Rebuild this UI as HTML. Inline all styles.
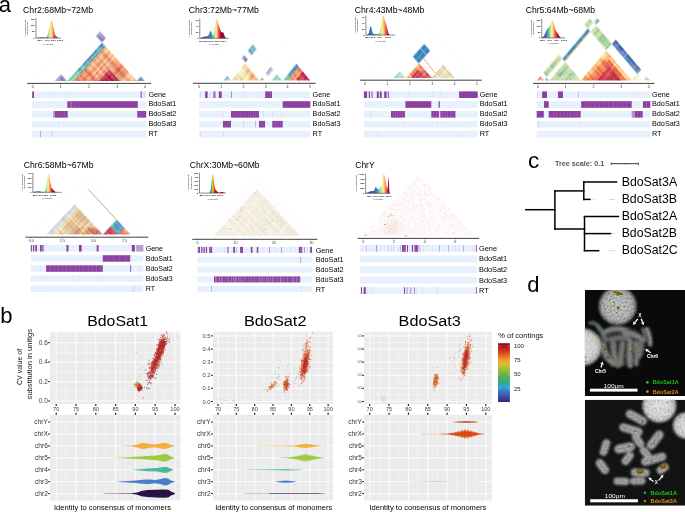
<!DOCTYPE html><html><head><meta charset="utf-8"><title>Figure</title>
<style>html,body{margin:0;padding:0;background:#fff;overflow:hidden}svg{display:block}text{font-family:"Liberation Sans",sans-serif}</style></head><body>
<svg width="685" height="512" viewBox="0 0 685 512">
<defs>
<linearGradient id="rain" x1="0" x2="1" y1="0" y2="0"><stop offset="0" stop-color="#5e4fa2"/><stop offset="0.3" stop-color="#5e4fa2"/><stop offset="0.42" stop-color="#3288bd"/><stop offset="0.5" stop-color="#66c2a5"/><stop offset="0.56" stop-color="#e6f598"/><stop offset="0.61" stop-color="#fee08b"/><stop offset="0.66" stop-color="#f46d43"/><stop offset="0.72" stop-color="#d53e4f"/><stop offset="0.8" stop-color="#9e0142"/><stop offset="1" stop-color="#9e0142"/></linearGradient>
<filter id="b15" x="-5%" y="-5%" width="110%" height="110%"><feGaussianBlur stdDeviation="0.24"/></filter>
<filter id="b25" x="-5%" y="-5%" width="110%" height="110%"><feGaussianBlur stdDeviation="0.4"/></filter>
<filter id="b35" x="-5%" y="-5%" width="110%" height="110%"><feGaussianBlur stdDeviation="0.56"/></filter>
<filter id="b50" x="-5%" y="-5%" width="110%" height="110%"><feGaussianBlur stdDeviation="0.8"/></filter>
</defs>
<rect width="685" height="512" fill="#fff"/>
<text x="-1.3" y="11.7" font-size="22">a</text>
<text x="23" y="13.1" font-size="8.7" textLength="70" lengthAdjust="spacingAndGlyphs">Chr2:68Mb~72Mb</text>
<linearGradient id="ig1" gradientUnits="userSpaceOnUse" x1="36" x2="60.7" y1="0" y2="0"><stop offset="0" stop-color="#5e4fa2"/><stop offset="0.19" stop-color="#4a6db0"/><stop offset="0.34" stop-color="#3288bd"/><stop offset="0.45" stop-color="#66c2a5"/><stop offset="0.52" stop-color="#abdda4"/><stop offset="0.57" stop-color="#e6f598"/><stop offset="0.62" stop-color="#fee08b"/><stop offset="0.67" stop-color="#fdae61"/><stop offset="0.71" stop-color="#f46d43"/><stop offset="0.78" stop-color="#d53e4f"/><stop offset="0.86" stop-color="#9e0142"/><stop offset="1" stop-color="#9e0142"/></linearGradient>
<path d="M36 38L36 37.91L36.3 37.88L36.7 37.86L37 37.83L37.3 37.79L37.7 37.75L38 37.71L38.3 37.67L38.7 37.62L39 37.57L39.3 37.53L39.7 37.48L40 37.44L40.3 37.4L40.7 37.37L41 37.34L41.3 37.32L41.7 37.3L42 37.3L42.3 37.3L42.7 37.32L43 37.34L43.3 37.36L43.7 37.39L44 37.42L44.3 37.45L44.7 37.47L45 37.48L45.3 37.45L45.7 37.39L46 37.26L46.3 37.04L46.7 36.7L47 36.21L47.3 35.53L47.7 34.65L48 33.52L48.4 32.16L48.7 30.58L49 28.83L49.4 26.98L49.7 25.13L50 23.39L50.4 21.9L50.7 20.76L51 20.07L51.4 19.88L51.7 20.21L52 21.03L52.4 22.25L52.7 23.78L53 25.49L53.4 27.26L53.7 28.98L54 30.56L54.4 31.96L54.7 33.15L55 34.13L55.4 34.93L55.7 35.58L56 36.1L56.4 36.53L56.7 36.88L57 37.16L57.4 37.39L57.7 37.57L58 37.71L58.4 37.81L58.7 37.88L59 37.93L59.4 37.96L59.7 37.98L60 37.99L60.4 37.99L60.7 38L60.7 38z" fill="url(#ig1)"/>
<line x1="36" y1="18.3" x2="36" y2="38.3" stroke="#222" stroke-width="0.5"/>
<line x1="35.8" y1="38.1" x2="60.7" y2="38.1" stroke="#222" stroke-width="0.5"/>
<text x="34.7" y="19.5" font-size="2.4" text-anchor="end" font-weight="bold" fill="#111">150</text>
<line x1="35.2" y1="18.7" x2="36" y2="18.7" stroke="#444" stroke-width="0.3"/>
<text x="34.7" y="25.8" font-size="2.4" text-anchor="end" font-weight="bold" fill="#111">100</text>
<line x1="35.2" y1="25" x2="36" y2="25" stroke="#444" stroke-width="0.3"/>
<text x="34.7" y="32.2" font-size="2.4" text-anchor="end" font-weight="bold" fill="#111">50</text>
<line x1="35.2" y1="31.4" x2="36" y2="31.4" stroke="#444" stroke-width="0.3"/>
<text x="34.7" y="38.5" font-size="2.4" text-anchor="end" font-weight="bold" fill="#111">0</text>
<line x1="35.2" y1="37.7" x2="36" y2="37.7" stroke="#444" stroke-width="0.3"/>
<text x="39.9" y="41.4" font-size="2.4" text-anchor="middle" font-weight="bold" fill="#111">85.0</text>
<line x1="39.9" y1="38" x2="39.9" y2="38.8" stroke="#444" stroke-width="0.3"/>
<text x="47.4" y="41.4" font-size="2.4" text-anchor="middle" font-weight="bold" fill="#111">90.0</text>
<line x1="47.4" y1="38" x2="47.4" y2="38.8" stroke="#444" stroke-width="0.3"/>
<text x="53.4" y="41.4" font-size="2.4" text-anchor="middle" font-weight="bold" fill="#111">95.0</text>
<line x1="53.4" y1="38" x2="53.4" y2="38.8" stroke="#444" stroke-width="0.3"/>
<text x="60.1" y="41.4" font-size="2.4" text-anchor="middle" font-weight="bold" fill="#111">100.0</text>
<line x1="60.1" y1="38" x2="60.1" y2="38.8" stroke="#444" stroke-width="0.3"/>
<text x="48.35" y="44.6" font-size="2.45" text-anchor="middle" fill="#333">% identity</text>
<text x="25.8" y="28.15" font-size="2.5" text-anchor="middle" fill="#222" transform="rotate(-90 25.8 28.15)"># of alignments</text>
<text x="28.2" y="28.15" font-size="2.5" text-anchor="middle" fill="#222" transform="rotate(-90 28.2 28.15)">(thousands)</text>
<g stroke="#f0a8b4" stroke-width="0.5" stroke-dasharray="0.7 1.3" opacity="0.26" fill="none">
<path d="M32.2 80.9L89.2 17.86L146.2 80.9"/>
<path d="M55 80.9L100.6 30.47"/>
<path d="M145 80.9L88.6 18.52"/>
</g>
<clipPath id="hc2"><rect x="0" y="0" width="685" height="80.9"/></clipPath>
<g clip-path="url(#hc2)"><g stroke-linecap="square" transform="matrix(0.5 0.55 0.5 -0.55 0 80.9)" filter="url(#b35)">
<path stroke="#9a91c5" stroke-width="2.5" d="M56.3 56.3h0M56.3 58.6h0M56.3 61h0M56.3 63.3h0M56.3 65.6h0"/>
<path stroke="#867bb9" stroke-width="2.5" d="M58.6 58.6h0"/>
<path stroke="#7c88c0" stroke-width="2.5" d="M58.6 61h0M58.6 63.3h0M58.6 65.6h0M61 61h0M61 63.3h0M61 65.6h0M63.3 63.3h0M63.3 65.6h0M65.6 65.6h0"/>
<path stroke="#7c88c0" stroke-width="2.7" d="M138.2 138.2h0M138.2 140.8h0M138.2 143.3h0M140.8 143.3h0M143.3 143.3h0"/>
<path stroke="#867bb9" stroke-width="2.7" d="M140.8 140.8h0M58.6 138.2h0M58.6 140.8h0M58.6 143.3h0M61 138.2h0M61 140.8h0M61 143.3h0M63.3 138.2h0M63.3 140.8h0M63.3 143.3h0M65.6 138.2h0M65.6 140.8h0M65.6 143.3h0"/>
<path stroke="#9a91c5" stroke-width="2.7" d="M56.3 138.2h0M56.3 140.8h0M56.3 143.3h0"/>
<path stroke="#73c7a5" stroke-width="2.5" d="M68.7 68.7h0M68.7 71.1h0M68.7 73.4h0M68.7 75.8h0M68.7 78.2h0M68.7 80.6h0M68.7 85.3h0M71.1 82.9h0M71.1 97.2h0M73.4 73.4h0M73.4 75.8h0M73.4 78.2h0M73.4 80.6h0M73.4 85.3h0"/>
<path stroke="#4fa9b0" stroke-width="2.5" d="M68.7 82.9h0M68.7 87.7h0M68.7 97.2h0M68.7 128.1h0M71.1 102h0M71.1 106.7h0M71.1 111.5h0M71.1 123.3h0M71.1 135.2h0M73.4 82.9h0M73.4 97.2h0"/>
<path stroke="#3f96b7" stroke-width="2.5" d="M68.7 90.1h0M68.7 92.4h0M68.7 99.6h0M68.7 104.3h0M68.7 111.5h0M68.7 113.8h0M68.7 118.6h0M68.7 125.7h0M68.7 130.5h0M71.1 109.1h0M71.1 116.2h0M71.1 121h0M71.1 132.8h0M73.4 87.7h0M73.4 90.1h0M73.4 92.4h0M73.4 99.6h0M73.4 104.3h0M73.4 113.8h0M73.4 118.6h0M73.4 128.1h0M73.4 130.5h0"/>
<path stroke="#60bba8" stroke-width="2.5" d="M68.7 94.8h0M71.1 87.7h0M71.1 90.1h0M71.1 92.4h0M71.1 99.6h0M71.1 104.3h0M71.1 113.8h0M71.1 118.6h0M71.1 125.7h0M71.1 128.1h0M71.1 130.5h0M73.4 94.8h0"/>
<path stroke="#3584bb" stroke-width="2.5" d="M68.7 102h0M68.7 106.7h0M68.7 121h0M68.7 123.3h0M68.7 135.2h0M73.4 102h0M73.4 106.7h0M73.4 111.5h0M73.4 123.3h0M73.4 125.7h0M73.4 135.2h0"/>
<path stroke="#4273b3" stroke-width="2.5" d="M68.7 109.1h0M68.7 116.2h0M68.7 132.8h0M73.4 109.1h0M73.4 116.2h0M73.4 121h0M73.4 132.8h0"/>
<path stroke="#9ed8a4" stroke-width="2.5" d="M71.1 71.1h0M71.1 75.8h0M71.1 78.2h0M71.1 80.6h0M71.1 85.3h0"/>
<path stroke="#88d0a4" stroke-width="2.5" d="M71.1 73.4h0M71.1 94.8h0"/>
<path stroke="#f06744" stroke-width="2.5" d="M75.8 75.8h0M75.8 97.2h0M78.2 78.2h0M78.2 80.6h0M80.6 80.6h0M87.7 94.8h0M97.2 97.2h0M99.6 128.1h0M102 128.1h0M106.7 123.3h0M106.7 135.2h0M109.1 123.3h0M109.1 135.2h0M111.5 128.1h0M113.8 125.7h0M116.2 125.7h0M116.2 130.5h0M118.6 125.7h0"/>
<path stroke="#e65848" stroke-width="2.5" d="M75.8 78.2h0M75.8 80.6h0M78.2 85.3h0M78.2 94.8h0M80.6 85.3h0M80.6 94.8h0M82.9 97.2h0M85.3 97.2h0M90.1 97.2h0M92.4 94.8h0M94.8 97.2h0M106.7 125.7h0M109.1 125.7h0M113.8 130.5h0M116.2 128.1h0M118.6 130.5h0"/>
<path stroke="#f88e52" stroke-width="2.5" d="M75.8 82.9h0M75.8 87.7h0M75.8 90.1h0M75.8 92.4h0M85.3 90.1h0M85.3 92.4h0M90.1 90.1h0M99.6 125.7h0M102 123.3h0M102 135.2h0M104.3 125.7h0M104.3 130.5h0M111.5 123.3h0M111.5 135.2h0M113.8 121h0M113.8 132.8h0M116.2 121h0M116.2 123.3h0M116.2 135.2h0M118.6 121h0M118.6 132.8h0M121 121h0"/>
<path stroke="#dd4a4c" stroke-width="2.5" d="M75.8 85.3h0M75.8 94.8h0M85.3 85.3h0M85.3 94.8h0M99.6 109.1h0M99.6 116.2h0M102 116.2h0M104.3 116.2h0M106.7 130.5h0M109.1 130.5h0M113.8 128.1h0M118.6 128.1h0"/>
<path stroke="#fcad70" stroke-width="2.5" d="M75.8 99.6h0M75.8 102h0M75.8 121h0M75.8 123.3h0M75.8 135.2h0M78.2 111.5h0M78.2 125.7h0M78.2 130.5h0M80.6 106.7h0M80.6 111.5h0M80.6 125.7h0M80.6 130.5h0M82.9 109.1h0M82.9 116.2h0M85.3 102h0M85.3 109.1h0M85.3 116.2h0M85.3 123.3h0M85.3 135.2h0M87.7 104.3h0M87.7 118.6h0M87.7 130.5h0M90.1 109.1h0M90.1 116.2h0M92.4 111.5h0M92.4 125.7h0M92.4 130.5h0M94.8 109.1h0M94.8 116.2h0M97.2 99.6h0M97.2 102h0M97.2 121h0M97.2 123.3h0M97.2 135.2h0M121 123.3h0M121 135.2h0M128.1 135.2h0M132.8 135.2h0"/>
<path stroke="#f27a5c" stroke-width="2.5" d="M75.8 104.3h0M75.8 113.8h0M75.8 118.6h0M75.8 128.1h0M82.9 111.5h0M82.9 130.5h0M85.3 104.3h0M85.3 118.6h0M90.1 111.5h0M90.1 130.5h0M94.8 111.5h0M94.8 130.5h0M97.2 104.3h0M97.2 113.8h0M97.2 118.6h0M97.2 128.1h0M121 128.1h0M128.1 128.1h0"/>
<path stroke="#f99c68" stroke-width="2.5" d="M75.8 106.7h0M75.8 125.7h0M78.2 104.3h0M78.2 113.8h0M78.2 118.6h0M78.2 128.1h0M80.6 104.3h0M80.6 118.6h0M82.9 99.6h0M82.9 102h0M82.9 121h0M82.9 123.3h0M82.9 135.2h0M85.3 99.6h0M85.3 121h0M87.7 113.8h0M87.7 128.1h0M90.1 99.6h0M90.1 102h0M90.1 121h0M90.1 123.3h0M90.1 135.2h0M92.4 104.3h0M92.4 113.8h0M92.4 118.6h0M92.4 128.1h0M94.8 99.6h0M94.8 102h0M94.8 121h0M94.8 123.3h0M94.8 135.2h0M97.2 106.7h0M97.2 125.7h0M121 125.7h0M123.3 128.1h0M125.7 125.7h0M125.7 130.5h0M135.2 135.2h0"/>
<path stroke="#fdbe79" stroke-width="2.5" d="M75.8 109.1h0M75.8 116.2h0M78.2 99.6h0M78.2 106.7h0M80.6 99.6h0M82.9 132.8h0M85.3 132.8h0M87.7 106.7h0M87.7 111.5h0M87.7 125.7h0M90.1 132.8h0M92.4 99.6h0M92.4 106.7h0M94.8 132.8h0M97.2 109.1h0M97.2 116.2h0M123.3 125.7h0M123.3 130.5h0M125.7 135.2h0M130.5 130.5h0M132.8 132.8h0"/>
<path stroke="#f78a5f" stroke-width="2.5" d="M75.8 111.5h0M75.8 130.5h0M80.6 113.8h0M80.6 128.1h0M82.9 106.7h0M82.9 125.7h0M85.3 106.7h0M85.3 111.5h0M85.3 125.7h0M85.3 130.5h0M90.1 106.7h0M90.1 125.7h0M94.8 106.7h0M94.8 125.7h0M97.2 111.5h0M97.2 130.5h0M121 130.5h0M125.7 128.1h0M128.1 130.5h0"/>
<path stroke="#fecb85" stroke-width="2.5" d="M75.8 132.8h0M78.2 102h0M78.2 121h0M78.2 123.3h0M78.2 135.2h0M80.6 102h0M80.6 109.1h0M80.6 121h0M80.6 123.3h0M80.6 135.2h0M87.7 99.6h0M87.7 121h0M87.7 123.3h0M87.7 135.2h0M92.4 102h0M92.4 121h0M92.4 123.3h0M92.4 135.2h0M97.2 132.8h0M121 132.8h0M128.1 132.8h0"/>
<path stroke="#fba25b" stroke-width="2.5" d="M78.2 82.9h0M78.2 87.7h0M78.2 90.1h0M78.2 92.4h0M80.6 82.9h0M80.6 87.7h0M80.6 90.1h0M80.6 92.4h0M92.4 92.4h0M99.6 123.3h0M99.6 135.2h0M102 121h0M104.3 123.3h0M104.3 135.2h0M111.5 121h0M116.2 132.8h0"/>
<path stroke="#f67949" stroke-width="2.5" d="M78.2 97.2h0M80.6 97.2h0M82.9 82.9h0M82.9 87.7h0M82.9 90.1h0M82.9 92.4h0M85.3 87.7h0M87.7 97.2h0M90.1 92.4h0M92.4 97.2h0M99.6 130.5h0M102 125.7h0M102 130.5h0M104.3 128.1h0M106.7 121h0M106.7 132.8h0M109.1 121h0M109.1 132.8h0M111.5 125.7h0M111.5 130.5h0M113.8 123.3h0M113.8 135.2h0M118.6 123.3h0M118.6 135.2h0"/>
<path stroke="#fed990" stroke-width="2.5" d="M78.2 109.1h0M78.2 116.2h0M80.6 116.2h0M80.6 132.8h0M87.7 102h0M87.7 109.1h0M87.7 116.2h0M92.4 109.1h0M92.4 116.2h0M123.3 123.3h0M123.3 135.2h0M125.7 132.8h0M130.5 135.2h0"/>
<path stroke="#fee69c" stroke-width="2.5" d="M78.2 132.8h0M87.7 132.8h0M92.4 132.8h0M123.3 132.8h0"/>
<path stroke="#d23a4e" stroke-width="2.5" d="M82.9 85.3h0M82.9 94.8h0M90.1 94.8h0M94.8 94.8h0M99.6 102h0M99.6 106.7h0M99.6 111.5h0M99.6 113.8h0M99.6 118.6h0M102 109.1h0M102 118.6h0M104.3 109.1h0M104.3 111.5h0M104.3 118.6h0M106.7 128.1h0M109.1 128.1h0M111.5 116.2h0"/>
<path stroke="#ea6d5f" stroke-width="2.5" d="M82.9 104.3h0M82.9 113.8h0M82.9 118.6h0M82.9 128.1h0M85.3 113.8h0M85.3 128.1h0M90.1 104.3h0M90.1 113.8h0M90.1 118.6h0M90.1 128.1h0M94.8 104.3h0M94.8 113.8h0M94.8 118.6h0M94.8 128.1h0"/>
<path stroke="#fdb466" stroke-width="2.5" d="M87.7 87.7h0M87.7 90.1h0M87.7 92.4h0M99.6 121h0M99.6 132.8h0M102 132.8h0M104.3 121h0M104.3 132.8h0M111.5 132.8h0"/>
<path stroke="#c0274a" stroke-width="2.5" d="M99.6 99.6h0M99.6 104.3h0M102 102h0M102 106.7h0M102 111.5h0M102 113.8h0M104.3 104.3h0M104.3 106.7h0M104.3 113.8h0M106.7 116.2h0M109.1 116.2h0M111.5 111.5h0M111.5 118.6h0M113.8 116.2h0M116.2 116.2h0"/>
<path stroke="#af1446" stroke-width="2.5" d="M102 104.3h0M106.7 106.7h0M106.7 109.1h0M106.7 111.5h0M106.7 118.6h0M109.1 109.1h0M109.1 118.6h0M111.5 113.8h0M113.8 118.6h0M116.2 118.6h0"/>
<path stroke="#9e0142" stroke-width="2.5" d="M106.7 113.8h0M109.1 111.5h0M109.1 113.8h0M113.8 113.8h0M118.6 118.6h0"/>
<path stroke="#feeeab" stroke-width="2.5" d="M130.5 132.8h0"/>
<path stroke="#d23a4e" stroke-width="2.6" d="M100.8 100.8h0M100.8 105.8h0M100.8 108.2h0M100.8 110.8h0M100.8 118.2h0M103.2 115.8h0M110.8 115.8h0"/>
<path stroke="#c0274a" stroke-width="2.6" d="M100.8 103.2h0M100.8 113.2h0M103.2 118.2h0M105.8 115.8h0M108.2 108.2h0M108.2 110.8h0M108.2 118.2h0M110.8 110.8h0M110.8 118.2h0M115.8 115.8h0"/>
<path stroke="#dd4a4c" stroke-width="2.6" d="M100.8 115.8h0M108.2 115.8h0"/>
<path stroke="#9e0142" stroke-width="2.6" d="M103.2 103.2h0M105.8 105.8h0M105.8 108.2h0M105.8 113.2h0M113.2 113.2h0M113.2 118.2h0"/>
<path stroke="#af1446" stroke-width="2.6" d="M103.2 105.8h0M103.2 108.2h0M103.2 110.8h0M103.2 113.2h0M105.8 110.8h0M105.8 118.2h0M108.2 113.2h0M110.8 113.2h0M113.2 115.8h0M115.8 118.2h0M118.2 118.2h0"/>
<path fill="#fff" opacity="0.4" d="M57.6 57.6h0.5v9.2h-0.5zM63.8 63.8h0.5v3h-0.5zM55.1 55.7h0.6v0.5h-0.6zM55.1 57h1.9v0.5h-1.9zM55.1 59.8h4.7v0.5h-4.7zM55.1 60.6h5.5v0.5h-5.5zM55.1 65.6h10.5v0.5h-10.5zM57.3 136.9h0.5v7.7h-0.5zM59.7 136.9h0.5v7.7h-0.5zM62.4 136.9h0.5v7.7h-0.5zM55.1 137.9h11.7v0.5h-11.7zM55.1 141h11.7v0.5h-11.7zM55.1 142h11.7v0.5h-11.7zM55.1 143.5h11.7v0.5h-11.7z"/>
<path fill="#5e4fa2" opacity="0.2" d="M59.7 59.7h0.5v7.1h-0.5zM61.1 61.1h0.5v5.7h-0.5zM55.1 62.1h7v0.5h-7zM55.1 63.6h8.5v0.5h-8.5zM137.7 137.7h0.5v6.9h-0.5zM139 139h0.5v5.6h-0.5zM136.9 139.1h2.2v0.5h-2.2zM64.6 136.9h0.5v7.7h-0.5zM65.5 136.9h0.5v7.7h-0.5zM55.1 137h11.7v0.5h-11.7zM55.1 138.8h11.7v0.5h-11.7z"/>
<path fill="#b9d4b0" opacity="0.4" d="M71 71h0.6v65.4h-0.6zM77.1 77.1h0.6v59.3h-0.6zM83.7 83.7h0.6v52.7h-0.6zM112.6 112.6h0.6v23.8h-0.6zM116.2 116.2h0.6v20.2h-0.6zM117.3 117.3h0.6v19.1h-0.6zM119 119h0.6v17.4h-0.6zM120.2 120.2h0.6v16.2h-0.6zM67.5 67.8h0.3v0.6h-0.3zM67.5 73.7h6.2v0.6h-6.2zM67.5 78.6h11.1v0.6h-11.1zM67.5 93.2h25.7v0.6h-25.7zM67.5 101h33.5v0.6h-33.5zM67.5 104.7h37.2v0.6h-37.2zM67.5 108.9h41.4v0.6h-41.4zM67.5 115h47.5v0.6h-47.5zM67.5 117.4h49.9v0.6h-49.9zM67.5 119.7h52.2v0.6h-52.2zM67.5 123h55.5v0.6h-55.5zM67.5 124.5h57v0.6h-57zM67.5 131h63.5v0.6h-63.5z"/>
<path fill="#fff" opacity="0.2" d="M71.8 71.8h0.6v64.6h-0.6zM86.7 86.7h0.6v49.7h-0.6zM92.4 92.4h0.6v44h-0.6zM94.9 94.9h0.6v41.5h-0.6zM99.9 99.9h0.6v36.5h-0.6zM103 103h0.6v33.4h-0.6zM113.5 113.5h0.6v22.9h-0.6zM123.4 123.4h0.6v13h-0.6zM125.9 125.9h0.6v10.5h-0.6zM67.5 79.4h11.9v0.6h-11.9zM67.5 89.8h22.3v0.6h-22.3zM67.5 92h24.5v0.6h-24.5zM67.5 95.4h27.9v0.6h-27.9zM67.5 96.9h29.4v0.6h-29.4zM67.5 107.7h40.2v0.6h-40.2zM67.5 121.6h54.1v0.6h-54.1zM67.5 129.5h62v0.6h-62zM99.5 104.6h5.1v0.6h-5.1z"/>
<path fill="#66c2a5" opacity="0.25" d="M73.3 73.3h0.6v63.1h-0.6zM132.1 132.1h0.6v4.3h-0.6zM67.5 88.3h20.8v0.6h-20.8zM67.5 91h23.5v0.6h-23.5zM67.5 94.1h26.6v0.6h-26.6zM67.5 98.1h30.6v0.6h-30.6zM67.5 120.5h53v0.6h-53zM67.5 126.8h59.3v0.6h-59.3zM67.5 128.4h60.9v0.6h-60.9z"/>
<path fill="#d53e4f" opacity="0.2" d="M76.4 76.4h0.6v60h-0.6zM82.2 82.2h0.6v54.2h-0.6zM88.5 88.5h0.6v47.9h-0.6zM89.8 89.8h0.6v46.6h-0.6zM94 94h0.6v42.4h-0.6zM95.7 95.7h0.6v40.7h-0.6zM96.6 96.6h0.6v39.8h-0.6zM98.3 98.3h0.6v38.1h-0.6zM104.2 104.2h0.6v32.2h-0.6zM105.5 105.5h0.6v30.9h-0.6zM109.7 109.7h0.6v26.7h-0.6zM122 122h0.6v14.4h-0.6zM130.5 130.5h0.6v5.9h-0.6zM133.2 133.2h0.6v3.2h-0.6zM67.5 84.8h17.3v0.6h-17.3zM67.5 87.4h19.9v0.6h-19.9zM67.5 110.9h43.4v0.6h-43.4zM67.5 116.3h48.8v0.6h-48.8zM67.5 132.5h65v0.6h-65z"/>
<path fill="#9e0142" opacity="0.3" d="M101.5 101.5h0.6v18h-0.6zM106.2 106.2h0.6v13.3h-0.6zM111.6 111.6h0.6v7.9h-0.6zM113.3 113.3h0.6v6.2h-0.6zM116 116h0.6v3.5h-0.6zM99.5 110.3h10.8v0.6h-10.8zM99.5 112.5h13v0.6h-13z"/>
<path fill="#f46d43" opacity="0.3" d="M103 103h0.6v16.5h-0.6zM107.6 107.6h0.6v11.9h-0.6zM117.5 117.5h0.6v2h-0.6zM99.5 99.7h0.2v0.6h-0.2zM99.5 105.7h6.2v0.6h-6.2zM99.5 108.8h9.3v0.6h-9.3zM99.5 115.6h16.1v0.6h-16.1z"/>
</g></g>
<line x1="27.2" y1="83.4" x2="151" y2="83.4" stroke="#2a2a2a" stroke-width="0.9"/>
<line x1="32.9" y1="83.4" x2="32.9" y2="84.4" stroke="#222" stroke-width="0.4"/>
<text x="32.9" y="88.4" font-size="3.7" text-anchor="middle" fill="#3a3a3a">0</text>
<line x1="60.8" y1="83.4" x2="60.8" y2="84.4" stroke="#222" stroke-width="0.4"/>
<text x="60.8" y="88.4" font-size="3.7" text-anchor="middle" fill="#3a3a3a">1</text>
<line x1="89" y1="83.4" x2="89" y2="84.4" stroke="#222" stroke-width="0.4"/>
<text x="89" y="88.4" font-size="3.7" text-anchor="middle" fill="#3a3a3a">2</text>
<line x1="117.2" y1="83.4" x2="117.2" y2="84.4" stroke="#222" stroke-width="0.4"/>
<text x="117.2" y="88.4" font-size="3.7" text-anchor="middle" fill="#3a3a3a">3</text>
<line x1="145" y1="83.4" x2="145" y2="84.4" stroke="#222" stroke-width="0.4"/>
<text x="145" y="88.4" font-size="3.7" text-anchor="middle" fill="#3a3a3a">4</text>
<rect x="32.2" y="91.4" width="114" height="6.6" fill="#e6f1fd"/>
<rect x="32.2" y="91.4" width="1.8" height="6.6" fill="#8b40a2"/>
<rect x="140.6" y="91.4" width="1.1" height="6.6" fill="#8b40a2"/>
<rect x="50.5" y="91.4" width="0.3" height="6.6" fill="#8b40a2" opacity="0.15"/>
<rect x="66.5" y="91.4" width="0.3" height="6.6" fill="#8b40a2" opacity="0.15"/>
<rect x="143.5" y="91.4" width="1.5" height="6.6" fill="#8b40a2" opacity="0.15"/>
<text x="148.4" y="96.65" font-size="7.25">Gene</text>
<rect x="32.2" y="101.2" width="114" height="6.6" fill="#e6f1fd"/>
<rect x="67.3" y="101.2" width="70.5" height="6.6" fill="#8b40a2"/>
<rect x="33" y="101.2" width="0.3" height="6.6" fill="#8b40a2" opacity="0.15"/>
<text x="148.4" y="106.45" font-size="7.25">BdoSat1</text>
<rect x="32.2" y="111" width="114" height="6.6" fill="#e6f1fd"/>
<rect x="53" y="111" width="2" height="6.6" fill="#8b40a2" opacity="0.5"/>
<rect x="55" y="111" width="12.7" height="6.6" fill="#8b40a2"/>
<rect x="137.3" y="111" width="8.9" height="6.6" fill="#8b40a2"/>
<text x="148.4" y="116.25" font-size="7.25">BdoSat2</text>
<rect x="32.2" y="120.9" width="114" height="6.6" fill="#e6f1fd"/>
<rect x="58.3" y="120.9" width="0.3" height="6.6" fill="#8b40a2" opacity="0.12"/>
<rect x="63" y="120.9" width="0.3" height="6.6" fill="#8b40a2" opacity="0.12"/>
<text x="148.4" y="126.15" font-size="7.25">BdoSat3</text>
<rect x="32.2" y="130.8" width="114" height="6.6" fill="#e6f1fd"/>
<rect x="40" y="130.8" width="0.5" height="6.6" fill="#8b40a2" opacity="0.8"/>
<rect x="51.2" y="130.8" width="0.4" height="6.6" fill="#8b40a2" opacity="0.3"/>
<rect x="52.5" y="130.8" width="0.3" height="6.6" fill="#8b40a2" opacity="0.12"/>
<text x="148.4" y="136.05" font-size="7.25">RT</text>
<rect x="70" y="101.2" width="2" height="6.6" fill="#fff" opacity="0.18"/>
<rect x="75.5" y="101.2" width="0.5" height="6.6" fill="#fff" opacity="0.18"/>
<rect x="79" y="101.2" width="0.4" height="6.6" fill="#fff" opacity="0.18"/>
<rect x="84" y="101.2" width="0.3" height="6.6" fill="#fff" opacity="0.18"/>
<rect x="57.5" y="111" width="0.5" height="6.6" fill="#fff" opacity="0.2"/>
<rect x="59.8" y="111" width="0.5" height="6.6" fill="#fff" opacity="0.2"/>
<rect x="62" y="111" width="0.5" height="6.6" fill="#fff" opacity="0.2"/>
<rect x="64.5" y="111" width="0.5" height="6.6" fill="#fff" opacity="0.2"/>
<rect x="139.5" y="111" width="0.5" height="6.6" fill="#fff" opacity="0.2"/>
<rect x="141.5" y="111" width="0.5" height="6.6" fill="#fff" opacity="0.2"/>
<rect x="143.8" y="111" width="0.5" height="6.6" fill="#fff" opacity="0.2"/>
<text x="188.7" y="13.1" font-size="8.7" textLength="70.3" lengthAdjust="spacingAndGlyphs">Chr3:72Mb~77Mb</text>
<linearGradient id="ig2" gradientUnits="userSpaceOnUse" x1="199.8" x2="228.6" y1="0" y2="0"><stop offset="0" stop-color="#5e4fa2"/><stop offset="0.29" stop-color="#4a6db0"/><stop offset="0.39" stop-color="#3288bd"/><stop offset="0.46" stop-color="#66c2a5"/><stop offset="0.51" stop-color="#abdda4"/><stop offset="0.55" stop-color="#e6f598"/><stop offset="0.58" stop-color="#fee08b"/><stop offset="0.61" stop-color="#fdae61"/><stop offset="0.64" stop-color="#f46d43"/><stop offset="0.68" stop-color="#d53e4f"/><stop offset="0.73" stop-color="#9e0142"/><stop offset="1" stop-color="#9e0142"/></linearGradient>
<path d="M199.8 38.2L199.8 37.98L200.1 37.92L200.5 37.85L200.8 37.78L201.1 37.69L201.5 37.59L201.8 37.48L202.1 37.37L202.5 37.25L202.8 37.12L203.1 36.99L203.5 36.86L203.8 36.74L204.2 36.63L204.5 36.53L204.8 36.44L205.2 36.37L205.5 36.32L205.8 36.3L206.2 36.29L206.5 36.29L206.8 36.29L207.2 36.27L207.5 36.2L207.8 36.04L208.2 35.74L208.5 35.27L208.8 34.61L209.2 33.79L209.5 32.9L209.8 32.04L210.2 31.38L210.5 31.05L210.9 31.11L211.2 31.58L211.5 32.35L211.9 33.29L212.2 34.2L212.5 34.91L212.9 35.27L213.2 35.18L213.5 34.56L213.9 33.4L214.2 31.72L214.5 29.6L214.9 27.19L215.2 24.71L215.5 22.41L215.9 20.54L216.2 19.3L216.5 18.8L216.9 19.03L217.2 19.84L217.5 21.03L217.9 22.39L218.2 23.73L218.6 24.94L218.9 26.02L219.2 26.99L219.6 27.92L219.9 28.87L220.2 29.83L220.6 30.74L220.9 31.52L221.2 32.06L221.6 32.33L221.9 32.35L222.2 32.23L222.6 32.12L222.9 32.19L223.2 32.54L223.6 33.18L223.9 34.04L224.2 35L224.6 35.91L224.9 36.68L225.3 37.27L225.6 37.67L225.9 37.92L226.3 38.06L226.6 38.14L226.9 38.17L227.3 38.19L227.6 38.2L227.9 38.2L228.3 38.2L228.6 38.2L228.6 38.2z" fill="url(#ig2)"/>
<line x1="199.8" y1="18.5" x2="199.8" y2="38.5" stroke="#222" stroke-width="0.5"/>
<line x1="199.6" y1="38.3" x2="228.6" y2="38.3" stroke="#222" stroke-width="0.5"/>
<text x="198.5" y="21.3" font-size="2.4" text-anchor="end" font-weight="bold" fill="#111">60</text>
<line x1="199" y1="20.5" x2="199.8" y2="20.5" stroke="#444" stroke-width="0.3"/>
<text x="198.5" y="27.1" font-size="2.4" text-anchor="end" font-weight="bold" fill="#111">40</text>
<line x1="199" y1="26.3" x2="199.8" y2="26.3" stroke="#444" stroke-width="0.3"/>
<text x="198.5" y="33" font-size="2.4" text-anchor="end" font-weight="bold" fill="#111">20</text>
<line x1="199" y1="32.2" x2="199.8" y2="32.2" stroke="#444" stroke-width="0.3"/>
<text x="198.5" y="38.8" font-size="2.4" text-anchor="end" font-weight="bold" fill="#111">0</text>
<line x1="199" y1="38" x2="199.8" y2="38" stroke="#444" stroke-width="0.3"/>
<text x="201.5" y="41.6" font-size="2.4" text-anchor="middle" font-weight="bold" fill="#111">80.0</text>
<line x1="201.5" y1="38.2" x2="201.5" y2="39" stroke="#444" stroke-width="0.3"/>
<text x="206.5" y="41.6" font-size="2.4" text-anchor="middle" font-weight="bold" fill="#111">85.0</text>
<line x1="206.5" y1="38.2" x2="206.5" y2="39" stroke="#444" stroke-width="0.3"/>
<text x="211.5" y="41.6" font-size="2.4" text-anchor="middle" font-weight="bold" fill="#111">90.0</text>
<line x1="211.5" y1="38.2" x2="211.5" y2="39" stroke="#444" stroke-width="0.3"/>
<text x="217" y="41.6" font-size="2.4" text-anchor="middle" font-weight="bold" fill="#111">95.0</text>
<line x1="217" y1="38.2" x2="217" y2="39" stroke="#444" stroke-width="0.3"/>
<text x="223" y="41.6" font-size="2.4" text-anchor="middle" font-weight="bold" fill="#111">100.0</text>
<line x1="223" y1="38.2" x2="223" y2="39" stroke="#444" stroke-width="0.3"/>
<text x="214.2" y="44.8" font-size="2.45" text-anchor="middle" fill="#333">% identity</text>
<text x="189.6" y="28.35" font-size="2.5" text-anchor="middle" fill="#222" transform="rotate(-90 189.6 28.35)"># of alignments</text>
<text x="192" y="28.35" font-size="2.5" text-anchor="middle" fill="#222" transform="rotate(-90 192 28.35)">(thousands)</text>
<clipPath id="c3o"><rect x="190" y="40" width="130" height="45"/></clipPath><g clip-path="url(#c3o)">
<g stroke="#f0a8b4" stroke-width="0.5" stroke-dasharray="0.7 1.3" opacity="0.26" fill="none">
<path d="M199 80.5L254.65 10.94L310.3 80.5"/>
<path d="M224 80.5L267.15 26.56"/>
<path d="M282 80.5L240.5 28.62"/>
</g>
</g>
<clipPath id="hc3"><rect x="0" y="0" width="685" height="80.5"/></clipPath>
<g clip-path="url(#hc3)"><g stroke-linecap="square" transform="matrix(0.5 0.62 0.5 -0.62 0 80.5)" filter="url(#b35)">
<path stroke="#7296c6" stroke-width="2.5" d="M225.1 225.1h0M225.1 227.5h0M225.1 229.9h0"/>
<path stroke="#96d5bb" stroke-width="2.5" d="M227.5 227.5h0M227.5 229.9h0M229.9 229.9h0"/>
<path stroke="#ffffc7" stroke-width="2.6" d="M232.8 232.8h0M232.8 247.8h0M237.8 245.3h0M237.8 247.8h0M242.8 245.3h0M242.8 250.3h0"/>
<path stroke="#fed990" stroke-width="2.6" d="M232.8 235.3h0M240.3 245.3h0M240.3 250.3h0M242.8 255.3h0M245.3 252.8h0M245.3 257.8h0M247.8 247.8h0"/>
<path stroke="#fecb85" stroke-width="2.6" d="M232.8 237.8h0M232.8 255.3h0M237.8 237.8h0M237.8 255.3h0M247.8 250.3h0M250.3 250.3h0M252.8 255.3h0M257.8 257.8h0"/>
<path stroke="#fff3c3" stroke-width="2.6" d="M232.8 240.3h0"/>
<path stroke="#fee69c" stroke-width="2.6" d="M232.8 242.8h0M232.8 252.8h0M232.8 257.8h0M237.8 242.8h0M237.8 252.8h0M237.8 257.8h0M240.3 247.8h0M242.8 242.8h0M242.8 252.8h0M242.8 257.8h0M252.8 252.8h0M252.8 257.8h0"/>
<path stroke="#fff7b9" stroke-width="2.6" d="M232.8 245.3h0M232.8 250.3h0M237.8 250.3h0M245.3 245.3h0M245.3 247.8h0"/>
<path stroke="#fee4b0" stroke-width="2.6" d="M235.3 235.3h0M235.3 242.8h0"/>
<path stroke="#fedaa8" stroke-width="2.6" d="M235.3 237.8h0M235.3 255.3h0M240.3 240.3h0"/>
<path stroke="#fff5cf" stroke-width="2.6" d="M235.3 240.3h0"/>
<path stroke="#fff9cd" stroke-width="2.6" d="M235.3 245.3h0M235.3 250.3h0M237.8 240.3h0"/>
<path stroke="#ffffd7" stroke-width="2.6" d="M235.3 247.8h0"/>
<path stroke="#feedb9" stroke-width="2.6" d="M235.3 252.8h0M235.3 257.8h0"/>
<path stroke="#fcad70" stroke-width="2.6" d="M240.3 242.8h0M247.8 252.8h0M247.8 257.8h0M250.3 252.8h0M250.3 257.8h0"/>
<path stroke="#fdbe79" stroke-width="2.6" d="M240.3 252.8h0M240.3 257.8h0M245.3 255.3h0M255.3 257.8h0"/>
<path stroke="#f99c68" stroke-width="2.6" d="M240.3 255.3h0M255.3 255.3h0"/>
<path stroke="#f8fcbc" stroke-width="2.6" d="M242.8 247.8h0"/>
<path stroke="#feeeab" stroke-width="2.6" d="M245.3 250.3h0"/>
<path stroke="#f78a5f" stroke-width="2.6" d="M247.8 255.3h0M250.3 255.3h0"/>
<path stroke="#73c3b3" stroke-width="2.4" d="M261.1 261.1h0M261.1 263.4h0"/>
<path stroke="#a7dcc7" stroke-width="2.4" d="M263.4 263.4h0"/>
<path stroke="#84ceb0" stroke-width="2.6" d="M273.2 273.2h0M273.2 275.6h0M273.2 278.1h0M273.2 280.5h0M278.1 278.1h0M278.1 280.5h0M280.5 280.5h0"/>
<path stroke="#96d5bb" stroke-width="2.6" d="M275.6 275.6h0M275.6 278.1h0M275.6 280.5h0"/>
<path stroke="#60bba8" stroke-width="2.6" d="M284.4 284.4h0M284.4 291.7h0M286.9 291.7h0"/>
<path stroke="#73c7a5" stroke-width="2.6" d="M284.4 286.9h0M284.4 289.3h0M286.9 286.9h0M286.9 289.3h0"/>
<path stroke="#3f96b7" stroke-width="2.6" d="M284.4 294.2h0M284.4 299h0M284.4 306.3h0M284.4 308.8h0M286.9 294.2h0M286.9 296.6h0M286.9 299h0M286.9 301.5h0M286.9 306.3h0M286.9 308.8h0"/>
<path stroke="#3584bb" stroke-width="2.6" d="M284.4 296.6h0M284.4 301.5h0M284.4 303.9h0M286.9 303.9h0"/>
<path stroke="#f67949" stroke-width="2.6" d="M289.3 289.3h0M289.3 299h0M289.3 308.8h0M291.7 291.7h0M291.7 296.6h0M291.7 301.5h0M296.6 296.6h0"/>
<path stroke="#fba25b" stroke-width="2.6" d="M289.3 291.7h0M289.3 296.6h0M289.3 301.5h0M294.2 294.2h0M294.2 306.3h0"/>
<path stroke="#f88e52" stroke-width="2.6" d="M289.3 294.2h0M289.3 306.3h0M291.7 303.9h0M294.2 299h0M294.2 308.8h0"/>
<path stroke="#fdb466" stroke-width="2.6" d="M289.3 303.9h0M294.2 296.6h0M294.2 301.5h0"/>
<path stroke="#f06744" stroke-width="2.6" d="M291.7 294.2h0M291.7 306.3h0"/>
<path stroke="#e65848" stroke-width="2.6" d="M291.7 299h0M291.7 308.8h0M301.5 303.9h0"/>
<path stroke="#fdc473" stroke-width="2.6" d="M294.2 303.9h0"/>
<path stroke="#9e0142" stroke-width="2.6" d="M296.6 299h0M296.6 308.8h0M303.9 308.8h0"/>
<path stroke="#c0274a" stroke-width="2.6" d="M296.6 301.5h0M299 306.3h0M301.5 308.8h0"/>
<path stroke="#d23a4e" stroke-width="2.6" d="M296.6 303.9h0M299 301.5h0M299 303.9h0M301.5 306.3h0M303.9 303.9h0M306.3 308.8h0"/>
<path stroke="#af1446" stroke-width="2.6" d="M296.6 306.3h0M299 299h0M299 308.8h0M303.9 306.3h0M308.8 308.8h0"/>
<path stroke="#dd4a4c" stroke-width="2.6" d="M301.5 301.5h0M306.3 306.3h0"/>
<path stroke="#67a3cc" stroke-width="2.6" d="M225.1 273.2h0M225.1 275.6h0M227.5 273.2h0M227.5 275.6h0M229.9 273.2h0M229.9 275.6h0"/>
<path stroke="#6fb1c9" stroke-width="2.6" d="M225.1 278.1h0M225.1 280.5h0M227.5 278.1h0M227.5 280.5h0M229.9 278.1h0M229.9 280.5h0"/>
<path stroke="#7c88c0" stroke-width="2.5" d="M225.1 261.1h0M229.9 261.1h0"/>
<path stroke="#867bb9" stroke-width="2.5" d="M225.1 263.4h0M227.5 261.1h0M227.5 263.4h0M229.9 263.4h0"/>
<path stroke="#aea7d0" stroke-width="2.6" d="M261.1 273.2h0M261.1 275.6h0M261.1 278.1h0M261.1 280.5h0"/>
<path stroke="#c3bddc" stroke-width="2.6" d="M263.4 273.2h0M263.4 275.6h0M263.4 278.1h0"/>
<path stroke="#bdc4df" stroke-width="2.6" d="M263.4 280.5h0"/>
<path fill="#5e4fa2" opacity="0.2" d="M225.1 225.1h0.5v6h-0.5zM223.9 230.6h6.7v0.5h-6.7zM225 272h0.5v9.7h-0.5zM229 272h0.5v9.7h-0.5zM223.9 279.3h7.2v0.5h-7.2zM223.9 262.7h7.2v0.5h-7.2zM223.9 263.8h7.2v0.5h-7.2zM260 272h0.5v9.7h-0.5z"/>
<path fill="#fff" opacity="0.4" d="M227.6 227.6h0.5v3.5h-0.5zM228.9 228.9h0.5v2.2h-0.5zM223.9 224h0.1v0.5h-0.1zM223.9 225.8h1.9v0.5h-1.9zM223.9 226.7h2.8v0.5h-2.8zM223.9 227.9h4v0.5h-4zM227.7 272h0.5v9.7h-0.5zM223.9 272.8h7.2v0.5h-7.2zM223.9 276.6h7.2v0.5h-7.2zM223.9 280.6h7.2v0.5h-7.2zM224.1 260h0.5v4.5h-0.5zM225 260h0.5v4.5h-0.5zM226.1 260h0.5v4.5h-0.5zM230.2 260h0.5v4.5h-0.5zM223.9 261.8h7.2v0.5h-7.2zM263 272h0.5v9.7h-0.5zM260 275.4h4.5v0.5h-4.5zM260 278h4.5v0.5h-4.5z"/>
<path fill="#66c2a5" opacity="0.25" d="M233.2 233.2h0.6v25.8h-0.6zM242.4 242.4h0.6v16.6h-0.6zM231.6 234.8h3.2v0.6h-3.2zM231.6 252.1h20.5v0.6h-20.5z"/>
<path fill="#d53e4f" opacity="0.2" d="M235.8 235.8h0.6v23.2h-0.6zM241.5 241.5h0.6v17.5h-0.6zM247.3 247.3h0.6v11.7h-0.6zM252.8 252.8h0.6v6.2h-0.6zM255.9 255.9h0.6v3.1h-0.6zM258.2 258.2h0.6v0.8h-0.6zM231.6 233.4h1.8v0.6h-1.8zM231.6 239.8h8.2v0.6h-8.2zM231.6 256.4h24.8v0.6h-24.8zM231.6 257.6h26v0.6h-26zM288.5 288.5h0.6v21.5h-0.6zM298.5 298.5h0.6v11.5h-0.6zM302.1 302.1h0.6v7.9h-0.6zM303.3 303.3h0.6v6.7h-0.6zM283.2 293.5h10.3v0.6h-10.3zM283.2 294.4h11.2v0.6h-11.2zM283.2 304h20.8v0.6h-20.8zM283.2 305.8h22.6v0.6h-22.6zM283.2 306.9h23.7v0.6h-23.7z"/>
<path fill="#b9d4b0" opacity="0.4" d="M236.8 236.8h0.6v22.2h-0.6zM251.6 251.6h0.6v7.4h-0.6zM231.6 232.3h0.7v0.6h-0.7zM231.6 236h4.4v0.6h-4.4zM231.6 241.4h9.8v0.6h-9.8zM231.6 243h11.4v0.6h-11.4zM231.6 247.8h16.2v0.6h-16.2zM231.6 255.5h23.9v0.6h-23.9z"/>
<path fill="#fff" opacity="0.2" d="M243.4 243.4h0.6v15.6h-0.6zM245 245h0.6v14h-0.6zM231.6 249.6h18v0.6h-18z"/>
<path fill="#abdda4" opacity="0.3" d="M261 261h0.5v3.5h-0.5zM260 261.9h1.9v0.5h-1.9zM260 263.8h3.8v0.5h-3.8zM278.2 278.2h0.5v3.5h-0.5zM272 274.1h2.1v0.5h-2.1z"/>
<path fill="#3288bd" opacity="0.25" d="M260 262.7h2.7v0.5h-2.7zM273.1 273.1h0.5v8.6h-0.5zM272 273h1v0.5h-1z"/>
<path fill="#fff" opacity="0.3" d="M276.4 276.4h0.5v5.3h-0.5zM272 278.5h6.5v0.5h-6.5z"/>
<path fill="#fff" opacity="0.15" d="M285.9 285.9h0.6v24.1h-0.6zM291.8 291.8h0.6v18.2h-0.6zM292.9 292.9h0.6v17.1h-0.6zM283.2 285.7h2.5v0.6h-2.5zM283.2 297h13.8v0.6h-13.8zM283.2 299.4h16.2v0.6h-16.2z"/>
<path fill="#b9d4b0" opacity="0.25" d="M287 287h0.6v23h-0.6zM296.3 296.3h0.6v13.7h-0.6zM299.4 299.4h0.6v10.6h-0.6zM304.4 304.4h0.6v5.6h-0.6zM308.6 308.6h0.6v1.4h-0.6zM283.2 296.1h12.9v0.6h-12.9z"/>
<path fill="#fdae61" opacity="0.25" d="M290.2 290.2h0.6v19.8h-0.6zM294.5 294.5h0.6v15.5h-0.6zM297.4 297.4h0.6v12.6h-0.6zM300.5 300.5h0.6v9.5h-0.6zM305.3 305.3h0.6v4.7h-0.6zM283.2 298.2h15v0.6h-15z"/>
</g></g>
<line x1="193" y1="83.3" x2="315.7" y2="83.3" stroke="#2a2a2a" stroke-width="0.9"/>
<line x1="199" y1="83.3" x2="199" y2="84.3" stroke="#222" stroke-width="0.4"/>
<text x="199" y="88.4" font-size="3.7" text-anchor="middle" fill="#3a3a3a">0</text>
<line x1="221.2" y1="83.3" x2="221.2" y2="84.3" stroke="#222" stroke-width="0.4"/>
<text x="221.2" y="88.4" font-size="3.7" text-anchor="middle" fill="#3a3a3a">1</text>
<line x1="243.5" y1="83.3" x2="243.5" y2="84.3" stroke="#222" stroke-width="0.4"/>
<text x="243.5" y="88.4" font-size="3.7" text-anchor="middle" fill="#3a3a3a">2</text>
<line x1="265.7" y1="83.3" x2="265.7" y2="84.3" stroke="#222" stroke-width="0.4"/>
<text x="265.7" y="88.4" font-size="3.7" text-anchor="middle" fill="#3a3a3a">3</text>
<line x1="287.6" y1="83.3" x2="287.6" y2="84.3" stroke="#222" stroke-width="0.4"/>
<text x="287.6" y="88.4" font-size="3.7" text-anchor="middle" fill="#3a3a3a">4</text>
<line x1="310" y1="83.3" x2="310" y2="84.3" stroke="#222" stroke-width="0.4"/>
<text x="310" y="88.4" font-size="3.7" text-anchor="middle" fill="#3a3a3a">5</text>
<rect x="199" y="91.4" width="111.3" height="6.6" fill="#e6f1fd"/>
<rect x="205.1" y="91.4" width="2.5" height="6.6" fill="#8b40a2"/>
<rect x="213.2" y="91.4" width="2.4" height="6.6" fill="#8b40a2" opacity="0.7"/>
<rect x="218.8" y="91.4" width="2.9" height="6.6" fill="#8b40a2"/>
<rect x="231" y="91.4" width="0.6" height="6.6" fill="#8b40a2"/>
<rect x="243.7" y="91.4" width="0.4" height="6.6" fill="#8b40a2" opacity="0.2"/>
<rect x="258.3" y="91.4" width="0.4" height="6.6" fill="#8b40a2" opacity="0.2"/>
<rect x="265.2" y="91.4" width="6.8" height="6.6" fill="#8b40a2"/>
<rect x="200.3" y="91.4" width="0.5" height="6.6" fill="#8b40a2" opacity="0.25"/>
<rect x="210.2" y="91.4" width="0.4" height="6.6" fill="#8b40a2" opacity="0.3"/>
<text x="312.6" y="96.65" font-size="7.25">Gene</text>
<rect x="199" y="101.2" width="111.3" height="6.6" fill="#e6f1fd"/>
<rect x="282.7" y="101.2" width="27.6" height="6.6" fill="#8b40a2"/>
<text x="312.6" y="106.45" font-size="7.25">BdoSat1</text>
<rect x="199" y="111" width="111.3" height="6.6" fill="#e6f1fd"/>
<rect x="222.5" y="111" width="0.4" height="6.6" fill="#8b40a2" opacity="0.3"/>
<rect x="231" y="111" width="28" height="6.6" fill="#8b40a2"/>
<rect x="263" y="111" width="0.4" height="6.6" fill="#8b40a2" opacity="0.25"/>
<rect x="272.5" y="111" width="0.4" height="6.6" fill="#8b40a2" opacity="0.3"/>
<rect x="281.5" y="111" width="0.4" height="6.6" fill="#8b40a2" opacity="0.2"/>
<text x="312.6" y="116.25" font-size="7.25">BdoSat2</text>
<rect x="199" y="120.9" width="111.3" height="6.6" fill="#e6f1fd"/>
<rect x="223" y="120.9" width="8" height="6.6" fill="#8b40a2"/>
<rect x="243.2" y="120.9" width="0.4" height="6.6" fill="#8b40a2" opacity="0.4"/>
<rect x="255.2" y="120.9" width="0.5" height="6.6" fill="#8b40a2" opacity="0.7"/>
<rect x="259" y="120.9" width="6" height="6.6" fill="#8b40a2"/>
<rect x="272.3" y="120.9" width="10.4" height="6.6" fill="#8b40a2"/>
<text x="312.6" y="126.15" font-size="7.25">BdoSat3</text>
<rect x="199" y="130.8" width="111.3" height="6.6" fill="#e6f1fd"/>
<rect x="200.5" y="130.8" width="0.4" height="6.6" fill="#8b40a2" opacity="0.3"/>
<rect x="223.4" y="130.8" width="0.4" height="6.6" fill="#8b40a2" opacity="0.3"/>
<text x="312.6" y="136.05" font-size="7.25">RT</text>
<rect x="233.5" y="111" width="0.45" height="6.6" fill="#fff" opacity="0.2"/>
<rect x="236" y="111" width="0.45" height="6.6" fill="#fff" opacity="0.2"/>
<rect x="238.2" y="111" width="0.45" height="6.6" fill="#fff" opacity="0.2"/>
<rect x="240.5" y="111" width="0.45" height="6.6" fill="#fff" opacity="0.2"/>
<rect x="243" y="111" width="0.45" height="6.6" fill="#fff" opacity="0.2"/>
<rect x="245.5" y="111" width="0.45" height="6.6" fill="#fff" opacity="0.2"/>
<rect x="248" y="111" width="0.45" height="6.6" fill="#fff" opacity="0.2"/>
<rect x="250.5" y="111" width="0.45" height="6.6" fill="#fff" opacity="0.2"/>
<rect x="253" y="111" width="0.45" height="6.6" fill="#fff" opacity="0.2"/>
<rect x="255.5" y="111" width="0.45" height="6.6" fill="#fff" opacity="0.2"/>
<rect x="257.6" y="111" width="0.45" height="6.6" fill="#fff" opacity="0.2"/>
<rect x="225" y="120.9" width="0.45" height="6.6" fill="#fff" opacity="0.2"/>
<rect x="227.5" y="120.9" width="0.45" height="6.6" fill="#fff" opacity="0.2"/>
<rect x="229.5" y="120.9" width="0.45" height="6.6" fill="#fff" opacity="0.2"/>
<rect x="261" y="120.9" width="0.45" height="6.6" fill="#fff" opacity="0.2"/>
<rect x="263" y="120.9" width="0.45" height="6.6" fill="#fff" opacity="0.2"/>
<rect x="275" y="120.9" width="0.45" height="6.6" fill="#fff" opacity="0.2"/>
<rect x="277.5" y="120.9" width="0.45" height="6.6" fill="#fff" opacity="0.2"/>
<rect x="280" y="120.9" width="0.45" height="6.6" fill="#fff" opacity="0.2"/>
<rect x="267" y="91.4" width="0.4" height="6.6" fill="#fff" opacity="0.2"/>
<rect x="269" y="91.4" width="0.4" height="6.6" fill="#fff" opacity="0.2"/>
<rect x="270.5" y="91.4" width="0.4" height="6.6" fill="#fff" opacity="0.2"/>
<text x="354.7" y="13.1" font-size="8.7" textLength="69.7" lengthAdjust="spacingAndGlyphs">Chr4:43Mb~48Mb</text>
<linearGradient id="ig3" gradientUnits="userSpaceOnUse" x1="365.9" x2="395.2" y1="0" y2="0"><stop offset="0" stop-color="#5e4fa2"/><stop offset="0.09" stop-color="#5e4fa2"/><stop offset="0.16" stop-color="#3a70c0"/><stop offset="0.26" stop-color="#3288bd"/><stop offset="0.41" stop-color="#66c2a5"/><stop offset="0.49" stop-color="#abdda4"/><stop offset="0.54" stop-color="#e6f598"/><stop offset="0.58" stop-color="#fee08b"/><stop offset="0.62" stop-color="#fdae61"/><stop offset="0.67" stop-color="#f46d43"/><stop offset="0.71" stop-color="#d53e4f"/><stop offset="0.77" stop-color="#9e0142"/><stop offset="1" stop-color="#9e0142"/></linearGradient>
<path d="M365.9 35L365.9 34.96L366.2 34.95L366.6 34.93L366.9 34.9L367.2 34.85L367.6 34.74L367.9 34.53L368.3 34.14L368.6 33.49L368.9 32.51L369.3 31.2L369.6 29.67L369.9 28.14L370.3 26.93L370.6 26.32L371 26.46L371.3 27.31L371.6 28.62L372 30.1L372.3 31.46L372.6 32.53L373 33.27L373.3 33.7L373.6 33.93L374 34.02L374.3 34.05L374.7 34.04L375 34.03L375.3 34.01L375.7 34L376 34L376.3 34L376.7 34.01L377 34.01L377.4 34.02L377.7 34.01L378 33.97L378.4 33.88L378.7 33.7L379 33.38L379.4 32.86L379.7 32.08L380 30.99L380.4 29.52L380.7 27.7L381.1 25.57L381.4 23.24L381.7 20.91L382.1 18.78L382.4 17.08L382.7 15.98L383.1 15.57L383.4 15.83L383.7 16.65L384.1 17.81L384.4 19.09L384.8 20.31L385.1 21.38L385.4 22.3L385.8 23.17L386.1 24.13L386.4 25.25L386.8 26.58L387.1 28.06L387.5 29.57L387.8 30.99L388.1 32.21L388.5 33.18L388.8 33.89L389.1 34.36L389.5 34.66L389.8 34.83L390.1 34.92L390.5 34.96L390.8 34.98L391.2 34.99L391.5 35L391.8 35L392.2 35L392.5 35L392.8 35L393.2 35L393.5 35L393.9 35L394.2 35L394.5 35L394.9 35L395.2 35L395.2 35z" fill="url(#ig3)"/>
<line x1="365.9" y1="15.5" x2="365.9" y2="35.3" stroke="#222" stroke-width="0.5"/>
<line x1="365.7" y1="35.1" x2="395.2" y2="35.1" stroke="#222" stroke-width="0.5"/>
<text x="364.6" y="17.8" font-size="2.4" text-anchor="end" font-weight="bold" fill="#111">60</text>
<line x1="365.1" y1="17" x2="365.9" y2="17" stroke="#444" stroke-width="0.3"/>
<text x="364.6" y="23.8" font-size="2.4" text-anchor="end" font-weight="bold" fill="#111">40</text>
<line x1="365.1" y1="23" x2="365.9" y2="23" stroke="#444" stroke-width="0.3"/>
<text x="364.6" y="29.8" font-size="2.4" text-anchor="end" font-weight="bold" fill="#111">20</text>
<line x1="365.1" y1="29" x2="365.9" y2="29" stroke="#444" stroke-width="0.3"/>
<text x="364.6" y="35.6" font-size="2.4" text-anchor="end" font-weight="bold" fill="#111">0</text>
<line x1="365.1" y1="34.8" x2="365.9" y2="34.8" stroke="#444" stroke-width="0.3"/>
<text x="367.5" y="38.4" font-size="2.4" text-anchor="middle" font-weight="bold" fill="#111">85.0</text>
<line x1="367.5" y1="35" x2="367.5" y2="35.8" stroke="#444" stroke-width="0.3"/>
<text x="373" y="38.4" font-size="2.4" text-anchor="middle" font-weight="bold" fill="#111">90.0</text>
<line x1="373" y1="35" x2="373" y2="35.8" stroke="#444" stroke-width="0.3"/>
<text x="379.5" y="38.4" font-size="2.4" text-anchor="middle" font-weight="bold" fill="#111">95.0</text>
<line x1="379.5" y1="35" x2="379.5" y2="35.8" stroke="#444" stroke-width="0.3"/>
<text x="388" y="38.4" font-size="2.4" text-anchor="middle" font-weight="bold" fill="#111">100.0</text>
<line x1="388" y1="35" x2="388" y2="35.8" stroke="#444" stroke-width="0.3"/>
<text x="380.55" y="41.6" font-size="2.45" text-anchor="middle" fill="#333">% identity</text>
<text x="355.7" y="25.25" font-size="2.5" text-anchor="middle" fill="#222" transform="rotate(-90 355.7 25.25)"># of alignments</text>
<text x="358.1" y="25.25" font-size="2.5" text-anchor="middle" fill="#222" transform="rotate(-90 358.1 25.25)">(thousands)</text>
<g stroke="#f0a8b4" stroke-width="0.5" stroke-dasharray="0.7 1.3" opacity="0.26" fill="none">
<path d="M363.9 78L420.8 16.55L477.7 78"/>
<path d="M394 78L435.85 32.8"/>
<path d="M455 78L409.45 28.81"/>
</g>
<clipPath id="hc4"><rect x="0" y="0" width="685" height="78"/></clipPath>
<g clip-path="url(#hc4)"><g stroke-linecap="square" transform="matrix(0.5 0.56 0.5 -0.56 0 78)" filter="url(#b35)">
<path stroke="#7bbec3" stroke-width="2.5" d="M395.2 395.2h0M395.2 399.8h0"/>
<path stroke="#73c3b3" stroke-width="2.5" d="M395.2 397.5h0"/>
<path stroke="#97d5b0" stroke-width="2.5" d="M395.2 402.1h0"/>
<path stroke="#96d5bb" stroke-width="2.5" d="M395.2 404.4h0M399.8 399.8h0"/>
<path stroke="#a7dcc7" stroke-width="2.5" d="M397.5 397.5h0"/>
<path stroke="#afddd4" stroke-width="2.5" d="M397.5 399.8h0"/>
<path stroke="#b5e1c6" stroke-width="2.5" d="M397.5 402.1h0"/>
<path stroke="#c4e7d2" stroke-width="2.5" d="M397.5 404.4h0"/>
<path stroke="#aaddb0" stroke-width="2.5" d="M399.8 402.1h0M402.1 402.1h0"/>
<path stroke="#b6e2bb" stroke-width="2.5" d="M399.8 404.4h0M402.1 404.4h0M404.4 404.4h0"/>
<path stroke="#fdb466" stroke-width="2.5" d="M407.3 407.3h0M407.3 426h0M409.6 428.3h0"/>
<path stroke="#fba25b" stroke-width="2.5" d="M407.3 409.6h0M409.6 426h0"/>
<path stroke="#fed480" stroke-width="2.5" d="M407.3 411.9h0"/>
<path stroke="#f67949" stroke-width="2.5" d="M407.3 414.3h0M407.3 419h0M407.3 430.6h0M409.6 416.6h0M409.6 419h0M409.6 423.6h0M409.6 430.6h0M411.9 426h0M414.3 430.6h0M421.3 426h0"/>
<path stroke="#f88e52" stroke-width="2.5" d="M407.3 416.6h0M407.3 421.3h0M407.3 423.6h0M409.6 409.6h0M409.6 421.3h0M411.9 428.3h0M421.3 428.3h0M428.3 428.3h0"/>
<path stroke="#fdc473" stroke-width="2.5" d="M407.3 428.3h0M409.6 411.9h0M414.3 428.3h0"/>
<path stroke="#f06744" stroke-width="2.5" d="M409.6 414.3h0M414.3 426h0M419 428.3h0"/>
<path stroke="#e65848" stroke-width="2.5" d="M411.9 411.9h0M416.6 428.3h0M416.6 430.6h0M421.3 421.3h0M421.3 423.6h0M423.6 428.3h0M426 428.3h0"/>
<path stroke="#9e0142" stroke-width="2.5" d="M411.9 414.3h0"/>
<path stroke="#af1446" stroke-width="2.5" d="M411.9 416.6h0M411.9 419h0M411.9 421.3h0M411.9 423.6h0M416.6 419h0M423.6 430.6h0"/>
<path stroke="#dd4a4c" stroke-width="2.5" d="M411.9 430.6h0M414.3 416.6h0M414.3 419h0M414.3 421.3h0M414.3 423.6h0M419 426h0M421.3 430.6h0M426 426h0M428.3 430.6h0M430.6 430.6h0"/>
<path stroke="#d23a4e" stroke-width="2.5" d="M414.3 414.3h0M416.6 426h0M419 421.3h0M423.6 426h0"/>
<path stroke="#c0274a" stroke-width="2.5" d="M416.6 416.6h0M416.6 421.3h0M416.6 423.6h0M419 419h0M419 423.6h0M419 430.6h0M423.6 423.6h0M426 430.6h0"/>
<path stroke="#e48e66" stroke-width="1.8" d="M432.6 432.6h0M435.9 440.7h0M435.9 453.7h0"/>
<path stroke="#e9ce8d" stroke-width="1.8" d="M432.6 434.2h0M432.6 445.6h0M432.6 450.4h0M432.6 452.1h0M434.2 440.7h0M434.2 453.7h0M437.5 444h0M440.7 444h0M444 453.7h0"/>
<path stroke="#e8aa74" stroke-width="1.8" d="M432.6 435.9h0M432.6 444h0M435.9 444h0M442.3 453.7h0M450.4 453.7h0"/>
<path stroke="#e9c284" stroke-width="1.8" d="M432.6 437.5h0M432.6 442.3h0M435.9 442.3h0M435.9 445.6h0M435.9 450.4h0M435.9 452.1h0M437.5 440.7h0M440.7 440.7h0M442.3 444h0M442.3 447.2h0M452.1 453.7h0M453.7 453.7h0"/>
<path stroke="#e59d6d" stroke-width="1.8" d="M432.6 440.7h0M432.6 453.7h0M435.9 435.9h0"/>
<path stroke="#e8b87b" stroke-width="1.8" d="M432.6 447.2h0M435.9 437.5h0M435.9 447.2h0M437.5 453.7h0M440.7 453.7h0M445.6 453.7h0"/>
<path stroke="#e9d897" stroke-width="1.8" d="M432.6 448.8h0M434.2 435.9h0M434.2 444h0M435.9 448.8h0M437.5 447.2h0M440.7 447.2h0M442.3 442.3h0M442.3 445.6h0M442.3 450.4h0M442.3 452.1h0M445.6 447.2h0M450.4 450.4h0M450.4 452.1h0"/>
<path stroke="#eaecb9" stroke-width="1.8" d="M434.2 434.2h0M434.2 445.6h0M434.2 450.4h0M434.2 452.1h0M437.5 448.8h0M440.7 448.8h0M444 445.6h0M444 450.4h0M444 452.1h0M445.6 448.8h0"/>
<path stroke="#eae6ae" stroke-width="1.8" d="M434.2 437.5h0M434.2 442.3h0M437.5 445.6h0M440.7 445.6h0M440.7 450.4h0M444 447.2h0M452.1 452.1h0"/>
<path stroke="#e9dea3" stroke-width="1.8" d="M434.2 447.2h0M437.5 437.5h0M437.5 442.3h0M437.5 450.4h0M437.5 452.1h0M440.7 442.3h0M440.7 452.1h0M442.3 448.8h0M444 444h0M445.6 445.6h0M445.6 450.4h0M445.6 452.1h0"/>
<path stroke="#e4eab0" stroke-width="1.8" d="M434.2 448.8h0"/>
<path stroke="#dfe8a8" stroke-width="1.8" d="M444 448.8h0"/>
<path stroke="#e8b484" stroke-width="1.8" d="M447.2 447.2h0"/>
<path stroke="#e9d29a" stroke-width="1.8" d="M447.2 448.8h0M448.8 453.7h0"/>
<path stroke="#e9c992" stroke-width="1.8" d="M447.2 450.4h0M447.2 452.1h0"/>
<path stroke="#e49c78" stroke-width="1.8" d="M447.2 453.7h0"/>
<path stroke="#e5eab8" stroke-width="1.8" d="M448.8 448.8h0"/>
<path stroke="#eaecc0" stroke-width="1.8" d="M448.8 450.4h0M448.8 452.1h0"/>
<path stroke="#3584bb" stroke-width="2.7" d="M395.2 433.1h0M395.2 435.6h0M395.2 438.1h0M395.2 440.6h0M395.2 443.2h0M395.2 445.7h0M395.2 448.2h0M395.2 450.7h0M395.2 453.2h0M397.5 433.1h0M397.5 435.6h0M397.5 438.1h0M397.5 440.6h0M397.5 443.2h0M397.5 445.7h0M397.5 448.2h0M397.5 450.7h0M397.5 453.2h0M399.8 433.1h0M399.8 435.6h0M399.8 438.1h0M399.8 440.6h0M399.8 443.2h0M399.8 445.7h0M399.8 448.2h0M399.8 450.7h0M399.8 453.2h0M402.1 433.1h0M402.1 435.6h0M402.1 438.1h0M402.1 440.6h0M402.1 443.2h0M402.1 445.7h0M402.1 448.2h0M402.1 450.7h0M402.1 453.2h0M404.4 433.1h0M404.4 435.6h0M404.4 438.1h0M404.4 440.6h0M404.4 443.2h0M404.4 445.7h0M404.4 448.2h0M404.4 450.7h0M404.4 453.2h0"/>
<path fill="#fff" opacity="0.3" d="M396.8 396.8h0.5v8.8h-0.5zM399.5 399.5h0.5v6.1h-0.5zM394 398.2h4.2v0.5h-4.2zM394 399.5h5.5v0.5h-5.5z"/>
<path fill="#abdda4" opacity="0.3" d="M394 395.9h1.9v0.5h-1.9zM394 397.1h3.1v0.5h-3.1z"/>
<path fill="#3288bd" opacity="0.25" d="M394 402.6h8.6v0.5h-8.6z"/>
<path fill="#fff" opacity="0.15" d="M407.2 407.2h0.6v24.6h-0.6zM415.9 415.9h0.6v15.9h-0.6zM416.8 416.8h0.6v15h-0.6zM406.1 408.4h2.3v0.6h-2.3zM406.1 415.9h9.8v0.6h-9.8zM406.1 419.3h13.2v0.6h-13.2zM406.1 426.4h20.3v0.6h-20.3z"/>
<path fill="#b9d4b0" opacity="0.25" d="M410 410h0.6v21.8h-0.6zM419.3 419.3h0.6v12.5h-0.6zM420.8 420.8h0.6v11h-0.6zM406.1 409.8h3.7v0.6h-3.7zM406.1 411.4h5.3v0.6h-5.3zM406.1 414.3h8.2v0.6h-8.2z"/>
<path fill="#fdae61" opacity="0.25" d="M412.7 412.7h0.6v19.1h-0.6zM413.5 413.5h0.6v18.3h-0.6zM422.2 422.2h0.6v9.6h-0.6zM428.7 428.7h0.6v3.1h-0.6zM406.1 407.1h1v0.6h-1zM406.1 412.5h6.4v0.6h-6.4zM406.1 423.1h17v0.6h-17zM406.1 424.1h18v0.6h-18zM406.1 428.1h22v0.6h-22zM406.1 429.3h23.2v0.6h-23.2zM406.1 431.1h25v0.6h-25z"/>
<path fill="#d53e4f" opacity="0.2" d="M414.5 414.5h0.6v17.3h-0.6zM418.5 418.5h0.6v13.3h-0.6zM423.7 423.7h0.6v8.1h-0.6zM406.1 417.4h11.3v0.6h-11.3zM406.1 418.4h12.3v0.6h-12.3zM406.1 420.3h14.2v0.6h-14.2zM406.1 422.2h16.1v0.6h-16.1zM406.1 425.1h19v0.6h-19zM431.8 443.5h11.7v0.6h-11.7z"/>
<path fill="#66c2a5" opacity="0.25" d="M432.1 432.1h0.6v22.4h-0.6zM439.2 439.2h0.6v15.3h-0.6zM446 446h0.6v8.5h-0.6zM448.1 448.1h0.6v6.4h-0.6zM452.5 452.5h0.6v2h-0.6z"/>
<path fill="#b9d4b0" opacity="0.4" d="M435.4 435.4h0.6v19.1h-0.6zM440 440h0.6v14.5h-0.6zM443.9 443.9h0.6v10.6h-0.6zM451.4 451.4h0.6v3.1h-0.6zM431.8 433.9h2.1v0.6h-2.1zM431.8 438.1h6.3v0.6h-6.3zM431.8 439.7h7.9v0.6h-7.9zM431.8 440.6h8.8v0.6h-8.8zM431.8 444.4h12.6v0.6h-12.6zM431.8 446.7h14.9v0.6h-14.9zM431.8 448h16.2v0.6h-16.2z"/>
<path fill="#fff" opacity="0.2" d="M438 438h0.6v16.5h-0.6zM441.6 441.6h0.6v12.9h-0.6zM442.4 442.4h0.6v12.1h-0.6zM450.4 450.4h0.6v4.1h-0.6zM431.8 435.2h3.4v0.6h-3.4zM431.8 436.5h4.7v0.6h-4.7zM431.8 449.8h18v0.6h-18zM431.8 452.4h20.6v0.6h-20.6z"/>
<path fill="#fff" opacity="0.55" d="M400.4 431.8h0.5v22.7h-0.5zM394 437.2h11.6v0.5h-11.6zM394 446.3h11.6v0.5h-11.6zM394 447.2h11.6v0.5h-11.6z"/>
</g></g>
<line x1="422.6" y1="57.2" x2="435.3" y2="73.4" stroke="#e8935a" stroke-width="0.8"/>
<line x1="359.8" y1="80.2" x2="481.8" y2="80.2" stroke="#2a2a2a" stroke-width="0.9"/>
<line x1="365.1" y1="80.2" x2="365.1" y2="81.2" stroke="#222" stroke-width="0.4"/>
<text x="365.1" y="85.3" font-size="3.7" text-anchor="middle" fill="#3a3a3a">0</text>
<line x1="387.3" y1="80.2" x2="387.3" y2="81.2" stroke="#222" stroke-width="0.4"/>
<text x="387.3" y="85.3" font-size="3.7" text-anchor="middle" fill="#3a3a3a">1</text>
<line x1="409.8" y1="80.2" x2="409.8" y2="81.2" stroke="#222" stroke-width="0.4"/>
<text x="409.8" y="85.3" font-size="3.7" text-anchor="middle" fill="#3a3a3a">2</text>
<line x1="432.3" y1="80.2" x2="432.3" y2="81.2" stroke="#222" stroke-width="0.4"/>
<text x="432.3" y="85.3" font-size="3.7" text-anchor="middle" fill="#3a3a3a">3</text>
<line x1="454.5" y1="80.2" x2="454.5" y2="81.2" stroke="#222" stroke-width="0.4"/>
<text x="454.5" y="85.3" font-size="3.7" text-anchor="middle" fill="#3a3a3a">4</text>
<line x1="476.7" y1="80.2" x2="476.7" y2="81.2" stroke="#222" stroke-width="0.4"/>
<text x="476.7" y="85.3" font-size="3.7" text-anchor="middle" fill="#3a3a3a">5</text>
<rect x="363.9" y="91.4" width="113.8" height="6.6" fill="#e6f1fd"/>
<rect x="363.9" y="91.4" width="3.2" height="6.6" fill="#8b40a2"/>
<rect x="368.8" y="91.4" width="1.2" height="6.6" fill="#8b40a2"/>
<rect x="371.5" y="91.4" width="1" height="6.6" fill="#8b40a2"/>
<rect x="376.8" y="91.4" width="2" height="6.6" fill="#8b40a2"/>
<rect x="379.8" y="91.4" width="1.9" height="6.6" fill="#8b40a2"/>
<rect x="384.2" y="91.4" width="2.4" height="6.6" fill="#8b40a2"/>
<rect x="387.8" y="91.4" width="1" height="6.6" fill="#8b40a2"/>
<rect x="459.1" y="91.4" width="18.6" height="6.6" fill="#8b40a2"/>
<rect x="408" y="91.4" width="0.4" height="6.6" fill="#8b40a2" opacity="0.15"/>
<rect x="432.5" y="91.4" width="0.4" height="6.6" fill="#8b40a2" opacity="0.2"/>
<rect x="440.3" y="91.4" width="0.4" height="6.6" fill="#8b40a2" opacity="0.15"/>
<text x="479.7" y="96.65" font-size="7.25">Gene</text>
<rect x="363.9" y="101.2" width="113.8" height="6.6" fill="#e6f1fd"/>
<rect x="405.4" y="101.2" width="25.9" height="6.6" fill="#8b40a2"/>
<rect x="438.6" y="101.2" width="1.2" height="6.6" fill="#8b40a2"/>
<text x="479.7" y="106.45" font-size="7.25">BdoSat1</text>
<rect x="363.9" y="111" width="113.8" height="6.6" fill="#e6f1fd"/>
<rect x="370.3" y="111" width="0.4" height="6.6" fill="#8b40a2" opacity="0.3"/>
<rect x="391" y="111" width="13.9" height="6.6" fill="#8b40a2"/>
<rect x="431.3" y="111" width="7.8" height="6.6" fill="#8b40a2"/>
<rect x="440.3" y="111" width="15.1" height="6.6" fill="#8b40a2"/>
<text x="479.7" y="116.25" font-size="7.25">BdoSat2</text>
<rect x="363.9" y="120.9" width="113.8" height="6.6" fill="#e6f1fd"/>
<rect x="403.7" y="120.9" width="0.4" height="6.6" fill="#8b40a2" opacity="0.15"/>
<rect x="437.1" y="120.9" width="0.4" height="6.6" fill="#8b40a2" opacity="0.15"/>
<rect x="442.7" y="120.9" width="0.4" height="6.6" fill="#8b40a2" opacity="0.12"/>
<rect x="466" y="120.9" width="0.4" height="6.6" fill="#8b40a2" opacity="0.12"/>
<text x="479.7" y="126.15" font-size="7.25">BdoSat3</text>
<rect x="363.9" y="130.8" width="113.8" height="6.6" fill="#e6f1fd"/>
<rect x="376.8" y="130.8" width="0.4" height="6.6" fill="#8b40a2" opacity="0.15"/>
<rect x="458.1" y="130.8" width="0.4" height="6.6" fill="#8b40a2" opacity="0.15"/>
<text x="479.7" y="136.05" font-size="7.25">RT</text>
<rect x="393" y="111" width="0.5" height="6.6" fill="#fff" opacity="0.25"/>
<rect x="395.2" y="111" width="0.5" height="6.6" fill="#fff" opacity="0.25"/>
<rect x="397.5" y="111" width="0.5" height="6.6" fill="#fff" opacity="0.25"/>
<rect x="399.8" y="111" width="0.5" height="6.6" fill="#fff" opacity="0.25"/>
<rect x="402" y="111" width="0.5" height="6.6" fill="#fff" opacity="0.25"/>
<rect x="433.5" y="111" width="0.5" height="6.6" fill="#fff" opacity="0.25"/>
<rect x="436" y="111" width="0.5" height="6.6" fill="#fff" opacity="0.25"/>
<rect x="442.5" y="111" width="0.5" height="6.6" fill="#fff" opacity="0.25"/>
<rect x="445" y="111" width="0.5" height="6.6" fill="#fff" opacity="0.25"/>
<rect x="447.5" y="111" width="0.5" height="6.6" fill="#fff" opacity="0.25"/>
<rect x="450" y="111" width="0.5" height="6.6" fill="#fff" opacity="0.25"/>
<rect x="452.5" y="111" width="0.5" height="6.6" fill="#fff" opacity="0.25"/>
<text x="525.7" y="13.1" font-size="8.7" textLength="69.4" lengthAdjust="spacingAndGlyphs">Chr5:64Mb~68Mb</text>
<linearGradient id="ig4" gradientUnits="userSpaceOnUse" x1="541.8" x2="565.1" y1="0" y2="0"><stop offset="0" stop-color="#5e4fa2"/><stop offset="0.14" stop-color="#5050a8"/><stop offset="0.22" stop-color="#3288bd"/><stop offset="0.3" stop-color="#66c2a5"/><stop offset="0.36" stop-color="#abdda4"/><stop offset="0.41" stop-color="#e6f598"/><stop offset="0.46" stop-color="#fee08b"/><stop offset="0.51" stop-color="#fdae61"/><stop offset="0.56" stop-color="#f46d43"/><stop offset="0.62" stop-color="#d53e4f"/><stop offset="0.69" stop-color="#9e0142"/><stop offset="1" stop-color="#9e0142"/></linearGradient>
<path d="M541.8 37.8L541.8 37.61L542.1 37.48L542.5 37.31L542.8 37.07L543.2 36.75L543.5 36.36L543.8 35.88L544.2 35.32L544.5 34.69L544.8 34.01L545.2 33.28L545.5 32.53L545.9 31.76L546.2 31.01L546.5 30.31L546.9 29.66L547.2 29.11L547.5 28.65L547.9 28.27L548.2 27.95L548.6 27.63L548.9 27.28L549.2 26.84L549.6 26.26L549.9 25.54L550.2 24.68L550.6 23.73L550.9 22.76L551.3 21.85L551.6 21.09L551.9 20.57L552.3 20.35L552.6 20.47L552.9 20.94L553.3 21.72L553.6 22.76L554 23.99L554.3 25.3L554.6 26.62L555 27.86L555.3 28.96L555.6 29.9L556 30.67L556.3 31.3L556.7 31.84L557 32.32L557.3 32.81L557.7 33.32L558 33.87L558.3 34.45L558.7 35.03L559 35.6L559.4 36.11L559.7 36.56L560 36.92L560.4 37.21L560.7 37.41L561 37.56L561.4 37.66L561.7 37.72L562.1 37.76L562.4 37.78L562.7 37.79L563.1 37.79L563.4 37.8L563.7 37.8L564.1 37.8L564.4 37.8L564.8 37.8L565.1 37.8L565.1 37.8z" fill="url(#ig4)"/>
<line x1="541.8" y1="18.8" x2="541.8" y2="38.1" stroke="#222" stroke-width="0.5"/>
<line x1="541.6" y1="37.9" x2="565.1" y2="37.9" stroke="#222" stroke-width="0.5"/>
<text x="540.5" y="20.8" font-size="2.4" text-anchor="end" font-weight="bold" fill="#111">150</text>
<line x1="541" y1="20" x2="541.8" y2="20" stroke="#444" stroke-width="0.3"/>
<text x="540.5" y="26.8" font-size="2.4" text-anchor="end" font-weight="bold" fill="#111">100</text>
<line x1="541" y1="26" x2="541.8" y2="26" stroke="#444" stroke-width="0.3"/>
<text x="540.5" y="32.8" font-size="2.4" text-anchor="end" font-weight="bold" fill="#111">50</text>
<line x1="541" y1="32" x2="541.8" y2="32" stroke="#444" stroke-width="0.3"/>
<text x="540.5" y="38.4" font-size="2.4" text-anchor="end" font-weight="bold" fill="#111">0</text>
<line x1="541" y1="37.6" x2="541.8" y2="37.6" stroke="#444" stroke-width="0.3"/>
<text x="542.5" y="41.2" font-size="2.4" text-anchor="middle" font-weight="bold" fill="#111">85.0</text>
<line x1="542.5" y1="37.8" x2="542.5" y2="38.6" stroke="#444" stroke-width="0.3"/>
<text x="549.5" y="41.2" font-size="2.4" text-anchor="middle" font-weight="bold" fill="#111">90.0</text>
<line x1="549.5" y1="37.8" x2="549.5" y2="38.6" stroke="#444" stroke-width="0.3"/>
<text x="556.5" y="41.2" font-size="2.4" text-anchor="middle" font-weight="bold" fill="#111">95.0</text>
<line x1="556.5" y1="37.8" x2="556.5" y2="38.6" stroke="#444" stroke-width="0.3"/>
<text x="564" y="41.2" font-size="2.4" text-anchor="middle" font-weight="bold" fill="#111">100.0</text>
<line x1="564" y1="37.8" x2="564" y2="38.6" stroke="#444" stroke-width="0.3"/>
<text x="553.45" y="44.4" font-size="2.45" text-anchor="middle" fill="#333">% identity</text>
<text x="531.6" y="28.3" font-size="2.5" text-anchor="middle" fill="#222" transform="rotate(-90 531.6 28.3)"># of alignments</text>
<text x="534" y="28.3" font-size="2.5" text-anchor="middle" fill="#222" transform="rotate(-90 534 28.3)">(thousands)</text>
<clipPath id="hc5"><rect x="0" y="0" width="685" height="80.5"/></clipPath>
<g clip-path="url(#hc5)"><g stroke-linecap="square" transform="matrix(0.5 0.59 0.5 -0.59 0 80.5)" filter="url(#b35)">
<path stroke="#f99c68" stroke-width="2.4" d="M538 538h0M540.3 542.6h0"/>
<path stroke="#f27a5c" stroke-width="2.4" d="M538 540.3h0"/>
<path stroke="#d75364" stroke-width="2.4" d="M538 542.6h0M542.6 542.6h0"/>
<path stroke="#fecb85" stroke-width="2.4" d="M540.3 540.3h0"/>
<path stroke="#bce4ae" stroke-width="2.5" d="M545.2 545.2h0"/>
<path stroke="#73c3b3" stroke-width="2.5" d="M545.2 547.5h0"/>
<path stroke="#6675b5" stroke-width="2.5" d="M547.5 547.5h0"/>
<path stroke="#d9e2ab" stroke-width="2.6" d="M550.7 550.7h0M550.7 557.9h0M550.7 560.3h0M550.7 579.5h0M553.1 557.9h0M553.1 579.5h0M557.9 577.1h0M562.7 565.1h0M562.7 579.5h0M572.3 574.7h0"/>
<path stroke="#d3e0a2" stroke-width="2.6" d="M550.7 553.1h0M550.7 574.7h0M553.1 553.1h0M553.1 574.7h0M557.9 557.9h0M557.9 565.1h0M557.9 579.5h0M562.7 574.7h0M569.9 577.1h0M574.7 577.1h0"/>
<path stroke="#ded79c" stroke-width="2.6" d="M550.7 555.5h0M553.1 555.5h0M557.9 560.3h0"/>
<path stroke="#a7ce9f" stroke-width="2.6" d="M550.7 562.7h0M553.1 562.7h0M565.1 567.5h0M565.1 569.9h0M565.1 577.1h0M567.5 572.3h0M567.5 579.5h0M569.9 569.9h0"/>
<path stroke="#c2d99a" stroke-width="2.6" d="M550.7 565.1h0M550.7 567.5h0M550.7 572.3h0M553.1 565.1h0M553.1 567.5h0M553.1 572.3h0M555.5 560.3h0M557.9 569.9h0M562.7 572.3h0M567.5 574.7h0M579.5 579.5h0"/>
<path stroke="#cede99" stroke-width="2.6" d="M550.7 569.9h0M553.1 569.9h0M557.9 562.7h0M557.9 574.7h0M562.7 562.7h0M572.3 572.3h0M574.7 579.5h0"/>
<path stroke="#dfe4b4" stroke-width="2.6" d="M550.7 577.1h0M553.1 577.1h0M562.7 567.5h0M562.7 569.9h0M562.7 577.1h0M572.3 579.5h0M577.1 579.5h0"/>
<path stroke="#ded090" stroke-width="2.6" d="M553.1 560.3h0"/>
<path stroke="#b5d49c" stroke-width="2.6" d="M555.5 555.5h0M557.9 567.5h0M557.9 572.3h0M567.5 567.5h0M567.5 569.9h0M567.5 577.1h0M569.9 574.7h0M574.7 574.7h0"/>
<path stroke="#89c3a0" stroke-width="2.6" d="M555.5 557.9h0M555.5 579.5h0"/>
<path stroke="#7abca1" stroke-width="2.6" d="M555.5 562.7h0M555.5 574.7h0M565.1 574.7h0"/>
<path stroke="#5599ae" stroke-width="2.6" d="M555.5 565.1h0"/>
<path stroke="#60a6a9" stroke-width="2.6" d="M555.5 567.5h0M555.5 572.3h0"/>
<path stroke="#6cb3a3" stroke-width="2.6" d="M555.5 569.9h0"/>
<path stroke="#99c8a0" stroke-width="2.6" d="M555.5 577.1h0M565.1 565.1h0M565.1 572.3h0M565.1 579.5h0M569.9 572.3h0M569.9 579.5h0"/>
<path stroke="#dfe4bf" stroke-width="2.6" d="M560.3 560.3h0"/>
<path stroke="#bfd7ae" stroke-width="2.6" d="M560.3 562.7h0M560.3 574.7h0"/>
<path stroke="#d2dfac" stroke-width="2.6" d="M560.3 565.1h0M560.3 579.5h0"/>
<path stroke="#d6e1b2" stroke-width="2.6" d="M560.3 567.5h0M560.3 577.1h0"/>
<path stroke="#b6d4b0" stroke-width="2.6" d="M560.3 569.9h0"/>
<path stroke="#aad0b1" stroke-width="2.6" d="M560.3 572.3h0"/>
<path stroke="#dfdda8" stroke-width="2.6" d="M572.3 577.1h0M577.1 577.1h0"/>
<path stroke="#fdb466" stroke-width="2.6" d="M582.4 582.4h0M584.8 620.9h0"/>
<path stroke="#fba25b" stroke-width="2.6" d="M582.4 584.8h0M582.4 589.6h0M582.4 594.4h0M582.4 604h0M582.4 608.9h0M582.4 618.5h0M584.8 584.8h0M584.8 589.6h0M584.8 594.4h0M584.8 604h0M584.8 608.9h0M584.8 618.5h0M587.2 596.8h0M587.2 599.2h0M587.2 606.5h0M587.2 611.3h0M587.2 613.7h0M589.6 599.2h0M589.6 606.5h0M589.6 611.3h0M589.6 613.7h0M601.6 606.5h0M601.6 611.3h0M601.6 613.7h0"/>
<path stroke="#f88e52" stroke-width="2.6" d="M582.4 587.2h0M584.8 587.2h0M587.2 592h0M587.2 601.6h0M587.2 616.1h0M589.6 592h0M589.6 596.8h0M589.6 601.6h0M594.4 606.5h0M594.4 611.3h0M594.4 613.7h0M601.6 601.6h0M601.6 623.3h0M623.3 623.3h0"/>
<path stroke="#fdc473" stroke-width="2.6" d="M582.4 592h0M582.4 596.8h0M582.4 601.6h0M582.4 616.1h0M584.8 592h0M584.8 596.8h0M584.8 601.6h0M584.8 616.1h0"/>
<path stroke="#fed480" stroke-width="2.6" d="M582.4 599.2h0M582.4 606.5h0M582.4 611.3h0M582.4 613.7h0M584.8 599.2h0M584.8 606.5h0M584.8 611.3h0M584.8 613.7h0"/>
<path stroke="#fecb85" stroke-width="2.6" d="M582.4 620.9h0M587.2 623.3h0M587.2 628.1h0M592 630.5h0M594.4 630.5h0M596.8 630.5h0M604 630.5h0M606.5 630.5h0M613.7 630.5h0M628.1 630.5h0M630.5 630.5h0"/>
<path stroke="#feeeab" stroke-width="2.6" d="M582.4 623.3h0M584.8 623.3h0M601.6 630.5h0M618.5 628.1h0M623.3 628.1h0"/>
<path stroke="#fee69c" stroke-width="2.6" d="M582.4 625.7h0M582.4 628.1h0M584.8 625.7h0M584.8 628.1h0M608.9 628.1h0M611.3 628.1h0M616.1 628.1h0M618.5 630.5h0M620.9 628.1h0M623.3 630.5h0M625.7 628.1h0"/>
<path stroke="#fed990" stroke-width="2.6" d="M582.4 630.5h0M584.8 630.5h0M592 628.1h0M594.4 628.1h0M596.8 628.1h0M604 628.1h0M606.5 628.1h0M608.9 630.5h0M611.3 630.5h0M613.7 628.1h0M616.1 630.5h0M620.9 630.5h0M625.7 630.5h0M628.1 628.1h0"/>
<path stroke="#f06744" stroke-width="2.6" d="M587.2 587.2h0M587.2 594.4h0M587.2 608.9h0M587.2 618.5h0M589.6 589.6h0M589.6 594.4h0M589.6 604h0M589.6 608.9h0M589.6 620.9h0M592 592h0M592 601.6h0M592 616.1h0M592 623.3h0M592 625.7h0M594.4 616.1h0M594.4 625.7h0M596.8 601.6h0M596.8 616.1h0M596.8 623.3h0M596.8 625.7h0M601.6 604h0M601.6 608.9h0M601.6 620.9h0M604 606.5h0M604 611.3h0M604 613.7h0M606.5 606.5h0M606.5 611.3h0M606.5 613.7h0M606.5 623.3h0M608.9 616.1h0M608.9 623.3h0M608.9 625.7h0M611.3 623.3h0M613.7 613.7h0M613.7 623.3h0M616.1 623.3h0M618.5 620.9h0M620.9 623.3h0M620.9 625.7h0M625.7 625.7h0"/>
<path stroke="#f67949" stroke-width="2.6" d="M587.2 589.6h0M587.2 604h0M587.2 620.9h0M589.6 616.1h0M592 596.8h0M592 599.2h0M592 606.5h0M592 611.3h0M592 613.7h0M594.4 596.8h0M594.4 599.2h0M594.4 601.6h0M594.4 623.3h0M596.8 596.8h0M596.8 599.2h0M596.8 606.5h0M596.8 611.3h0M596.8 613.7h0M601.6 616.1h0M601.6 625.7h0M608.9 611.3h0M608.9 613.7h0M611.3 611.3h0M611.3 613.7h0M618.5 623.3h0M618.5 625.7h0M623.3 625.7h0"/>
<path stroke="#fdbe79" stroke-width="2.6" d="M587.2 625.7h0M587.2 630.5h0M589.6 623.3h0M589.6 625.7h0M589.6 628.1h0M599.2 628.1h0"/>
<path stroke="#e65848" stroke-width="2.6" d="M589.6 618.5h0M592 604h0M592 620.9h0M594.4 594.4h0M594.4 604h0M594.4 608.9h0M594.4 620.9h0M596.8 620.9h0M599.2 599.2h0M599.2 606.5h0M599.2 611.3h0M599.2 613.7h0M601.6 618.5h0M604 616.1h0M604 623.3h0M604 625.7h0M606.5 616.1h0M606.5 625.7h0M608.9 620.9h0M611.3 616.1h0M611.3 625.7h0M613.7 616.1h0M613.7 625.7h0M616.1 616.1h0M616.1 625.7h0M618.5 618.5h0M620.9 620.9h0"/>
<path stroke="#fcad70" stroke-width="2.6" d="M589.6 630.5h0M599.2 630.5h0"/>
<path stroke="#dd4a4c" stroke-width="2.6" d="M592 594.4h0M592 608.9h0M592 618.5h0M594.4 618.5h0M596.8 604h0M596.8 608.9h0M596.8 618.5h0M599.2 601.6h0M599.2 616.1h0M599.2 623.3h0M599.2 625.7h0M604 604h0M604 620.9h0M606.5 608.9h0M606.5 620.9h0M608.9 608.9h0M608.9 618.5h0M611.3 618.5h0M611.3 620.9h0M613.7 620.9h0M616.1 618.5h0M616.1 620.9h0"/>
<path stroke="#d23a4e" stroke-width="2.6" d="M599.2 604h0M599.2 620.9h0M604 608.9h0M604 618.5h0M606.5 618.5h0M613.7 618.5h0"/>
<path stroke="#c0274a" stroke-width="2.6" d="M599.2 608.9h0M599.2 618.5h0"/>
<path stroke="#fff7b9" stroke-width="2.6" d="M601.6 628.1h0"/>
<path stroke="#c0274a" stroke-width="2.5" d="M598.2 598.2h0M598.2 600.5h0M598.2 602.9h0M598.2 605.2h0M598.2 609.9h0M598.2 619.3h0M600.5 600.5h0M600.5 602.9h0M600.5 605.2h0M600.5 609.9h0M600.5 619.3h0M602.9 602.9h0M602.9 605.2h0M602.9 609.9h0M605.2 605.2h0M605.2 609.9h0M605.2 619.3h0M607.6 607.6h0M607.6 612.3h0M607.6 614.6h0M607.6 617h0M612.3 612.3h0M612.3 614.6h0M612.3 617h0M614.6 614.6h0M614.6 617h0"/>
<path stroke="#d23a4e" stroke-width="2.5" d="M598.2 607.6h0M598.2 612.3h0M598.2 614.6h0M598.2 617h0M600.5 607.6h0M600.5 612.3h0M600.5 614.6h0M600.5 617h0M602.9 607.6h0M602.9 617h0M602.9 619.3h0M605.2 607.6h0M605.2 612.3h0M605.2 614.6h0M605.2 617h0"/>
<path stroke="#dd4a4c" stroke-width="2.5" d="M602.9 612.3h0M602.9 614.6h0"/>
<path stroke="#af1446" stroke-width="2.5" d="M607.6 609.9h0M607.6 619.3h0M609.9 612.3h0M609.9 614.6h0M609.9 617h0M612.3 619.3h0M614.6 619.3h0M617 617h0"/>
<path stroke="#9e0142" stroke-width="2.5" d="M609.9 609.9h0M609.9 619.3h0M617 619.3h0M619.3 619.3h0"/>
<path stroke="#fec78c" stroke-width="2.3" d="M633 633h0"/>
<path stroke="#fff0b7" stroke-width="2.3" d="M633 635.1h0M633 639.5h0"/>
<path stroke="#fedea0" stroke-width="2.3" d="M633 637.3h0M633 641.6h0"/>
<path stroke="#f3fabd" stroke-width="2.3" d="M635.1 635.1h0M635.1 639.5h0"/>
<path stroke="#fff8c3" stroke-width="2.3" d="M635.1 637.3h0"/>
<path stroke="#ffffcf" stroke-width="2.3" d="M635.1 641.6h0"/>
<path stroke="#fff9cd" stroke-width="2.3" d="M637.3 637.3h0M641.6 641.6h0"/>
<path stroke="#f5fbc8" stroke-width="2.3" d="M637.3 639.5h0"/>
<path stroke="#ffffd7" stroke-width="2.3" d="M637.3 641.6h0M639.5 641.6h0"/>
<path stroke="#fafdcf" stroke-width="2.3" d="M639.5 639.5h0"/>
<path stroke="#f9fdc6" stroke-width="2.6" d="M644.2 644.2h0"/>
<path stroke="#c6e8ba" stroke-width="2.6" d="M644.2 646.6h0M649.1 649.1h0"/>
<path stroke="#d3edb7" stroke-width="2.6" d="M644.2 649.1h0"/>
<path stroke="#9bd4c9" stroke-width="2.6" d="M646.6 646.6h0"/>
<path stroke="#a7dcc7" stroke-width="2.6" d="M646.6 649.1h0"/>
<path stroke="#d1e099" stroke-width="2.6" d="M538 550.7h0M538 557.9h0M538 565.1h0M538 567.5h0M538 572.3h0M542.6 550.7h0M542.6 557.9h0M542.6 565.1h0M542.6 567.5h0M542.6 572.3h0M550.7 635.1h0M550.7 639.5h0M553.1 635.1h0M553.1 639.5h0M562.7 639.5h0M567.5 633h0M572.3 637.3h0M572.3 641.6h0M577.1 637.3h0M577.1 641.6h0"/>
<path stroke="#b7d69d" stroke-width="2.6" d="M538 553.1h0M538 562.7h0M540.3 560.3h0M540.3 579.5h0M542.6 562.7h0M555.5 633h0M567.5 637.3h0M572.3 639.5h0M577.1 639.5h0"/>
<path stroke="#dce5ac" stroke-width="2.6" d="M538 555.5h0M538 560.3h0M538 574.7h0M542.6 555.5h0M542.6 560.3h0M542.6 574.7h0M550.7 637.3h0M550.7 641.6h0M553.1 641.6h0M557.9 637.3h0M562.7 637.3h0M562.7 641.6h0M572.3 633h0M577.1 633h0"/>
<path stroke="#d6e3a3" stroke-width="2.6" d="M538 569.9h0M542.6 569.9h0M557.9 641.6h0"/>
<path stroke="#e2e0a9" stroke-width="2.6" d="M538 577.1h0M542.6 577.1h0M550.7 633h0M553.1 633h0M562.7 633h0"/>
<path stroke="#e2e7b5" stroke-width="2.6" d="M538 579.5h0M542.6 579.5h0M553.1 637.3h0M557.9 633h0"/>
<path stroke="#89c4a0" stroke-width="2.6" d="M540.3 550.7h0M540.3 557.9h0M540.3 565.1h0M540.3 572.3h0M565.1 639.5h0M567.5 635.1h0M569.9 639.5h0M574.7 639.5h0M579.5 639.5h0"/>
<path stroke="#79bda1" stroke-width="2.6" d="M540.3 553.1h0M540.3 562.7h0M555.5 635.1h0M555.5 639.5h0M565.1 635.1h0M569.9 635.1h0M574.7 635.1h0M579.5 635.1h0"/>
<path stroke="#a8d09f" stroke-width="2.6" d="M540.3 555.5h0M540.3 574.7h0M565.1 637.3h0M567.5 641.6h0M569.9 637.3h0M569.9 641.6h0M572.3 635.1h0M574.7 637.3h0M574.7 641.6h0M577.1 635.1h0M579.5 637.3h0"/>
<path stroke="#9acaa0" stroke-width="2.6" d="M540.3 567.5h0M540.3 569.9h0M555.5 637.3h0M555.5 641.6h0M565.1 641.6h0M567.5 639.5h0M579.5 641.6h0"/>
<path stroke="#c4db9a" stroke-width="2.6" d="M540.3 577.1h0M542.6 553.1h0M557.9 635.1h0M557.9 639.5h0M562.7 635.1h0M565.1 633h0M569.9 633h0M574.7 633h0M579.5 633h0"/>
<path stroke="#3f96b7" stroke-width="2.1" d="M545 582.1h0M545 584h0M545 585.9h0M545 589.6h0M545 591.5h0M545 595.2h0M545 604.6h0M545 608.3h0M545 610.2h0M545 617.7h0M545 621.4h0M545 625.2h0M545 630.8h0M546.9 582.1h0M546.9 584h0M546.9 585.9h0M546.9 587.7h0M546.9 589.6h0M546.9 591.5h0M546.9 604.6h0M546.9 608.3h0M546.9 610.2h0M546.9 617.7h0M546.9 619.5h0M546.9 621.4h0M546.9 630.8h0"/>
<path stroke="#4fa9b0" stroke-width="2.1" d="M545 587.7h0M545 619.5h0"/>
<path stroke="#3584bb" stroke-width="2.1" d="M545 593.4h0M545 597.1h0M545 599h0M545 600.8h0M545 602.7h0M545 606.5h0M545 612.1h0M545 613.9h0M545 615.8h0M545 623.3h0M545 627h0M545 628.9h0M546.9 593.4h0M546.9 595.2h0M546.9 597.1h0M546.9 599h0M546.9 600.8h0M546.9 602.7h0M546.9 606.5h0M546.9 612.1h0M546.9 613.9h0M546.9 615.8h0M546.9 623.3h0M546.9 625.2h0M546.9 627h0M546.9 628.9h0"/>
<path stroke="#dee6ba" stroke-width="2.6" d="M560.3 633h0"/>
<path stroke="#c1daaf" stroke-width="2.6" d="M560.3 635.1h0M560.3 639.5h0"/>
<path stroke="#d5e2ac" stroke-width="2.6" d="M560.3 637.3h0M560.3 641.6h0"/>
<path stroke="#4273b3" stroke-width="2.6" d="M582.4 644.2h0M584.8 644.2h0M589.6 646.6h0M589.6 649.1h0M592 644.2h0M594.4 644.2h0M599.2 646.6h0M599.2 649.1h0M601.6 644.2h0M604 649.1h0M606.5 649.1h0M611.3 649.1h0M613.7 649.1h0M616.1 649.1h0M618.5 644.2h0M625.7 644.2h0M628.1 649.1h0"/>
<path stroke="#5e4fa2" stroke-width="2.6" d="M582.4 646.6h0M584.8 646.6h0M601.6 646.6h0"/>
<path stroke="#5061aa" stroke-width="2.6" d="M582.4 649.1h0M584.8 649.1h0M592 646.6h0M592 649.1h0M594.4 646.6h0M594.4 649.1h0M596.8 646.6h0M596.8 649.1h0M601.6 649.1h0M604 646.6h0M606.5 646.6h0M608.9 646.6h0M608.9 649.1h0M611.3 646.6h0M613.7 646.6h0M616.1 646.6h0M618.5 646.6h0M618.5 649.1h0M620.9 646.6h0M620.9 649.1h0M625.7 646.6h0M625.7 649.1h0M628.1 646.6h0"/>
<path stroke="#4e94c4" stroke-width="2.6" d="M587.2 644.2h0M630.5 644.2h0M547.5 646.6h0"/>
<path stroke="#6675b5" stroke-width="2.6" d="M587.2 646.6h0M623.3 649.1h0M630.5 646.6h0"/>
<path stroke="#5a84bc" stroke-width="2.6" d="M587.2 649.1h0M623.3 644.2h0M630.5 649.1h0"/>
<path stroke="#3584bb" stroke-width="2.6" d="M589.6 644.2h0M596.8 644.2h0M599.2 644.2h0M604 644.2h0M606.5 644.2h0M608.9 644.2h0M611.3 644.2h0M613.7 644.2h0M616.1 644.2h0M620.9 644.2h0M628.1 644.2h0"/>
<path stroke="#7265ae" stroke-width="2.6" d="M623.3 646.6h0"/>
<path stroke="#e2d290" stroke-width="2.4" d="M538 633h0M542.6 633h0"/>
<path stroke="#d1e099" stroke-width="2.4" d="M538 635.1h0M540.3 633h0M542.6 635.1h0"/>
<path stroke="#e2e0a9" stroke-width="2.4" d="M538 637.3h0M542.6 637.3h0"/>
<path stroke="#d6e3a3" stroke-width="2.4" d="M538 639.5h0M542.6 639.5h0"/>
<path stroke="#e2e7b5" stroke-width="2.4" d="M538 641.6h0M542.6 641.6h0"/>
<path stroke="#89c4a0" stroke-width="2.4" d="M540.3 635.1h0M540.3 639.5h0"/>
<path stroke="#b7d69d" stroke-width="2.4" d="M540.3 637.3h0"/>
<path stroke="#a8d09f" stroke-width="2.4" d="M540.3 641.6h0"/>
<path stroke="#eaf7a7" stroke-width="2.6" d="M545.2 644.2h0"/>
<path stroke="#84ceb0" stroke-width="2.6" d="M545.2 646.6h0"/>
<path stroke="#aaddb0" stroke-width="2.6" d="M545.2 649.1h0"/>
<path stroke="#97d5b0" stroke-width="2.6" d="M547.5 644.2h0"/>
<path stroke="#57a4c0" stroke-width="2.6" d="M547.5 649.1h0"/>
<path fill="#b9d4b0" opacity="0.4" d="M538 538h0.6v5.8h-0.6zM536.9 537.7h0.8v0.6h-0.8zM633.1 633.1h0.6v9.6h-0.6zM635.8 635.8h0.6v6.9h-0.6zM641.1 641.1h0.6v1.6h-0.6zM631.9 633.8h1.9v0.6h-1.9zM631.9 634.9h3v0.6h-3z"/>
<path fill="#fff" opacity="0.2" d="M541.5 541.5h0.6v2.3h-0.6zM601.5 601.5h0.6v19h-0.6zM603.5 603.5h0.6v17h-0.6zM607.6 607.6h0.6v12.9h-0.6zM597 610h13v0.6h-13zM631.9 635.8h3.9v0.6h-3.9z"/>
<path fill="#66c2a5" opacity="0.25" d="M536.9 538.6h1.7v0.6h-1.7zM638.5 638.5h0.6v4.2h-0.6zM640.4 640.4h0.6v2.3h-0.6z"/>
<path fill="#d53e4f" opacity="0.2" d="M536.9 539.7h2.8v0.6h-2.8zM588.1 588.1h0.6v43.6h-0.6zM593.9 593.9h0.6v37.8h-0.6zM595.1 595.1h0.6v36.6h-0.6zM597.3 597.3h0.6v34.4h-0.6zM607.4 607.4h0.6v24.3h-0.6zM623.6 623.6h0.6v8.1h-0.6zM630.9 630.9h0.6v0.8h-0.6zM581.2 585.3h4.1v0.6h-4.1zM581.2 588h6.8v0.6h-6.8zM581.2 594.6h13.4v0.6h-13.4zM581.2 595.7h14.5v0.6h-14.5zM581.2 598.8h17.6v0.6h-17.6zM581.2 601.9h20.7v0.6h-20.7zM581.2 606.2h25v0.6h-25zM581.2 607.9h26.7v0.6h-26.7zM581.2 611.8h30.6v0.6h-30.6zM581.2 628.5h47.3v0.6h-47.3zM581.2 629.7h48.5v0.6h-48.5z"/>
<path fill="#66c2a5" opacity="0.3" d="M551.9 551.9h0.6v28.8h-0.6zM569.5 569.5h0.6v11.2h-0.6zM576.8 576.8h0.6v3.9h-0.6zM549.5 551.6h2.1v0.6h-2.1zM549.5 557.6h8.1v0.6h-8.1zM549.5 562h12.5v0.6h-12.5zM549.5 563.3h13.8v0.6h-13.8zM549.5 568.2h18.7v0.6h-18.7zM549.5 575.2h25.7v0.6h-25.7zM549.5 576.3h26.8v0.6h-26.8zM549.5 577.6h28.1v0.6h-28.1zM549.5 579.1h29.6v0.6h-29.6zM540.1 549.5h0.6v31.2h-0.6zM542.5 549.5h0.6v31.2h-0.6zM536.9 549.8h6.9v0.6h-6.9zM536.9 552.8h6.9v0.6h-6.9zM536.9 553.6h6.9v0.6h-6.9zM536.9 555.2h6.9v0.6h-6.9zM536.9 563.7h6.9v0.6h-6.9zM536.9 565.7h6.9v0.6h-6.9zM536.9 568h6.9v0.6h-6.9zM556.9 631.9h0.6v10.8h-0.6zM561.6 631.9h0.6v10.8h-0.6zM572 631.9h0.6v10.8h-0.6zM578.6 631.9h0.6v10.8h-0.6zM549.5 635.7h31.2v0.6h-31.2zM549.5 637.4h31.2v0.6h-31.2zM549.5 641.3h31.2v0.6h-31.2zM543.2 631.9h0.6v10.8h-0.6zM536.9 640.7h6.9v0.6h-6.9z"/>
<path fill="#fff" opacity="0.25" d="M554.8 554.8h0.6v25.9h-0.6zM570.3 570.3h0.6v10.4h-0.6zM574.3 574.3h0.6v6.4h-0.6zM575.2 575.2h0.6v5.5h-0.6zM549.5 559.3h9.8v0.6h-9.8zM549.5 570.9h21.4v0.6h-21.4zM549.5 580.1h30.6v0.6h-30.6zM536.9 562h6.9v0.6h-6.9zM536.9 571.6h6.9v0.6h-6.9zM557.7 631.9h0.6v10.8h-0.6zM559.2 631.9h0.6v10.8h-0.6zM575 631.9h0.6v10.8h-0.6z"/>
<path fill="#fee08b" opacity="0.3" d="M560.6 560.6h0.6v20.1h-0.6zM564.4 564.4h0.6v16.3h-0.6zM568.5 568.5h0.6v12.2h-0.6zM578.2 578.2h0.6v2.5h-0.6zM549.5 553.2h3.7v0.6h-3.7zM549.5 555.6h6.1v0.6h-6.1zM549.5 564.9h15.4v0.6h-15.4zM549.5 567.5h18v0.6h-18zM537.4 549.5h0.6v31.2h-0.6zM538.7 549.5h0.6v31.2h-0.6zM541 549.5h0.6v31.2h-0.6zM536.9 550.7h6.9v0.6h-6.9zM536.9 556.4h6.9v0.6h-6.9zM536.9 557.9h6.9v0.6h-6.9zM536.9 566.9h6.9v0.6h-6.9zM536.9 574h6.9v0.6h-6.9zM536.9 578.9h6.9v0.6h-6.9zM553 631.9h0.6v10.8h-0.6zM555.8 631.9h0.6v10.8h-0.6zM560.7 631.9h0.6v10.8h-0.6zM566.3 631.9h0.6v10.8h-0.6zM569.2 631.9h0.6v10.8h-0.6zM572.8 631.9h0.6v10.8h-0.6zM573.8 631.9h0.6v10.8h-0.6zM579.4 631.9h0.6v10.8h-0.6zM539.7 631.9h0.6v10.8h-0.6zM540.9 631.9h0.6v10.8h-0.6zM542.4 631.9h0.6v10.8h-0.6zM536.9 633.4h6.9v0.6h-6.9zM536.9 634.6h6.9v0.6h-6.9zM536.9 635.4h6.9v0.6h-6.9zM536.9 637h6.9v0.6h-6.9z"/>
<path fill="#3288bd" opacity="0.2" d="M549.5 549.6h0.1v0.6h-0.1zM536.9 564.4h6.9v0.6h-6.9zM536.9 568.9h6.9v0.6h-6.9zM536.9 576.1h6.9v0.6h-6.9zM562.4 631.9h0.6v10.8h-0.6zM563.4 631.9h0.6v10.8h-0.6zM564.6 631.9h0.6v10.8h-0.6zM570.4 631.9h0.6v10.8h-0.6zM549.5 640h31.2v0.6h-31.2zM536.9 631.9h6.9v0.6h-6.9zM536.9 639.4h6.9v0.6h-6.9z"/>
<path fill="#fff" opacity="0.15" d="M583.9 583.9h0.6v47.8h-0.6zM592.3 592.3h0.6v39.4h-0.6zM596.5 596.5h0.6v35.2h-0.6zM600.5 600.5h0.6v31.2h-0.6zM611.4 611.4h0.6v20.3h-0.6zM581.2 581.2h0v0.6h0zM581.2 589.3h8.1v0.6h-8.1zM581.2 591.2h10v0.6h-10zM581.2 602.8h21.6v0.6h-21.6zM581.2 604.5h23.3v0.6h-23.3z"/>
<path fill="#fdae61" opacity="0.25" d="M585.4 585.4h0.6v46.3h-0.6zM589.7 589.7h0.6v42h-0.6zM591 591h0.6v40.7h-0.6zM603.3 603.3h0.6v28.4h-0.6zM604.2 604.2h0.6v27.5h-0.6zM608.8 608.8h0.6v22.9h-0.6zM613.9 613.9h0.6v17.8h-0.6zM617.1 617.1h0.6v14.6h-0.6zM619.4 619.4h0.6v12.3h-0.6zM620.3 620.3h0.6v11.4h-0.6zM624.6 624.6h0.6v7.1h-0.6zM626.7 626.7h0.6v5h-0.6zM628.5 628.5h0.6v3.2h-0.6zM629.8 629.8h0.6v1.9h-0.6zM581.2 584.1h2.9v0.6h-2.9zM581.2 586.6h5.4v0.6h-5.4zM581.2 592.4h11.2v0.6h-11.2zM581.2 600.4h19.2v0.6h-19.2zM581.2 605.3h24.1v0.6h-24.1zM581.2 610.8h29.6v0.6h-29.6zM581.2 613.1h31.9v0.6h-31.9zM581.2 614.4h33.2v0.6h-33.2zM581.2 616.1h34.9v0.6h-34.9zM581.2 617.3h36.1v0.6h-36.1zM581.2 622.5h41.3v0.6h-41.3zM581.2 623.8h42.6v0.6h-42.6zM581.2 625.9h44.7v0.6h-44.7z"/>
<path fill="#b9d4b0" opacity="0.25" d="M615.7 615.7h0.6v16h-0.6zM581.2 619h37.8v0.6h-37.8z"/>
<path fill="#f46d43" opacity="0.3" d="M600.2 600.2h0.6v20.3h-0.6zM602.6 602.6h0.6v17.9h-0.6zM608.5 608.5h0.6v12h-0.6zM612 612h0.6v8.5h-0.6zM613.6 613.6h0.6v6.9h-0.6zM614.5 614.5h0.6v6h-0.6zM597 598.2h1.2v0.6h-1.2zM597 601.7h4.7v0.6h-4.7zM597 603.9h6.9v0.6h-6.9zM597 615.7h18.7v0.6h-18.7zM597 618.3h21.3v0.6h-21.3z"/>
<path fill="#9e0142" opacity="0.3" d="M617.2 617.2h0.6v3.3h-0.6zM618.2 618.2h0.6v2.3h-0.6zM619 619h0.6v1.5h-0.6zM597 599.9h2.9v0.6h-2.9zM597 603.1h6.1v0.6h-6.1zM597 617.2h20.2v0.6h-20.2z"/>
<path fill="#fff" opacity="0.4" d="M643.8 643.8h0.5v6.5h-0.5zM646.7 646.7h0.5v3.6h-0.5zM643 649.5h6.5v0.5h-6.5zM544.5 643h0.5v7.3h-0.5zM546.3 643h0.5v7.3h-0.5zM544 643.3h4.7v0.5h-4.7z"/>
<path fill="#5e4fa2" opacity="0.2" d="M648.1 648.1h0.5v2.2h-0.5zM643 647.6h4.6v0.5h-4.6zM547.5 643h0.5v7.3h-0.5zM544 644.9h4.7v0.5h-4.7z"/>
<path fill="#fba25b" opacity="1" d="M547.9 581.2h1v3.88h-1zM547.9 585.08h1v3.88h-1zM547.9 588.97h1v3.88h-1zM547.9 592.85h1v3.88h-1zM547.9 596.74h1v3.88h-1zM547.9 600.62h1v3.88h-1zM547.9 604.51h1v3.88h-1zM547.9 608.39h1v3.88h-1zM547.9 612.28h1v3.88h-1zM547.9 616.16h1v3.88h-1zM547.9 620.05h1v3.88h-1zM547.9 623.93h1v3.88h-1zM547.9 627.82h1v3.88h-1z"/>
<path fill="#66c2a5" opacity="0.2" d="M583.7 643h0.5v7.3h-0.5zM608.4 643h0.5v7.3h-0.5zM629.5 643h0.5v7.3h-0.5z"/>
<path fill="#fff" opacity="0.55" d="M598.9 643h0.5v7.3h-0.5zM602.3 643h0.5v7.3h-0.5zM603.8 643h0.5v7.3h-0.5zM604.8 643h0.5v7.3h-0.5zM619.9 643h0.5v7.3h-0.5zM622.9 643h0.5v7.3h-0.5zM624.7 643h0.5v7.3h-0.5zM581.2 645.6h50.5v0.5h-50.5z"/>
</g></g>
<line x1="533" y1="83.4" x2="654.5" y2="83.4" stroke="#2a2a2a" stroke-width="0.9"/>
<line x1="538" y1="83.4" x2="538" y2="84.4" stroke="#222" stroke-width="0.4"/>
<text x="538" y="88.4" font-size="3.7" text-anchor="middle" fill="#3a3a3a">0</text>
<line x1="565.8" y1="83.4" x2="565.8" y2="84.4" stroke="#222" stroke-width="0.4"/>
<text x="565.8" y="88.4" font-size="3.7" text-anchor="middle" fill="#3a3a3a">1</text>
<line x1="593.6" y1="83.4" x2="593.6" y2="84.4" stroke="#222" stroke-width="0.4"/>
<text x="593.6" y="88.4" font-size="3.7" text-anchor="middle" fill="#3a3a3a">2</text>
<line x1="621.2" y1="83.4" x2="621.2" y2="84.4" stroke="#222" stroke-width="0.4"/>
<text x="621.2" y="88.4" font-size="3.7" text-anchor="middle" fill="#3a3a3a">3</text>
<line x1="648.8" y1="83.4" x2="648.8" y2="84.4" stroke="#222" stroke-width="0.4"/>
<text x="648.8" y="88.4" font-size="3.7" text-anchor="middle" fill="#3a3a3a">4</text>
<rect x="536.7" y="91.4" width="113.6" height="6.6" fill="#e6f1fd"/>
<rect x="542.1" y="91.4" width="4.9" height="6.6" fill="#8b40a2"/>
<rect x="558" y="91.4" width="4.9" height="6.6" fill="#8b40a2"/>
<rect x="578.2" y="91.4" width="0.5" height="6.6" fill="#8b40a2" opacity="0.5"/>
<rect x="636.1" y="91.4" width="0.4" height="6.6" fill="#8b40a2" opacity="0.12"/>
<rect x="537.2" y="91.4" width="0.4" height="6.6" fill="#8b40a2" opacity="0.3"/>
<rect x="555" y="91.4" width="0.3" height="6.6" fill="#8b40a2" opacity="0.12"/>
<text x="652" y="96.65" font-size="7.25">Gene</text>
<rect x="536.7" y="101.2" width="113.6" height="6.6" fill="#e6f1fd"/>
<rect x="544" y="101.2" width="4.7" height="6.6" fill="#8b40a2"/>
<rect x="581.2" y="101.2" width="50.5" height="6.6" fill="#8b40a2"/>
<rect x="643" y="101.2" width="7.3" height="6.6" fill="#8b40a2"/>
<text x="652" y="106.45" font-size="7.25">BdoSat1</text>
<rect x="536.7" y="111" width="113.6" height="6.6" fill="#e6f1fd"/>
<rect x="536.7" y="111" width="7.1" height="6.6" fill="#8b40a2"/>
<rect x="548.7" y="111" width="32" height="6.6" fill="#8b40a2"/>
<rect x="631.7" y="111" width="3.3" height="6.6" fill="#8b40a2" opacity="0.55"/>
<rect x="635" y="111" width="7.7" height="6.6" fill="#8b40a2"/>
<text x="652" y="116.25" font-size="7.25">BdoSat2</text>
<rect x="536.7" y="120.9" width="113.6" height="6.6" fill="#e6f1fd"/>
<rect x="538" y="120.9" width="0.4" height="6.6" fill="#8b40a2" opacity="0.5"/>
<rect x="580.4" y="120.9" width="0.4" height="6.6" fill="#8b40a2" opacity="0.2"/>
<text x="652" y="126.15" font-size="7.25">BdoSat3</text>
<rect x="536.7" y="130.8" width="113.6" height="6.6" fill="#e6f1fd"/>
<text x="652" y="136.05" font-size="7.25">RT</text>
<rect x="586" y="101.2" width="0.5" height="6.6" fill="#fff" opacity="0.2"/>
<rect x="590.5" y="101.2" width="0.5" height="6.6" fill="#fff" opacity="0.2"/>
<rect x="595" y="101.2" width="0.5" height="6.6" fill="#fff" opacity="0.2"/>
<rect x="599.5" y="101.2" width="0.5" height="6.6" fill="#fff" opacity="0.2"/>
<rect x="604" y="101.2" width="0.5" height="6.6" fill="#fff" opacity="0.2"/>
<rect x="608.5" y="101.2" width="0.5" height="6.6" fill="#fff" opacity="0.2"/>
<rect x="613" y="101.2" width="0.5" height="6.6" fill="#fff" opacity="0.2"/>
<rect x="617.5" y="101.2" width="0.5" height="6.6" fill="#fff" opacity="0.2"/>
<rect x="622" y="101.2" width="0.5" height="6.6" fill="#fff" opacity="0.2"/>
<rect x="626.5" y="101.2" width="0.5" height="6.6" fill="#fff" opacity="0.2"/>
<rect x="646.5" y="101.2" width="0.5" height="6.6" fill="#fff" opacity="0.2"/>
<rect x="553" y="111" width="0.5" height="6.6" fill="#fff" opacity="0.2"/>
<rect x="556.5" y="111" width="0.5" height="6.6" fill="#fff" opacity="0.2"/>
<rect x="560" y="111" width="0.5" height="6.6" fill="#fff" opacity="0.2"/>
<rect x="563.5" y="111" width="0.5" height="6.6" fill="#fff" opacity="0.2"/>
<rect x="567" y="111" width="0.5" height="6.6" fill="#fff" opacity="0.2"/>
<rect x="570.5" y="111" width="0.5" height="6.6" fill="#fff" opacity="0.2"/>
<rect x="574" y="111" width="0.5" height="6.6" fill="#fff" opacity="0.2"/>
<rect x="577.5" y="111" width="0.5" height="6.6" fill="#fff" opacity="0.2"/>
<rect x="637.5" y="111" width="0.5" height="6.6" fill="#fff" opacity="0.2"/>
<rect x="640" y="111" width="0.5" height="6.6" fill="#fff" opacity="0.2"/>
<text x="23.7" y="167.5" font-size="8.7" textLength="69.8" lengthAdjust="spacingAndGlyphs">Chr6:58Mb~67Mb</text>
<linearGradient id="ig5" gradientUnits="userSpaceOnUse" x1="32.9" x2="61.9" y1="0" y2="0"><stop offset="0" stop-color="#5e4fa2"/><stop offset="0.25" stop-color="#4a6db0"/><stop offset="0.35" stop-color="#3288bd"/><stop offset="0.42" stop-color="#66c2a5"/><stop offset="0.47" stop-color="#abdda4"/><stop offset="0.51" stop-color="#e6f598"/><stop offset="0.54" stop-color="#fee08b"/><stop offset="0.57" stop-color="#fdae61"/><stop offset="0.6" stop-color="#f46d43"/><stop offset="0.64" stop-color="#d53e4f"/><stop offset="0.69" stop-color="#9e0142"/><stop offset="1" stop-color="#9e0142"/></linearGradient>
<path d="M32.9 192.2L32.9 191.99L33.2 191.95L33.6 191.9L33.9 191.85L34.2 191.79L34.6 191.73L34.9 191.67L35.2 191.61L35.6 191.55L35.9 191.5L36.2 191.44L36.6 191.4L36.9 191.36L37.2 191.33L37.6 191.31L37.9 191.3L38.2 191.3L38.6 191.32L38.9 191.34L39.2 191.37L39.6 191.41L39.9 191.46L40.2 191.52L40.6 191.58L40.9 191.64L41.2 191.7L41.6 191.76L41.9 191.81L42.2 191.86L42.6 191.91L42.9 191.95L43.2 191.96L43.6 191.96L43.9 191.9L44.2 191.77L44.6 191.52L44.9 191.1L45.2 190.42L45.6 189.43L45.9 188.05L46.2 186.27L46.6 184.12L46.9 181.71L47.2 179.23L47.6 176.94L47.9 175.09L48.2 173.94L48.6 173.63L48.9 174.19L49.2 175.53L49.6 177.43L49.9 179.63L50.2 181.85L50.6 183.86L50.9 185.53L51.2 186.79L51.6 187.69L51.9 188.29L52.2 188.71L52.6 189.03L52.9 189.34L53.2 189.68L53.6 190.04L53.9 190.42L54.2 190.8L54.6 191.15L54.9 191.45L55.2 191.69L55.6 191.87L55.9 191.99L56.2 192.08L56.6 192.13L56.9 192.16L57.2 192.18L57.6 192.19L57.9 192.2L58.2 192.2L58.6 192.2L58.9 192.2L59.2 192.2L59.6 192.2L59.9 192.2L60.2 192.2L60.6 192.2L60.9 192.2L61.2 192.2L61.6 192.2L61.9 192.2L61.9 192.2z" fill="url(#ig5)"/>
<line x1="32.9" y1="172.7" x2="32.9" y2="192.5" stroke="#222" stroke-width="0.5"/>
<line x1="32.7" y1="192.3" x2="61.9" y2="192.3" stroke="#222" stroke-width="0.5"/>
<text x="31.6" y="174.3" font-size="2.4" text-anchor="end" font-weight="bold" fill="#111">400</text>
<line x1="32.1" y1="173.5" x2="32.9" y2="173.5" stroke="#444" stroke-width="0.3"/>
<text x="31.6" y="178.8" font-size="2.4" text-anchor="end" font-weight="bold" fill="#111">300</text>
<line x1="32.1" y1="178" x2="32.9" y2="178" stroke="#444" stroke-width="0.3"/>
<text x="31.6" y="183.5" font-size="2.4" text-anchor="end" font-weight="bold" fill="#111">200</text>
<line x1="32.1" y1="182.7" x2="32.9" y2="182.7" stroke="#444" stroke-width="0.3"/>
<text x="31.6" y="188.2" font-size="2.4" text-anchor="end" font-weight="bold" fill="#111">100</text>
<line x1="32.1" y1="187.4" x2="32.9" y2="187.4" stroke="#444" stroke-width="0.3"/>
<text x="31.6" y="192.8" font-size="2.4" text-anchor="end" font-weight="bold" fill="#111">0</text>
<line x1="32.1" y1="192" x2="32.9" y2="192" stroke="#444" stroke-width="0.3"/>
<text x="35" y="195.6" font-size="2.4" text-anchor="middle" font-weight="bold" fill="#111">85.0</text>
<line x1="35" y1="192.2" x2="35" y2="193" stroke="#444" stroke-width="0.3"/>
<text x="40.5" y="195.6" font-size="2.4" text-anchor="middle" font-weight="bold" fill="#111">90.0</text>
<line x1="40.5" y1="192.2" x2="40.5" y2="193" stroke="#444" stroke-width="0.3"/>
<text x="46" y="195.6" font-size="2.4" text-anchor="middle" font-weight="bold" fill="#111">95.0</text>
<line x1="46" y1="192.2" x2="46" y2="193" stroke="#444" stroke-width="0.3"/>
<text x="53" y="195.6" font-size="2.4" text-anchor="middle" font-weight="bold" fill="#111">100.0</text>
<line x1="53" y1="192.2" x2="53" y2="193" stroke="#444" stroke-width="0.3"/>
<text x="47.4" y="198.8" font-size="2.45" text-anchor="middle" fill="#333">% identity</text>
<text x="22.7" y="182.45" font-size="2.5" text-anchor="middle" fill="#222" transform="rotate(-90 22.7 182.45)"># of alignments</text>
<text x="25.1" y="182.45" font-size="2.5" text-anchor="middle" fill="#222" transform="rotate(-90 25.1 182.45)">(thousands)</text>
<g stroke="#f0a8b4" stroke-width="0.5" stroke-dasharray="0.7 1.3" opacity="0.26" fill="none">
<path d="M30.8 234.6L87.05 174.97L143.3 234.6"/>
<path d="M46 234.6L94.65 183.03"/>
<path d="M131 234.6L80.9 181.49"/>
</g>
<clipPath id="hc6"><rect x="0" y="0" width="685" height="234.6"/></clipPath>
<g clip-path="url(#hc6)"><g stroke-linecap="square" transform="matrix(0.5 0.54 0.5 -0.54 0 234.6)" filter="url(#b35)">
<path stroke="#d3d7ea" stroke-width="2.6" d="M47.8 47.8h0M47.8 50.2h0M47.8 52.7h0M47.8 57.5h0M47.8 62.4h0M47.8 69.6h0M47.8 72.1h0M47.8 74.5h0M47.8 76.9h0M47.8 79.4h0M47.8 81.8h0M47.8 84.2h0M47.8 89.1h0M47.8 93.9h0M47.8 96.3h0M47.8 98.8h0M47.8 101.2h0M50.2 50.2h0M50.2 52.7h0M50.2 57.5h0M50.2 62.4h0M50.2 69.6h0M50.2 72.1h0M50.2 74.5h0M50.2 76.9h0M50.2 79.4h0M50.2 81.8h0M50.2 84.2h0M50.2 89.1h0M50.2 93.9h0M50.2 96.3h0M50.2 98.8h0M50.2 101.2h0"/>
<path stroke="#d7d3e8" stroke-width="2.6" d="M47.8 55.1h0M47.8 59.9h0M47.8 64.8h0M47.8 67.2h0M47.8 86.6h0M47.8 91.5h0M50.2 55.1h0M50.2 59.9h0M50.2 64.8h0M50.2 67.2h0M50.2 86.6h0M50.2 91.5h0"/>
<path stroke="#fee1b9" stroke-width="2.6" d="M52.7 52.7h0M52.7 93.9h0"/>
<path stroke="#fffad7" stroke-width="2.6" d="M52.7 55.1h0M52.7 86.6h0"/>
<path stroke="#fff5cf" stroke-width="2.6" d="M52.7 57.5h0M52.7 69.6h0M52.7 81.8h0"/>
<path stroke="#ffffdf" stroke-width="2.6" d="M52.7 59.9h0M52.7 64.8h0M52.7 67.2h0M52.7 91.5h0"/>
<path stroke="#fee9c0" stroke-width="2.6" d="M52.7 62.4h0M52.7 74.5h0M52.7 79.4h0M52.7 96.3h0M52.7 98.8h0"/>
<path stroke="#fff0c7" stroke-width="2.6" d="M52.7 72.1h0M52.7 76.9h0M52.7 84.2h0M52.7 89.1h0M52.7 101.2h0"/>
<path stroke="#fff8c3" stroke-width="2.6" d="M55.1 55.1h0M55.1 64.8h0M55.1 67.2h0M55.1 86.6h0M55.1 91.5h0M72.1 91.5h0"/>
<path stroke="#fff0b7" stroke-width="2.6" d="M55.1 57.5h0M55.1 69.6h0M55.1 81.8h0M72.1 86.6h0"/>
<path stroke="#ffffcf" stroke-width="2.6" d="M55.1 59.9h0"/>
<path stroke="#fedea0" stroke-width="2.6" d="M55.1 62.4h0M55.1 74.5h0M55.1 84.2h0M55.1 98.8h0M55.1 101.2h0M57.5 57.5h0M57.5 69.6h0M59.9 59.9h0M59.9 64.8h0M59.9 67.2h0M59.9 91.5h0M62.4 64.8h0M62.4 67.2h0M62.4 91.5h0M64.8 69.6h0M67.2 67.2h0M67.2 86.6h0M67.2 91.5h0M72.1 89.1h0M79.4 96.3h0M86.6 101.2h0"/>
<path stroke="#fee9aa" stroke-width="2.6" d="M55.1 72.1h0M55.1 76.9h0M55.1 89.1h0M57.5 59.9h0M57.5 64.8h0M57.5 67.2h0M57.5 86.6h0M57.5 91.5h0M64.8 64.8h0M64.8 67.2h0M64.8 86.6h0M64.8 91.5h0M74.5 91.5h0M76.9 91.5h0M79.4 98.8h0M79.4 101.2h0M84.2 98.8h0M84.2 101.2h0"/>
<path stroke="#fed396" stroke-width="2.6" d="M55.1 79.4h0M55.1 93.9h0M55.1 96.3h0M57.5 72.1h0M57.5 76.9h0M57.5 81.8h0M59.9 86.6h0M62.4 86.6h0M64.8 72.1h0M64.8 76.9h0M64.8 81.8h0M67.2 69.6h0M69.6 86.6h0M69.6 91.5h0M72.1 98.8h0M72.1 101.2h0M79.4 93.9h0M81.8 101.2h0"/>
<path stroke="#fec78c" stroke-width="2.6" d="M57.5 62.4h0M57.5 74.5h0M57.5 84.2h0M57.5 89.1h0M57.5 98.8h0M57.5 101.2h0M59.9 69.6h0M59.9 81.8h0M62.4 69.6h0M62.4 72.1h0M62.4 81.8h0M64.8 74.5h0M64.8 84.2h0M64.8 89.1h0M64.8 98.8h0M64.8 101.2h0M67.2 72.1h0M67.2 76.9h0M67.2 81.8h0M69.6 69.6h0M69.6 81.8h0M72.1 93.9h0M72.1 96.3h0M74.5 89.1h0M74.5 98.8h0M74.5 101.2h0M76.9 98.8h0M76.9 101.2h0M81.8 96.3h0M81.8 98.8h0"/>
<path stroke="#fcb984" stroke-width="2.6" d="M57.5 79.4h0M57.5 93.9h0M57.5 96.3h0M59.9 72.1h0M59.9 76.9h0M59.9 89.1h0M62.4 76.9h0M62.4 84.2h0M62.4 89.1h0M62.4 101.2h0M64.8 79.4h0M64.8 93.9h0M64.8 96.3h0M67.2 74.5h0M67.2 84.2h0M67.2 89.1h0M67.2 98.8h0M67.2 101.2h0M69.6 72.1h0M69.6 76.9h0M69.6 89.1h0M74.5 93.9h0M74.5 96.3h0M76.9 93.9h0M76.9 96.3h0"/>
<path stroke="#faaa7d" stroke-width="2.6" d="M59.9 62.4h0M59.9 74.5h0M59.9 84.2h0M59.9 98.8h0M59.9 101.2h0M62.4 62.4h0M62.4 74.5h0M62.4 79.4h0M62.4 96.3h0M62.4 98.8h0M67.2 79.4h0M67.2 93.9h0M67.2 96.3h0M69.6 74.5h0M69.6 84.2h0M69.6 98.8h0M69.6 101.2h0"/>
<path stroke="#f89b76" stroke-width="2.6" d="M59.9 79.4h0M59.9 93.9h0M59.9 96.3h0M62.4 93.9h0M69.6 79.4h0M69.6 93.9h0M69.6 96.3h0"/>
<path stroke="#fcad70" stroke-width="2.6" d="M72.1 72.1h0M72.1 76.9h0M72.1 81.8h0M74.5 86.6h0M79.4 84.2h0M89.1 101.2h0"/>
<path stroke="#f99c68" stroke-width="2.6" d="M72.1 74.5h0M72.1 84.2h0M74.5 81.8h0M76.9 76.9h0M76.9 81.8h0M79.4 79.4h0M81.8 81.8h0M84.2 96.3h0M86.6 98.8h0"/>
<path stroke="#f78a5f" stroke-width="2.6" d="M72.1 79.4h0M74.5 76.9h0M74.5 84.2h0M76.9 84.2h0M76.9 89.1h0M81.8 84.2h0M81.8 89.1h0"/>
<path stroke="#f27a5c" stroke-width="2.6" d="M74.5 74.5h0M74.5 79.4h0M76.9 79.4h0M81.8 93.9h0"/>
<path stroke="#fdbe79" stroke-width="2.6" d="M76.9 86.6h0M79.4 89.1h0M81.8 86.6h0M81.8 91.5h0"/>
<path stroke="#fecb85" stroke-width="2.6" d="M79.4 81.8h0"/>
<path stroke="#fed990" stroke-width="2.6" d="M79.4 86.6h0M79.4 91.5h0"/>
<path stroke="#f06744" stroke-width="2.6" d="M84.2 84.2h0M84.2 89.1h0M89.1 89.1h0M91.5 98.8h0M91.5 101.2h0M98.8 98.8h0M98.8 101.2h0M101.2 101.2h0"/>
<path stroke="#fba25b" stroke-width="2.6" d="M84.2 86.6h0M84.2 91.5h0M89.1 91.5h0M91.5 91.5h0"/>
<path stroke="#e65848" stroke-width="2.6" d="M84.2 93.9h0M86.6 89.1h0M89.1 96.3h0M89.1 98.8h0M91.5 96.3h0M93.9 98.8h0M93.9 101.2h0"/>
<path stroke="#f88e52" stroke-width="2.6" d="M86.6 86.6h0M86.6 91.5h0"/>
<path stroke="#dd4a4c" stroke-width="2.6" d="M86.6 93.9h0M86.6 96.3h0M89.1 93.9h0M91.5 93.9h0M93.9 93.9h0M93.9 96.3h0"/>
<path stroke="#c0274a" stroke-width="2.6" d="M96.3 96.3h0"/>
<path stroke="#d23a4e" stroke-width="2.6" d="M96.3 98.8h0M96.3 101.2h0"/>
<path stroke="#c0274a" stroke-width="2.3" d="M104.1 104.1h0M104.1 106.2h0M104.1 108.4h0M104.1 114.8h0M104.1 116.9h0M106.2 106.2h0M106.2 110.5h0M106.2 112.6h0M108.4 110.5h0M108.4 112.6h0M110.5 110.5h0M110.5 112.6h0M114.8 114.8h0M114.8 116.9h0"/>
<path stroke="#af1446" stroke-width="2.3" d="M104.1 110.5h0M104.1 112.6h0"/>
<path stroke="#d23a4e" stroke-width="2.3" d="M106.2 108.4h0M106.2 114.8h0M106.2 116.9h0M110.5 116.9h0M112.6 112.6h0M116.9 116.9h0"/>
<path stroke="#dd4a4c" stroke-width="2.3" d="M108.4 108.4h0M108.4 114.8h0M108.4 116.9h0M110.5 114.8h0M112.6 114.8h0M112.6 116.9h0"/>
<path stroke="#e65848" stroke-width="2.5" d="M119.2 119.2h0M119.2 124h0M119.2 126.3h0"/>
<path stroke="#dd4a4c" stroke-width="2.5" d="M119.2 121.6h0M126.3 126.3h0"/>
<path stroke="#f88e52" stroke-width="2.5" d="M119.2 128.7h0M128.7 128.7h0"/>
<path stroke="#f06744" stroke-width="2.5" d="M121.6 121.6h0M121.6 126.3h0"/>
<path stroke="#f67949" stroke-width="2.5" d="M121.6 124h0M124 124h0M124 126.3h0M126.3 128.7h0"/>
<path stroke="#fba25b" stroke-width="2.5" d="M121.6 128.7h0"/>
<path stroke="#fdb466" stroke-width="2.5" d="M124 128.7h0"/>
<path stroke="#4fa9b0" stroke-width="2.5" d="M104.1 119.2h0M104.1 124h0M104.1 126.3h0M106.2 119.2h0M106.2 121.6h0M106.2 126.3h0M110.5 121.6h0M114.8 119.2h0M114.8 124h0M114.8 126.3h0M116.9 121.6h0"/>
<path stroke="#60bba8" stroke-width="2.5" d="M104.1 121.6h0M114.8 121.6h0"/>
<path stroke="#3f96b7" stroke-width="2.5" d="M104.1 128.7h0M106.2 124h0M108.4 119.2h0M108.4 121.6h0M108.4 124h0M108.4 126.3h0M110.5 119.2h0M110.5 124h0M110.5 126.3h0M112.6 119.2h0M112.6 121.6h0M112.6 124h0M112.6 126.3h0M114.8 128.7h0M116.9 119.2h0M116.9 124h0M116.9 126.3h0"/>
<path stroke="#3584bb" stroke-width="2.5" d="M106.2 128.7h0M108.4 128.7h0M110.5 128.7h0M116.9 128.7h0"/>
<path stroke="#4273b3" stroke-width="2.5" d="M112.6 128.7h0"/>
<path fill="#fff" opacity="0.3" d="M49.4 49.4h0.6v53h-0.6zM56.3 56.3h0.6v46.1h-0.6zM60.3 60.3h0.6v42.1h-0.6zM61.6 61.6h0.6v40.8h-0.6zM65.7 65.7h0.6v36.7h-0.6zM79.3 79.3h0.6v23.1h-0.6zM81.6 81.6h0.6v20.8h-0.6zM90.6 90.6h0.6v11.8h-0.6zM96.3 96.3h0.6v6.1h-0.6zM97.2 97.2h0.6v5.2h-0.6zM99.6 99.6h0.6v2.8h-0.6zM100.8 100.8h0.6v1.6h-0.6zM46.6 59.6h13v0.6h-13zM46.6 69.7h23.1v0.6h-23.1zM46.6 73.1h26.5v0.6h-26.5zM46.6 74.3h27.7v0.6h-27.7zM46.6 85.7h39.1v0.6h-39.1zM46.6 87.7h41.1v0.6h-41.1zM46.6 94.3h47.7v0.6h-47.7zM46.6 97.4h50.8v0.6h-50.8zM46.6 100.2h53.6v0.6h-53.6z"/>
<path fill="#66c2a5" opacity="0.4" d="M52.6 52.6h0.6v49.8h-0.6zM55.2 55.2h0.6v47.2h-0.6zM57.9 57.9h0.6v44.5h-0.6zM59.3 59.3h0.6v43.1h-0.6zM66.5 66.5h0.6v35.9h-0.6zM67.4 67.4h0.6v35h-0.6zM68.8 68.8h0.6v33.6h-0.6zM69.6 69.6h0.6v32.8h-0.6zM74.4 74.4h0.6v28h-0.6zM75.7 75.7h0.6v26.7h-0.6zM76.8 76.8h0.6v25.6h-0.6zM86.3 86.3h0.6v16.1h-0.6zM88.4 88.4h0.6v14h-0.6zM91.9 91.9h0.6v10.5h-0.6zM93.3 93.3h0.6v9.1h-0.6zM94.1 94.1h0.6v8.3h-0.6zM95.1 95.1h0.6v7.3h-0.6zM46.6 51.5h4.9v0.6h-4.9zM46.6 53.9h7.3v0.6h-7.3zM46.6 54.6h8v0.6h-8zM46.6 57.4h10.8v0.6h-10.8zM46.6 61h14.4v0.6h-14.4zM46.6 68.7h22.1v0.6h-22.1zM46.6 70.9h24.3v0.6h-24.3zM46.6 77.3h30.7v0.6h-30.7zM46.6 78.1h31.5v0.6h-31.5zM46.6 78.9h32.3v0.6h-32.3zM46.6 82.2h35.6v0.6h-35.6zM46.6 90.2h43.6v0.6h-43.6zM46.6 91.3h44.7v0.6h-44.7zM46.6 99h52.4v0.6h-52.4zM46.6 101.7h55.1v0.6h-55.1z"/>
<path fill="#f46d43" opacity="0.3" d="M53.8 53.8h0.6v48.6h-0.6zM62.4 62.4h0.6v40h-0.6zM80.4 80.4h0.6v22h-0.6zM87.7 87.7h0.6v14.7h-0.6zM101.6 101.6h0.6v0.8h-0.6zM46.6 48.3h1.7v0.6h-1.7zM46.6 50.8h4.2v0.6h-4.2zM46.6 55.4h8.8v0.6h-8.8zM46.6 56.3h9.7v0.6h-9.7zM46.6 76.5h29.9v0.6h-29.9zM46.6 88.8h42.2v0.6h-42.2zM46.6 98.1h51.5v0.6h-51.5zM106 106h0.6v12h-0.6zM107.7 107.7h0.6v10.3h-0.6zM108.7 108.7h0.6v9.3h-0.6zM110 110h0.6v8h-0.6zM111.1 111.1h0.6v6.9h-0.6zM116.6 116.6h0.6v1.4h-0.6zM103 107.8h4.8v0.6h-4.8zM103 108.9h5.9v0.6h-5.9zM103 110.8h7.8v0.6h-7.8zM103 115.9h12.9v0.6h-12.9z"/>
<path fill="#3288bd" opacity="0.22" d="M57.2 57.2h0.6v45.2h-0.6zM63.5 63.5h0.6v38.9h-0.6zM64.7 64.7h0.6v37.7h-0.6zM73.4 73.4h0.6v29h-0.6zM82.3 82.3h0.6v20.1h-0.6zM83.6 83.6h0.6v18.8h-0.6zM84.9 84.9h0.6v17.5h-0.6zM98.7 98.7h0.6v3.7h-0.6zM46.6 52.7h6.1v0.6h-6.1zM46.6 62.4h15.8v0.6h-15.8zM46.6 75.5h28.9v0.6h-28.9zM46.6 101h54.4v0.6h-54.4z"/>
<path fill="#fff" opacity="0.2" d="M103.1 103.1h0.6v14.9h-0.6zM103 104.7h1.7v0.6h-1.7z"/>
<path fill="#9e0142" opacity="0.3" d="M103 103.3h0.3v0.6h-0.3zM103 109.8h6.8v0.6h-6.8zM103 113.1h10.1v0.6h-10.1z"/>
<path fill="#fff" opacity="0.15" d="M118.3 118.3h0.6v11.6h-0.6zM123 123h0.6v6.9h-0.6zM118 124.1h6.1v0.6h-6.1z"/>
<path fill="#b9d4b0" opacity="0.25" d="M119.6 119.6h0.6v10.3h-0.6zM125.2 125.2h0.6v4.7h-0.6zM118 118.9h0.9v0.6h-0.9z"/>
<path fill="#d53e4f" opacity="0.2" d="M124 124h0.6v5.9h-0.6zM118 121.4h3.4v0.6h-3.4zM118 128.8h10.8v0.6h-10.8z"/>
<path fill="#fdae61" opacity="0.25" d="M129.2 129.2h0.6v0.7h-0.6zM118 120.5h2.5v0.6h-2.5zM118 123.1h5.1v0.6h-5.1zM118 127.7h9.7v0.6h-9.7z"/>
<path fill="#66c2a5" opacity="0.2" d="M106.4 118h0.5v11.9h-0.5z"/>
<path fill="#fff" opacity="0.55" d="M103 118.3h15v0.5h-15zM103 121.8h15v0.5h-15zM103 126.7h15v0.5h-15zM103 127.6h15v0.5h-15z"/>
</g></g>
<line x1="88.4" y1="189.4" x2="116.6" y2="219.8" stroke="#c48a52" stroke-width="0.75"/>
<line x1="116.9" y1="219.9" x2="130.3" y2="234.2" stroke="#7a8fc0" stroke-width="0.6" opacity="0.6"/>
<line x1="25.5" y1="237.2" x2="148.4" y2="237.2" stroke="#2a2a2a" stroke-width="0.9"/>
<line x1="31.3" y1="237.2" x2="31.3" y2="238.2" stroke="#222" stroke-width="0.4"/>
<text x="31.3" y="241.7" font-size="3.7" text-anchor="middle" fill="#3a3a3a">0.0</text>
<line x1="62.4" y1="237.2" x2="62.4" y2="238.2" stroke="#222" stroke-width="0.4"/>
<text x="62.4" y="241.7" font-size="3.7" text-anchor="middle" fill="#3a3a3a">2.5</text>
<line x1="93.3" y1="237.2" x2="93.3" y2="238.2" stroke="#222" stroke-width="0.4"/>
<text x="93.3" y="241.7" font-size="3.7" text-anchor="middle" fill="#3a3a3a">5.0</text>
<line x1="124.5" y1="237.2" x2="124.5" y2="238.2" stroke="#222" stroke-width="0.4"/>
<text x="124.5" y="241.7" font-size="3.7" text-anchor="middle" fill="#3a3a3a">7.5</text>
<rect x="30.8" y="245" width="112.5" height="6.5" fill="#e6f1fd"/>
<rect x="30.8" y="245" width="1.1" height="6.5" fill="#8b40a2"/>
<rect x="32.9" y="245" width="1.1" height="6.5" fill="#8b40a2"/>
<rect x="34.8" y="245" width="1" height="6.5" fill="#8b40a2"/>
<rect x="36.1" y="245" width="0.9" height="6.5" fill="#8b40a2"/>
<rect x="40" y="245" width="3.5" height="6.5" fill="#8b40a2"/>
<rect x="66.4" y="245" width="2.1" height="6.5" fill="#8b40a2"/>
<rect x="79" y="245" width="2.7" height="6.5" fill="#8b40a2"/>
<rect x="96.7" y="245" width="1.9" height="6.5" fill="#8b40a2"/>
<rect x="131.8" y="245" width="3.1" height="6.5" fill="#8b40a2"/>
<rect x="136.2" y="245" width="7.2" height="6.5" fill="#8b40a2" opacity="0.55"/>
<rect x="38" y="245" width="0.4" height="6.5" fill="#8b40a2" opacity="0.3"/>
<rect x="45" y="245" width="0.3" height="6.5" fill="#8b40a2" opacity="0.2"/>
<text x="145.7" y="250.7" font-size="7.05">Gene</text>
<rect x="30.8" y="255.2" width="112.5" height="6.5" fill="#e6f1fd"/>
<rect x="102.8" y="255.2" width="27.4" height="6.5" fill="#8b40a2"/>
<rect x="131.5" y="255.2" width="0.4" height="6.5" fill="#8b40a2" opacity="0.15"/>
<text x="145.7" y="260.9" font-size="7.05">BdoSat1</text>
<rect x="30.8" y="265.3" width="112.5" height="6.5" fill="#e6f1fd"/>
<rect x="46.1" y="265.3" width="56.7" height="6.5" fill="#8b40a2"/>
<rect x="130.2" y="265.3" width="0.9" height="6.5" fill="#8b40a2"/>
<rect x="40" y="265.3" width="0.3" height="6.5" fill="#8b40a2" opacity="0.12"/>
<rect x="139" y="265.3" width="0.3" height="6.5" fill="#8b40a2" opacity="0.12"/>
<text x="145.7" y="271" font-size="7.05">BdoSat2</text>
<rect x="30.8" y="275.4" width="112.5" height="6.5" fill="#e6f1fd"/>
<rect x="40" y="275.4" width="0.3" height="6.5" fill="#8b40a2" opacity="0.15"/>
<rect x="73.5" y="275.4" width="0.3" height="6.5" fill="#8b40a2" opacity="0.2"/>
<rect x="79" y="275.4" width="0.3" height="6.5" fill="#8b40a2" opacity="0.2"/>
<rect x="96.7" y="275.4" width="0.3" height="6.5" fill="#8b40a2" opacity="0.15"/>
<text x="145.7" y="281.1" font-size="7.05">BdoSat3</text>
<rect x="30.8" y="285.5" width="112.5" height="6.5" fill="#e6f1fd"/>
<rect x="34.8" y="285.5" width="0.3" height="6.5" fill="#8b40a2" opacity="0.2"/>
<rect x="45.3" y="285.5" width="0.3" height="6.5" fill="#8b40a2" opacity="0.25"/>
<rect x="132.3" y="285.5" width="0.4" height="6.5" fill="#8b40a2" opacity="0.35"/>
<rect x="134.1" y="285.5" width="0.4" height="6.5" fill="#8b40a2" opacity="0.3"/>
<rect x="138.9" y="285.5" width="0.3" height="6.5" fill="#8b40a2" opacity="0.2"/>
<rect x="31.5" y="285.5" width="0.3" height="6.5" fill="#8b40a2" opacity="0.15"/>
<text x="145.7" y="291.2" font-size="7.05">RT</text>
<rect x="41.2" y="245" width="0.4" height="6.6" fill="#fff" opacity="0.5"/>
<rect x="42.3" y="245" width="0.4" height="6.6" fill="#fff" opacity="0.5"/>
<rect x="137.5" y="245" width="0.4" height="6.6" fill="#fff" opacity="0.5"/>
<rect x="139" y="245" width="0.4" height="6.6" fill="#fff" opacity="0.5"/>
<rect x="140.5" y="245" width="0.4" height="6.6" fill="#fff" opacity="0.5"/>
<rect x="142" y="245" width="0.4" height="6.6" fill="#fff" opacity="0.5"/>
<rect x="50" y="265.3" width="0.45" height="6.6" fill="#fff" opacity="0.25"/>
<rect x="54" y="265.3" width="0.45" height="6.6" fill="#fff" opacity="0.25"/>
<rect x="58.5" y="265.3" width="0.45" height="6.6" fill="#fff" opacity="0.25"/>
<rect x="62" y="265.3" width="0.45" height="6.6" fill="#fff" opacity="0.25"/>
<rect x="66" y="265.3" width="0.45" height="6.6" fill="#fff" opacity="0.25"/>
<rect x="70.5" y="265.3" width="0.45" height="6.6" fill="#fff" opacity="0.25"/>
<rect x="75" y="265.3" width="0.45" height="6.6" fill="#fff" opacity="0.25"/>
<rect x="79" y="265.3" width="0.45" height="6.6" fill="#fff" opacity="0.25"/>
<rect x="83.5" y="265.3" width="0.45" height="6.6" fill="#fff" opacity="0.25"/>
<rect x="88" y="265.3" width="0.45" height="6.6" fill="#fff" opacity="0.25"/>
<rect x="92" y="265.3" width="0.45" height="6.6" fill="#fff" opacity="0.25"/>
<rect x="96.5" y="265.3" width="0.45" height="6.6" fill="#fff" opacity="0.25"/>
<rect x="100" y="265.3" width="0.45" height="6.6" fill="#fff" opacity="0.25"/>
<rect x="108" y="255.2" width="0.45" height="6.6" fill="#fff" opacity="0.2"/>
<rect x="113" y="255.2" width="0.45" height="6.6" fill="#fff" opacity="0.2"/>
<rect x="119" y="255.2" width="0.45" height="6.6" fill="#fff" opacity="0.2"/>
<rect x="125" y="255.2" width="0.45" height="6.6" fill="#fff" opacity="0.2"/>
<text x="189.7" y="167.9" font-size="8.7" textLength="69.9" lengthAdjust="spacingAndGlyphs">ChrX:30Mb~60Mb</text>
<linearGradient id="rainx" x1="0" x2="1" y1="0" y2="0"><stop offset="0" stop-color="#5e4fa2"/><stop offset="0.3" stop-color="#3050d0"/><stop offset="0.42" stop-color="#2060ff"/><stop offset="0.47" stop-color="#20c080"/><stop offset="0.5" stop-color="#c0e020"/><stop offset="0.53" stop-color="#ffe000"/><stop offset="0.57" stop-color="#ff5000"/><stop offset="0.63" stop-color="#e00000"/><stop offset="1" stop-color="#d00020"/></linearGradient>
<linearGradient id="ig6" gradientUnits="userSpaceOnUse" x1="199.5" x2="225.9" y1="0" y2="0"><stop offset="0" stop-color="#5e4fa2"/><stop offset="0.28" stop-color="#4040c0"/><stop offset="0.41" stop-color="#2060ff"/><stop offset="0.45" stop-color="#20b0a0"/><stop offset="0.48" stop-color="#60d040"/><stop offset="0.5" stop-color="#e8e020"/><stop offset="0.53" stop-color="#ff9000"/><stop offset="0.56" stop-color="#ff3000"/><stop offset="0.61" stop-color="#e00000"/><stop offset="1" stop-color="#d00020"/></linearGradient>
<path d="M199.5 193L199.5 193L199.8 193L200.2 193L200.5 193L200.8 193L201.2 193L201.5 193L201.8 193L202.2 193L202.5 193L202.8 193L203.2 193L203.5 193L203.8 193L204.2 193L204.5 193L204.8 193L205.2 193L205.5 193L205.8 193L206.2 193L206.5 193L206.9 193L207.2 193L207.5 193L207.9 193L208.2 193L208.5 192.99L208.9 192.96L209.2 192.88L209.5 192.71L209.9 192.34L210.2 191.61L210.5 190.35L210.9 188.38L211.2 185.66L211.5 182.36L211.9 178.93L212.2 176L212.5 174.23L212.9 174.02L213.2 175.36L213.5 177.86L213.9 180.88L214.2 183.79L214.5 186.17L214.9 187.87L215.2 188.97L215.5 189.64L215.9 190.09L216.2 190.44L216.5 190.77L216.9 191.12L217.2 191.47L217.5 191.79L217.9 192.08L218.2 192.32L218.5 192.49L218.9 192.6L219.2 192.64L219.6 192.63L219.9 192.57L220.2 192.47L220.6 192.35L220.9 192.23L221.2 192.12L221.6 192.04L221.9 192L222.2 192.01L222.6 192.07L222.9 192.16L223.2 192.28L223.6 192.42L223.9 192.55L224.2 192.67L224.6 192.77L224.9 192.85L225.2 192.9L225.6 192.94L225.9 192.97L225.9 193z" fill="url(#ig6)"/>
<line x1="199.5" y1="172.7" x2="199.5" y2="193.3" stroke="#222" stroke-width="0.5"/>
<line x1="199.3" y1="193.1" x2="225.9" y2="193.1" stroke="#222" stroke-width="0.5"/>
<text x="198.2" y="174" font-size="2.4" text-anchor="end" font-weight="bold" fill="#111">500</text>
<line x1="198.7" y1="173.2" x2="199.5" y2="173.2" stroke="#444" stroke-width="0.3"/>
<text x="198.2" y="177.8" font-size="2.4" text-anchor="end" font-weight="bold" fill="#111">400</text>
<line x1="198.7" y1="177" x2="199.5" y2="177" stroke="#444" stroke-width="0.3"/>
<text x="198.2" y="181.8" font-size="2.4" text-anchor="end" font-weight="bold" fill="#111">300</text>
<line x1="198.7" y1="181" x2="199.5" y2="181" stroke="#444" stroke-width="0.3"/>
<text x="198.2" y="185.8" font-size="2.4" text-anchor="end" font-weight="bold" fill="#111">200</text>
<line x1="198.7" y1="185" x2="199.5" y2="185" stroke="#444" stroke-width="0.3"/>
<text x="198.2" y="189.8" font-size="2.4" text-anchor="end" font-weight="bold" fill="#111">100</text>
<line x1="198.7" y1="189" x2="199.5" y2="189" stroke="#444" stroke-width="0.3"/>
<text x="198.2" y="193.6" font-size="2.4" text-anchor="end" font-weight="bold" fill="#111">0</text>
<line x1="198.7" y1="192.8" x2="199.5" y2="192.8" stroke="#444" stroke-width="0.3"/>
<text x="202" y="196.4" font-size="2.4" text-anchor="middle" font-weight="bold" fill="#111">85.0</text>
<line x1="202" y1="193" x2="202" y2="193.8" stroke="#444" stroke-width="0.3"/>
<text x="207.5" y="196.4" font-size="2.4" text-anchor="middle" font-weight="bold" fill="#111">90.0</text>
<line x1="207.5" y1="193" x2="207.5" y2="193.8" stroke="#444" stroke-width="0.3"/>
<text x="213.5" y="196.4" font-size="2.4" text-anchor="middle" font-weight="bold" fill="#111">95.0</text>
<line x1="213.5" y1="193" x2="213.5" y2="193.8" stroke="#444" stroke-width="0.3"/>
<text x="220" y="196.4" font-size="2.4" text-anchor="middle" font-weight="bold" fill="#111">100.0</text>
<line x1="220" y1="193" x2="220" y2="193.8" stroke="#444" stroke-width="0.3"/>
<text x="212.7" y="199.6" font-size="2.45" text-anchor="middle" fill="#333">% identity</text>
<text x="189.3" y="182.85" font-size="2.5" text-anchor="middle" fill="#222" transform="rotate(-90 189.3 182.85)"># of alignments</text>
<text x="191.7" y="182.85" font-size="2.5" text-anchor="middle" fill="#222" transform="rotate(-90 191.7 182.85)">(thousands)</text>
<polygon points="197.4,236.4 312,236.4 254.7,174.8" fill="#fffcfc"/>
<clipPath id="hc7"><rect x="0" y="0" width="685" height="236"/></clipPath>
<g clip-path="url(#hc7)"><g stroke-linecap="square" transform="matrix(0.5 0.54 0.5 -0.54 0 236)" filter="url(#b35)">
<path stroke="#f6f3ea" stroke-width="3.3" d="M215.6 215.6h0M215.6 218.8h0M215.6 222h0M215.6 231.5h0M215.6 234.7h0M215.6 237.9h0M215.6 241h0M215.6 247.4h0M215.6 253.8h0M215.6 256.9h0M215.6 260.1h0M215.6 263.3h0M215.6 272.9h0M215.6 276h0M215.6 285.6h0M218.8 234.7h0M218.8 237.9h0M218.8 241h0M218.8 247.4h0M218.8 260.1h0M218.8 276h0M218.8 285.6h0M222 234.7h0M222 237.9h0M222 260.1h0M228.3 234.7h0M228.3 237.9h0M228.3 247.4h0M228.3 260.1h0M228.3 276h0M231.5 260.1h0M234.7 234.7h0M234.7 237.9h0M234.7 241h0M234.7 247.4h0M234.7 253.8h0M234.7 256.9h0M234.7 260.1h0M234.7 263.3h0M234.7 272.9h0M234.7 276h0M234.7 285.6h0M247.4 247.4h0M247.4 260.1h0M247.4 276h0M250.6 253.8h0M250.6 256.9h0M250.6 260.1h0M250.6 263.3h0M250.6 272.9h0M250.6 276h0M250.6 285.6h0M253.8 260.1h0M256.9 256.9h0M256.9 260.1h0M256.9 263.3h0M256.9 272.9h0M256.9 276h0M256.9 285.6h0M260.1 260.1h0M260.1 272.9h0M260.1 276h0M260.1 285.6h0M263.3 263.3h0M263.3 272.9h0M263.3 276h0M263.3 285.6h0M266.5 272.9h0M266.5 276h0M266.5 285.6h0M269.7 269.7h0M269.7 272.9h0M269.7 276h0M269.7 285.6h0M272.9 272.9h0M272.9 276h0M272.9 285.6h0M276 276h0M276 285.6h0M279.2 285.6h0M285.6 285.6h0"/>
<path stroke="#f0eada" stroke-width="3.3" d="M215.6 225.1h0M215.6 228.3h0M215.6 244.2h0M215.6 250.6h0M215.6 266.5h0M215.6 269.7h0M215.6 279.2h0M215.6 282.4h0M215.6 288.8h0M215.6 291.9h0M215.6 295.1h0M215.6 298.3h0M218.8 218.8h0M218.8 222h0M218.8 231.5h0M218.8 253.8h0M218.8 256.9h0M218.8 263.3h0M218.8 269.7h0M218.8 272.9h0M218.8 279.2h0M218.8 282.4h0M222 222h0M222 231.5h0M222 241h0M222 247.4h0M222 253.8h0M222 256.9h0M222 263.3h0M222 272.9h0M222 276h0M222 285.6h0M225.1 234.7h0M225.1 237.9h0M225.1 247.4h0M225.1 260.1h0M225.1 276h0M228.3 231.5h0M228.3 241h0M228.3 253.8h0M228.3 256.9h0M228.3 263.3h0M228.3 272.9h0M228.3 285.6h0M231.5 231.5h0M231.5 234.7h0M231.5 237.9h0M231.5 241h0M231.5 247.4h0M231.5 253.8h0M231.5 263.3h0M231.5 272.9h0M231.5 276h0M231.5 285.6h0M234.7 244.2h0M234.7 250.6h0M234.7 266.5h0M234.7 269.7h0M234.7 279.2h0M234.7 282.4h0M234.7 288.8h0M234.7 291.9h0M234.7 295.1h0M234.7 298.3h0M237.9 237.9h0M237.9 247.4h0M237.9 260.1h0M237.9 276h0M241 241h0M241 247.4h0M241 260.1h0M241 272.9h0M241 276h0M241 285.6h0M244.2 247.4h0M244.2 260.1h0M244.2 276h0M244.2 285.6h0M247.4 253.8h0M247.4 256.9h0M247.4 263.3h0M247.4 269.7h0M247.4 272.9h0M247.4 285.6h0M250.6 250.6h0M250.6 266.5h0M250.6 269.7h0M250.6 279.2h0M250.6 282.4h0M250.6 288.8h0M250.6 291.9h0M250.6 295.1h0M250.6 298.3h0M253.8 272.9h0M253.8 276h0M253.8 285.6h0M256.9 266.5h0M256.9 269.7h0M256.9 279.2h0M256.9 282.4h0M256.9 288.8h0M256.9 291.9h0M256.9 295.1h0M256.9 298.3h0M260.1 263.3h0M260.1 266.5h0M260.1 269.7h0M260.1 279.2h0M260.1 282.4h0M260.1 288.8h0M260.1 295.1h0M260.1 298.3h0M263.3 266.5h0M263.3 269.7h0M263.3 279.2h0M263.3 282.4h0M263.3 288.8h0M263.3 291.9h0M263.3 295.1h0M263.3 298.3h0M266.5 266.5h0M266.5 269.7h0M266.5 279.2h0M266.5 282.4h0M266.5 288.8h0M266.5 291.9h0M266.5 295.1h0M266.5 298.3h0M269.7 279.2h0M269.7 282.4h0M269.7 288.8h0M269.7 291.9h0M269.7 295.1h0M269.7 298.3h0M272.9 279.2h0M272.9 282.4h0M272.9 288.8h0M272.9 291.9h0M272.9 295.1h0M272.9 298.3h0M276 279.2h0M276 282.4h0M279.2 279.2h0M279.2 282.4h0M279.2 288.8h0M279.2 291.9h0M279.2 295.1h0M279.2 298.3h0M282.4 285.6h0M285.6 288.8h0M285.6 291.9h0M285.6 295.1h0M285.6 298.3h0M288.8 288.8h0M288.8 295.1h0M288.8 298.3h0M295.1 295.1h0M295.1 298.3h0"/>
<path stroke="#f3efe3" stroke-width="3.3" d="M218.8 225.1h0M218.8 228.3h0M218.8 244.2h0M218.8 250.6h0M218.8 266.5h0M218.8 288.8h0M218.8 291.9h0M218.8 295.1h0M218.8 298.3h0M222 225.1h0M222 228.3h0M222 244.2h0M222 250.6h0M222 266.5h0M222 269.7h0M222 279.2h0M222 282.4h0M222 288.8h0M222 291.9h0M222 295.1h0M222 298.3h0M225.1 225.1h0M225.1 228.3h0M225.1 231.5h0M225.1 241h0M225.1 244.2h0M225.1 250.6h0M225.1 253.8h0M225.1 256.9h0M225.1 263.3h0M225.1 266.5h0M225.1 269.7h0M225.1 272.9h0M225.1 279.2h0M225.1 282.4h0M225.1 285.6h0M225.1 288.8h0M225.1 291.9h0M225.1 295.1h0M225.1 298.3h0M228.3 228.3h0M228.3 244.2h0M228.3 250.6h0M228.3 266.5h0M228.3 269.7h0M228.3 279.2h0M228.3 282.4h0M228.3 288.8h0M228.3 291.9h0M228.3 295.1h0M228.3 298.3h0M231.5 244.2h0M231.5 250.6h0M231.5 256.9h0M231.5 266.5h0M231.5 269.7h0M231.5 279.2h0M231.5 282.4h0M231.5 288.8h0M231.5 291.9h0M231.5 295.1h0M231.5 298.3h0M237.9 241h0M237.9 244.2h0M237.9 250.6h0M237.9 253.8h0M237.9 256.9h0M237.9 263.3h0M237.9 266.5h0M237.9 269.7h0M237.9 272.9h0M237.9 279.2h0M237.9 282.4h0M237.9 285.6h0M237.9 288.8h0M237.9 291.9h0M237.9 295.1h0M237.9 298.3h0M241 244.2h0M241 250.6h0M241 253.8h0M241 256.9h0M241 263.3h0M241 266.5h0M241 269.7h0M241 279.2h0M241 282.4h0M241 288.8h0M241 291.9h0M241 295.1h0M241 298.3h0M244.2 244.2h0M244.2 250.6h0M244.2 253.8h0M244.2 256.9h0M244.2 263.3h0M244.2 266.5h0M244.2 269.7h0M244.2 272.9h0M244.2 279.2h0M244.2 282.4h0M244.2 288.8h0M244.2 291.9h0M244.2 295.1h0M244.2 298.3h0M247.4 250.6h0M247.4 266.5h0M247.4 279.2h0M247.4 282.4h0M247.4 288.8h0M247.4 291.9h0M247.4 295.1h0M247.4 298.3h0M253.8 253.8h0M253.8 256.9h0M253.8 263.3h0M253.8 266.5h0M253.8 269.7h0M253.8 279.2h0M253.8 282.4h0M253.8 288.8h0M253.8 291.9h0M253.8 295.1h0M253.8 298.3h0M260.1 291.9h0M276 288.8h0M276 291.9h0M276 295.1h0M276 298.3h0M282.4 282.4h0M282.4 288.8h0M282.4 291.9h0M282.4 295.1h0M282.4 298.3h0M288.8 291.9h0M291.9 291.9h0M291.9 295.1h0M291.9 298.3h0M298.3 298.3h0"/>
<path fill="#cfe3d8" opacity="0.45" d="M214.3 214.3h0.5v85.6h-0.5zM216.1 216.1h0.5v83.8h-0.5zM241 241h0.5v58.9h-0.5zM245.9 245.9h0.5v54h-0.5zM253 253h0.5v46.9h-0.5zM273.4 273.4h0.5v26.5h-0.5zM288.1 288.1h0.5v11.8h-0.5zM289.7 289.7h0.5v10.2h-0.5zM214 220.1h6.1v0.5h-6.1zM214 228.2h14.2v0.5h-14.2zM214 232.5h18.5v0.5h-18.5zM214 242.5h28.5v0.5h-28.5zM214 279.4h65.4v0.5h-65.4zM214 287.9h73.9v0.5h-73.9zM214 293.8h79.8v0.5h-79.8z"/>
<path fill="#fff" opacity="0.55" d="M217.4 217.4h0.5v82.5h-0.5zM219.9 219.9h0.5v80h-0.5zM223 223h0.5v76.9h-0.5zM224.1 224.1h0.5v75.8h-0.5zM227 227h0.5v72.9h-0.5zM228.2 228.2h0.5v71.7h-0.5zM230.1 230.1h0.5v69.8h-0.5zM232.8 232.8h0.5v67.1h-0.5zM235.3 235.3h0.5v64.6h-0.5zM240 240h0.5v59.9h-0.5zM261.3 261.3h0.5v38.6h-0.5zM274.6 274.6h0.5v25.3h-0.5zM275.5 275.5h0.5v24.4h-0.5zM276.4 276.4h0.5v23.5h-0.5zM277.6 277.6h0.5v22.3h-0.5zM279.4 279.4h0.5v20.5h-0.5zM284.5 284.5h0.5v15.4h-0.5zM296.8 296.8h0.5v3.1h-0.5zM298.3 298.3h0.5v1.6h-0.5zM214 234.8h20.8v0.5h-20.8zM214 236.9h22.9v0.5h-22.9zM214 237.9h23.9v0.5h-23.9zM214 240h26v0.5h-26zM214 241.2h27.2v0.5h-27.2zM214 247.4h33.4v0.5h-33.4zM214 248.5h34.5v0.5h-34.5zM214 249.4h35.4v0.5h-35.4zM214 254.3h40.3v0.5h-40.3zM214 255.6h41.6v0.5h-41.6zM214 256.9h42.9v0.5h-42.9zM214 262.3h48.3v0.5h-48.3zM214 269.5h55.5v0.5h-55.5zM214 270.3h56.3v0.5h-56.3zM214 272.1h58.1v0.5h-58.1zM214 277.2h63.2v0.5h-63.2zM214 284.7h70.7v0.5h-70.7zM214 285.9h71.9v0.5h-71.9zM214 289.5h75.5v0.5h-75.5zM214 292.1h78.1v0.5h-78.1zM214 297.2h83.2v0.5h-83.2z"/>
<path fill="#f6d2a8" opacity="0.35" d="M229.2 229.2h0.5v70.7h-0.5zM250.4 250.4h0.5v49.5h-0.5zM259.9 259.9h0.5v40h-0.5zM282 282h0.5v17.9h-0.5zM299.1 299.1h0.5v0.8h-0.5zM214 259h45v0.5h-45zM214 260.6h46.6v0.5h-46.6z"/>
<path fill="#f2a060" opacity="0.16" d="M231.1 231.1h0.5v68.8h-0.5zM234.2 234.2h0.5v65.7h-0.5zM251.5 251.5h0.5v48.4h-0.5zM254.3 254.3h0.5v45.6h-0.5zM258.3 258.3h0.5v41.6h-0.5zM270.3 270.3h0.5v29.6h-0.5zM283.4 283.4h0.5v16.5h-0.5zM292.4 292.4h0.5v7.5h-0.5zM214 216.1h2.1v0.5h-2.1zM214 216.9h2.9v0.5h-2.9zM214 224.9h10.9v0.5h-10.9zM214 225.9h11.9v0.5h-11.9zM214 243.3h29.3v0.5h-29.3zM214 246.3h32.3v0.5h-32.3zM214 252h38v0.5h-38zM214 252.9h38.9v0.5h-38.9zM214 258h44v0.5h-44zM214 268.1h54.1v0.5h-54.1zM214 274.8h60.8v0.5h-60.8zM214 295.6h81.6v0.5h-81.6zM214 298.8h84.8v0.5h-84.8z"/>
</g></g>
<rect x="248.49" y="228.73" width="0.8" height="0.6" fill="#e05a30" opacity="0.5"/>
<rect x="266.59" y="201.35" width="0.8" height="0.6" fill="#e05a30" opacity="0.5"/>
<rect x="271.23" y="220.3" width="0.8" height="0.6" fill="#e8703a" opacity="0.5"/>
<rect x="271.74" y="220.36" width="0.8" height="0.6" fill="#e05a30" opacity="0.5"/>
<rect x="265.96" y="228.97" width="0.8" height="0.6" fill="#e8703a" opacity="0.5"/>
<rect x="281.93" y="226.73" width="0.8" height="0.6" fill="#e05a30" opacity="0.5"/>
<rect x="252.92" y="201.29" width="0.8" height="0.6" fill="#e05a30" opacity="0.5"/>
<rect x="255.48" y="210.9" width="0.8" height="0.6" fill="#e8703a" opacity="0.5"/>
<rect x="286.29" y="229.97" width="0.8" height="0.6" fill="#ee8a50" opacity="0.5"/>
<rect x="265.92" y="220.9" width="0.8" height="0.6" fill="#e8703a" opacity="0.5"/>
<rect x="251.45" y="227.89" width="0.8" height="0.6" fill="#ee8a50" opacity="0.5"/>
<rect x="286.12" y="227.14" width="0.8" height="0.6" fill="#e8703a" opacity="0.5"/>
<rect x="262.74" y="220.47" width="0.8" height="0.6" fill="#e8703a" opacity="0.5"/>
<rect x="243.1" y="209.61" width="0.8" height="0.6" fill="#ee8a50" opacity="0.5"/>
<rect x="260.9" y="196.54" width="0.8" height="0.6" fill="#e05a30" opacity="0.5"/>
<rect x="262.43" y="228.64" width="0.8" height="0.6" fill="#e05a30" opacity="0.5"/>
<rect x="237.51" y="219.51" width="0.8" height="0.6" fill="#ee8a50" opacity="0.5"/>
<rect x="226.49" y="228.29" width="0.8" height="0.6" fill="#e8703a" opacity="0.5"/>
<rect x="236.97" y="219.44" width="0.8" height="0.6" fill="#e8703a" opacity="0.5"/>
<rect x="232.19" y="228.87" width="0.8" height="0.6" fill="#e8703a" opacity="0.5"/>
<rect x="239.9" y="210.57" width="0.8" height="0.6" fill="#e05a30" opacity="0.5"/>
<rect x="280.19" y="219.84" width="0.8" height="0.6" fill="#e8703a" opacity="0.5"/>
<rect x="251.68" y="233.43" width="0.8" height="0.6" fill="#ee8a50" opacity="0.5"/>
<rect x="241.32" y="223.97" width="0.8" height="0.6" fill="#e8703a" opacity="0.5"/>
<rect x="240.91" y="210.45" width="0.8" height="0.6" fill="#e05a30" opacity="0.5"/>
<rect x="228.51" y="228.03" width="0.8" height="0.6" fill="#ee8a50" opacity="0.5"/>
<rect x="263.34" y="209.01" width="0.8" height="0.6" fill="#ee8a50" opacity="0.5"/>
<rect x="245.27" y="220.18" width="0.8" height="0.6" fill="#e8703a" opacity="0.5"/>
<rect x="264.21" y="211.69" width="0.8" height="0.6" fill="#ee8a50" opacity="0.5"/>
<rect x="287.31" y="226.21" width="0.8" height="0.6" fill="#ee8a50" opacity="0.5"/>
<rect x="288.49" y="226.12" width="0.8" height="0.6" fill="#ee8a50" opacity="0.5"/>
<rect x="252.45" y="231.27" width="0.8" height="0.6" fill="#ee8a50" opacity="0.5"/>
<rect x="292.45" y="231.68" width="0.8" height="0.6" fill="#e05a30" opacity="0.5"/>
<rect x="230.49" y="225.53" width="0.8" height="0.6" fill="#e8703a" opacity="0.5"/>
<rect x="259.35" y="199.99" width="0.8" height="0.6" fill="#e8703a" opacity="0.5"/>
<rect x="277.75" y="221.35" width="0.8" height="0.6" fill="#e05a30" opacity="0.5"/>
<rect x="261.07" y="233.63" width="0.8" height="0.6" fill="#e05a30" opacity="0.5"/>
<rect x="231.34" y="228.35" width="0.8" height="0.6" fill="#ee8a50" opacity="0.5"/>
<rect x="238.49" y="215.3" width="0.8" height="0.6" fill="#ee8a50" opacity="0.5"/>
<rect x="236.51" y="219.79" width="0.8" height="0.6" fill="#e05a30" opacity="0.5"/>
<rect x="252.08" y="199.54" width="0.8" height="0.6" fill="#e8703a" opacity="0.5"/>
<rect x="268.56" y="222.69" width="0.8" height="0.6" fill="#e8703a" opacity="0.5"/>
<rect x="229.85" y="229" width="0.8" height="0.6" fill="#e05a30" opacity="0.5"/>
<rect x="283.06" y="235.54" width="0.8" height="0.6" fill="#e05a30" opacity="0.5"/>
<rect x="259.94" y="202.71" width="0.8" height="0.6" fill="#e8703a" opacity="0.5"/>
<rect x="240.37" y="214.13" width="0.8" height="0.6" fill="#ee8a50" opacity="0.5"/>
<rect x="238.78" y="215.99" width="0.8" height="0.6" fill="#e8703a" opacity="0.5"/>
<rect x="274.76" y="220.24" width="0.8" height="0.6" fill="#ee8a50" opacity="0.5"/>
<rect x="271.82" y="210.69" width="0.8" height="0.6" fill="#e05a30" opacity="0.5"/>
<rect x="263.5" y="210.93" width="0.8" height="0.6" fill="#e05a30" opacity="0.5"/>
<rect x="271.85" y="219.63" width="0.8" height="0.6" fill="#e8703a" opacity="0.5"/>
<rect x="241.16" y="220.17" width="0.8" height="0.6" fill="#ee8a50" opacity="0.5"/>
<rect x="257.41" y="211.32" width="0.8" height="0.6" fill="#ee8a50" opacity="0.5"/>
<rect x="229.72" y="220.02" width="0.8" height="0.6" fill="#e05a30" opacity="0.5"/>
<rect x="269.59" y="232.61" width="0.8" height="0.6" fill="#e8703a" opacity="0.5"/>
<rect x="277.4" y="230.65" width="0.8" height="0.6" fill="#ee8a50" opacity="0.5"/>
<rect x="261.9" y="219.56" width="0.8" height="0.6" fill="#ee8a50" opacity="0.5"/>
<rect x="251.09" y="220.06" width="0.8" height="0.6" fill="#ee8a50" opacity="0.5"/>
<rect x="272.88" y="212.89" width="0.8" height="0.6" fill="#e05a30" opacity="0.5"/>
<rect x="277.39" y="219.78" width="0.8" height="0.6" fill="#e05a30" opacity="0.5"/>
<rect x="230.3" y="228.57" width="0.8" height="0.6" fill="#e8703a" opacity="0.5"/>
<rect x="243.52" y="219.47" width="0.8" height="0.6" fill="#e05a30" opacity="0.5"/>
<rect x="250.95" y="219.74" width="0.8" height="0.6" fill="#ee8a50" opacity="0.5"/>
<rect x="264.55" y="228.27" width="0.8" height="0.6" fill="#e05a30" opacity="0.5"/>
<rect x="241.02" y="210.32" width="0.8" height="0.6" fill="#e8703a" opacity="0.5"/>
<rect x="233.72" y="220.19" width="0.8" height="0.6" fill="#e05a30" opacity="0.5"/>
<rect x="227.62" y="228.42" width="0.8" height="0.6" fill="#e05a30" opacity="0.5"/>
<rect x="243.53" y="207.27" width="0.8" height="0.6" fill="#e05a30" opacity="0.5"/>
<rect x="252.18" y="211.43" width="0.8" height="0.6" fill="#e8703a" opacity="0.5"/>
<line x1="192.2" y1="239.3" x2="317.4" y2="239.3" stroke="#2a2a2a" stroke-width="0.9"/>
<line x1="197.6" y1="239.3" x2="197.6" y2="240.3" stroke="#222" stroke-width="0.4"/>
<text x="197.6" y="243.9" font-size="3.7" text-anchor="middle" fill="#3a3a3a">0</text>
<line x1="235.5" y1="239.3" x2="235.5" y2="240.3" stroke="#222" stroke-width="0.4"/>
<text x="235.5" y="243.9" font-size="3.7" text-anchor="middle" fill="#3a3a3a">10</text>
<line x1="273.7" y1="239.3" x2="273.7" y2="240.3" stroke="#222" stroke-width="0.4"/>
<text x="273.7" y="243.9" font-size="3.7" text-anchor="middle" fill="#3a3a3a">20</text>
<line x1="311.6" y1="239.3" x2="311.6" y2="240.3" stroke="#222" stroke-width="0.4"/>
<text x="311.6" y="243.9" font-size="3.7" text-anchor="middle" fill="#3a3a3a">30</text>
<rect x="197.4" y="246.9" width="114.6" height="6" fill="#e6f1fd"/>
<rect x="197.8" y="246.9" width="2.2" height="6" fill="#8b40a2"/>
<rect x="201.1" y="246.9" width="0.8" height="6" fill="#8b40a2"/>
<rect x="202.5" y="246.9" width="0.9" height="6" fill="#8b40a2"/>
<rect x="203.9" y="246.9" width="1" height="6" fill="#8b40a2"/>
<rect x="205.8" y="246.9" width="1.3" height="6" fill="#8b40a2"/>
<rect x="209.2" y="246.9" width="2.9" height="6" fill="#8b40a2"/>
<rect x="227" y="246.9" width="1.8" height="6" fill="#8b40a2" opacity="0.6"/>
<rect x="233.2" y="246.9" width="1.8" height="6" fill="#8b40a2"/>
<rect x="236" y="246.9" width="1" height="6" fill="#8b40a2" opacity="0.35"/>
<rect x="240.1" y="246.9" width="2.9" height="6" fill="#8b40a2"/>
<rect x="250.8" y="246.9" width="1.7" height="6" fill="#8b40a2"/>
<rect x="256.8" y="246.9" width="1.5" height="6" fill="#8b40a2"/>
<rect x="269.3" y="246.9" width="0.5" height="6" fill="#8b40a2"/>
<rect x="281.2" y="246.9" width="0.5" height="6" fill="#8b40a2"/>
<rect x="290.4" y="246.9" width="0.4" height="6" fill="#8b40a2" opacity="0.3"/>
<rect x="298.9" y="246.9" width="3.4" height="6" fill="#8b40a2"/>
<rect x="304.1" y="246.9" width="0.5" height="6" fill="#8b40a2"/>
<rect x="310.2" y="246.9" width="1.8" height="6" fill="#8b40a2"/>
<rect x="224" y="246.9" width="0.4" height="6" fill="#8b40a2" opacity="0.3"/>
<rect x="246" y="246.9" width="0.3" height="6" fill="#8b40a2" opacity="0.2"/>
<rect x="263" y="246.9" width="0.3" height="6" fill="#8b40a2" opacity="0.2"/>
<rect x="275" y="246.9" width="0.3" height="6" fill="#8b40a2" opacity="0.2"/>
<rect x="295" y="246.9" width="0.3" height="6" fill="#8b40a2" opacity="0.25"/>
<rect x="307" y="246.9" width="0.4" height="6" fill="#8b40a2" opacity="0.3"/>
<text x="315.7" y="252.5" font-size="7.25">Gene</text>
<rect x="197.4" y="256.8" width="114.6" height="6" fill="#e6f1fd"/>
<rect x="300.2" y="256.8" width="0.5" height="6" fill="#8b40a2" opacity="0.85"/>
<rect x="302.5" y="256.8" width="0.3" height="6" fill="#8b40a2" opacity="0.15"/>
<text x="315.7" y="262.4" font-size="7.25">BdoSat1</text>
<rect x="197.4" y="266.6" width="114.6" height="6" fill="#e6f1fd"/>
<text x="315.7" y="272.2" font-size="7.25">BdoSat2</text>
<rect x="197.4" y="276.4" width="114.6" height="6" fill="#e6f1fd"/>
<rect x="214" y="276.4" width="86.2" height="6" fill="#8b40a2"/>
<text x="315.7" y="282" font-size="7.25">BdoSat3</text>
<rect x="197.4" y="286" width="114.6" height="6" fill="#e6f1fd"/>
<rect x="211.4" y="286" width="0.5" height="6" fill="#8b40a2" opacity="0.6"/>
<rect x="301" y="286" width="0.4" height="6" fill="#8b40a2" opacity="0.25"/>
<rect x="198" y="286" width="0.3" height="6" fill="#8b40a2" opacity="0.12"/>
<text x="315.7" y="291.6" font-size="7.25">RT</text>
<rect x="215" y="276.4" width="0.45" height="6" fill="#fff" opacity="0.6"/>
<rect x="216.61" y="276.4" width="0.45" height="6" fill="#fff" opacity="0.45"/>
<rect x="219.08" y="276.4" width="0.45" height="6" fill="#fff" opacity="0.6"/>
<rect x="221.32" y="276.4" width="0.45" height="6" fill="#fff" opacity="0.6"/>
<rect x="222.57" y="276.4" width="0.45" height="6" fill="#fff" opacity="0.45"/>
<rect x="225.01" y="276.4" width="0.45" height="6" fill="#fff" opacity="0.3"/>
<rect x="227.25" y="276.4" width="0.45" height="6" fill="#fff" opacity="0.3"/>
<rect x="228.63" y="276.4" width="0.45" height="6" fill="#fff" opacity="0.45"/>
<rect x="231.22" y="276.4" width="0.45" height="6" fill="#fff" opacity="0.45"/>
<rect x="233.29" y="276.4" width="0.45" height="6" fill="#fff" opacity="0.6"/>
<rect x="234.89" y="276.4" width="0.45" height="6" fill="#fff" opacity="0.6"/>
<rect x="236.44" y="276.4" width="0.45" height="6" fill="#fff" opacity="0.45"/>
<rect x="237.93" y="276.4" width="0.45" height="6" fill="#fff" opacity="0.45"/>
<rect x="239.38" y="276.4" width="0.45" height="6" fill="#fff" opacity="0.3"/>
<rect x="240.81" y="276.4" width="0.45" height="6" fill="#fff" opacity="0.6"/>
<rect x="242.72" y="276.4" width="0.45" height="6" fill="#fff" opacity="0.3"/>
<rect x="243.92" y="276.4" width="0.45" height="6" fill="#fff" opacity="0.3"/>
<rect x="245.46" y="276.4" width="0.45" height="6" fill="#fff" opacity="0.3"/>
<rect x="248.19" y="276.4" width="0.45" height="6" fill="#fff" opacity="0.3"/>
<rect x="250.79" y="276.4" width="0.45" height="6" fill="#fff" opacity="0.45"/>
<rect x="252.49" y="276.4" width="0.45" height="6" fill="#fff" opacity="0.3"/>
<rect x="254.55" y="276.4" width="0.45" height="6" fill="#fff" opacity="0.6"/>
<rect x="256.75" y="276.4" width="0.45" height="6" fill="#fff" opacity="0.3"/>
<rect x="259.46" y="276.4" width="0.45" height="6" fill="#fff" opacity="0.6"/>
<rect x="260.97" y="276.4" width="0.45" height="6" fill="#fff" opacity="0.45"/>
<rect x="262.65" y="276.4" width="0.45" height="6" fill="#fff" opacity="0.45"/>
<rect x="264.52" y="276.4" width="0.45" height="6" fill="#fff" opacity="0.3"/>
<rect x="266.14" y="276.4" width="0.45" height="6" fill="#fff" opacity="0.45"/>
<rect x="267.82" y="276.4" width="0.45" height="6" fill="#fff" opacity="0.6"/>
<rect x="269.96" y="276.4" width="0.45" height="6" fill="#fff" opacity="0.6"/>
<rect x="272.24" y="276.4" width="0.45" height="6" fill="#fff" opacity="0.45"/>
<rect x="273.55" y="276.4" width="0.45" height="6" fill="#fff" opacity="0.45"/>
<rect x="276.06" y="276.4" width="0.45" height="6" fill="#fff" opacity="0.45"/>
<rect x="278.37" y="276.4" width="0.45" height="6" fill="#fff" opacity="0.3"/>
<rect x="280.34" y="276.4" width="0.45" height="6" fill="#fff" opacity="0.6"/>
<rect x="281.82" y="276.4" width="0.45" height="6" fill="#fff" opacity="0.45"/>
<rect x="284.58" y="276.4" width="0.45" height="6" fill="#fff" opacity="0.3"/>
<rect x="287.3" y="276.4" width="0.45" height="6" fill="#fff" opacity="0.45"/>
<rect x="289.85" y="276.4" width="0.45" height="6" fill="#fff" opacity="0.3"/>
<rect x="291.93" y="276.4" width="0.45" height="6" fill="#fff" opacity="0.45"/>
<rect x="293.72" y="276.4" width="0.45" height="6" fill="#fff" opacity="0.6"/>
<rect x="296.26" y="276.4" width="0.45" height="6" fill="#fff" opacity="0.45"/>
<rect x="297.54" y="276.4" width="0.45" height="6" fill="#fff" opacity="0.3"/>
<rect x="299.74" y="276.4" width="0.45" height="6" fill="#fff" opacity="0.3"/>
<rect x="198.3" y="246.9" width="0.35" height="6" fill="#fff" opacity="0.45"/>
<rect x="204.8" y="246.9" width="0.35" height="6" fill="#fff" opacity="0.45"/>
<rect x="205.5" y="246.9" width="0.35" height="6" fill="#fff" opacity="0.45"/>
<rect x="210.2" y="246.9" width="0.35" height="6" fill="#fff" opacity="0.45"/>
<rect x="300" y="246.9" width="0.35" height="6" fill="#fff" opacity="0.45"/>
<rect x="301" y="246.9" width="0.35" height="6" fill="#fff" opacity="0.45"/>
<text x="355.3" y="167.5" font-size="8.7" textLength="19.3" lengthAdjust="spacingAndGlyphs">ChrY</text>
<linearGradient id="ig7" gradientUnits="userSpaceOnUse" x1="365.6" x2="390.3" y1="0" y2="0"><stop offset="0" stop-color="#5e4fa2"/><stop offset="0.26" stop-color="#5e4fa2"/><stop offset="0.38" stop-color="#3a6cb8"/><stop offset="0.46" stop-color="#3288bd"/><stop offset="0.54" stop-color="#66c2a5"/><stop offset="0.62" stop-color="#abdda4"/><stop offset="0.68" stop-color="#e6f598"/><stop offset="0.72" stop-color="#fee08b"/><stop offset="0.78" stop-color="#fdae61"/><stop offset="0.83" stop-color="#f46d43"/><stop offset="0.87" stop-color="#d53e4f"/><stop offset="0.92" stop-color="#9e0142"/><stop offset="1" stop-color="#9e0142"/></linearGradient>
<path d="M365.6 193.2L365.6 192.97L365.9 192.92L366.3 192.85L366.6 192.76L366.9 192.67L367.3 192.57L367.6 192.45L367.9 192.32L368.3 192.18L368.6 192.04L368.9 191.89L369.3 191.75L369.6 191.6L369.9 191.46L370.3 191.34L370.6 191.22L370.9 191.13L371.3 191.06L371.6 191.02L371.9 191L372.3 191.01L372.6 191.04L372.9 191.07L373.3 191.09L373.6 191.03L373.9 190.8L374.3 190.31L374.6 189.52L374.9 188.52L375.3 187.57L375.6 186.97L375.9 186.92L376.3 187.35L376.6 187.97L376.9 188.44L377.3 188.63L377.6 188.7L378 188.87L378.3 189.19L378.6 189.51L379 189.57L379.3 189.26L379.6 188.63L380 187.87L380.3 187.19L380.6 186.76L381 186.61L381.3 186.6L381.6 186.37L382 185.4L382.3 183.29L382.6 180.1L383 176.59L383.3 173.91L383.6 173.8L384 173.8L384.3 174.89L384.6 176.12L385 177.21L385.3 178.65L385.6 180.67L386 182.87L386.3 184.71L386.6 186.14L387 187.52L387.3 188.88L387.6 188.83L388 184.73L388.3 178.12L388.6 177.42L389 184.27L389.3 190.5L389.6 192.77L390 193.16L390.3 193.2L390.3 193.2z" fill="url(#ig7)"/>
<line x1="365.6" y1="173.8" x2="365.6" y2="193.5" stroke="#222" stroke-width="0.5"/>
<line x1="365.4" y1="193.3" x2="390.3" y2="193.3" stroke="#222" stroke-width="0.5"/>
<text x="364.3" y="175" font-size="2.4" text-anchor="end" font-weight="bold" fill="#111">1,000</text>
<line x1="364.8" y1="174.2" x2="365.6" y2="174.2" stroke="#444" stroke-width="0.3"/>
<text x="364.3" y="179.8" font-size="2.4" text-anchor="end" font-weight="bold" fill="#111">750</text>
<line x1="364.8" y1="179" x2="365.6" y2="179" stroke="#444" stroke-width="0.3"/>
<text x="364.3" y="184.4" font-size="2.4" text-anchor="end" font-weight="bold" fill="#111">500</text>
<line x1="364.8" y1="183.6" x2="365.6" y2="183.6" stroke="#444" stroke-width="0.3"/>
<text x="364.3" y="189" font-size="2.4" text-anchor="end" font-weight="bold" fill="#111">250</text>
<line x1="364.8" y1="188.2" x2="365.6" y2="188.2" stroke="#444" stroke-width="0.3"/>
<text x="364.3" y="193.8" font-size="2.4" text-anchor="end" font-weight="bold" fill="#111">0</text>
<line x1="364.8" y1="193" x2="365.6" y2="193" stroke="#444" stroke-width="0.3"/>
<text x="369.5" y="196.6" font-size="2.4" text-anchor="middle" font-weight="bold" fill="#111">85.0</text>
<line x1="369.5" y1="193.2" x2="369.5" y2="194" stroke="#444" stroke-width="0.3"/>
<text x="375.5" y="196.6" font-size="2.4" text-anchor="middle" font-weight="bold" fill="#111">90.0</text>
<line x1="375.5" y1="193.2" x2="375.5" y2="194" stroke="#444" stroke-width="0.3"/>
<text x="381.5" y="196.6" font-size="2.4" text-anchor="middle" font-weight="bold" fill="#111">95.0</text>
<line x1="381.5" y1="193.2" x2="381.5" y2="194" stroke="#444" stroke-width="0.3"/>
<text x="388.5" y="196.6" font-size="2.4" text-anchor="middle" font-weight="bold" fill="#111">100.0</text>
<line x1="388.5" y1="193.2" x2="388.5" y2="194" stroke="#444" stroke-width="0.3"/>
<text x="377.95" y="199.8" font-size="2.45" text-anchor="middle" fill="#333">% identity</text>
<text x="356.6" y="183.5" font-size="2.5" text-anchor="middle" fill="#222" transform="rotate(-90 356.6 183.5)"># of alignments</text>
<clipPath id="hcy"><polygon points="361.9,235.2 474.4,235.2 418.2,174.73"/></clipPath>
<g clip-path="url(#hcy)"><rect x="360" y="170" width="116" height="67" fill="#fefcfc"/><g stroke-linecap="square" transform="matrix(0.5 0.54 0.5 -0.54 0 235.2)" opacity="0.18">
<path stroke="#f0c0c0" stroke-width="1" d="M412.8 424.9h0M372.5 396.4h0M456.7 469.7h0M383.5 424.8h0M375.1 409.2h0M373.6 409h0M387.6 424.8h0M385.8 464.8h0M411.6 436.1h0M396.3 450.9h0M406.2 451h0M391.4 443.3h0M421.9 439.1h0M427 439.4h0M394.5 443.9h0M392.2 415.1h0M373.7 443.5h0M416.1 452.3h0M440.1 460.9h0M405.7 474.4h0M364.5 472.2h0M373 390.1h0M427.8 434.7h0M410.2 415.6h0M400.4 458.8h0M433.9 439.5h0M361.6 432.6h0M396.4 449.1h0M375.1 403.1h0M433.9 469.6h0M389.5 465.2h0M394.8 409.7h0M413.7 429.4h0M430.6 442.1h0M401.5 430.8h0M430.5 456.1h0M450.6 454.7h0M423.6 464.9h0M389 426.4h0M416.6 446.5h0M375.1 456.4h0M396.1 446.5h0M461 471.3h0M409.3 459.4h0M396.3 453.9h0M377.1 442.1h0M391.9 442.9h0M426.7 461.4h0M424.5 435.2h0M433.3 454.9h0M381.5 447.7h0M368 430.9h0M418 448h0M402.8 465.2h0M443.5 463.9h0M387.8 400.7h0M436.9 469.4h0M432.5 448.7h0M391.7 438.8h0M423.4 457.4h0M390.5 419h0M409.2 425.7h0M396.7 403.9h0M410.6 460.7h0M382.4 416.3h0M365.9 381.7h0M396.6 419.8h0M389.5 391.7h0M413.6 432.4h0M370.5 428.2h0M413.2 421.3h0M390.1 452.4h0M424.9 473.8h0M418.9 469.2h0M418 455.3h0M395.8 417.6h0M396.6 400.6h0M387.6 454.4h0M371.4 452.1h0M385.7 465.3h0M366.3 415h0M383.5 400.9h0M412.8 426.2h0M400.7 440.4h0M375.1 382.9h0M365.8 457.2h0M374.2 450.5h0M374.3 400.7h0M374.7 416.4h0M379.9 458.6h0M380.2 451.9h0M396.4 410h0M370.4 461.1h0M371.6 464.8h0M382.7 438.2h0M367 426.1h0M388.6 440.8h0M375.7 383.4h0M372.3 391.4h0M392 463.5h0M412.1 439.1h0M379 471.7h0M450.3 460.9h0M400.1 406.7h0M409.5 408.5h0M408.7 415.4h0M391.7 451.6h0M371.7 426.3h0M435.2 466.1h0M405 411h0M371.9 431.9h0M405.9 425.3h0M392.3 430.9h0M368.6 427.5h0M390.2 427h0M364.7 379.6h0M367.3 374.8h0M392.7 404.6h0M440.8 456.7h0M366.9 401.6h0M374.6 392.1h0M383.3 423.2h0M417.8 439.8h0M426.6 474.1h0M370.3 389.7h0M363.4 378.9h0M374.9 396.5h0M405.5 434.7h0M412.3 418.1h0M379.1 422.1h0M430.7 459.2h0M391.1 417.9h0M391.4 403h0M413.5 434.1h0M403.8 465.2h0M411.6 456.3h0M370.8 430.4h0M413.3 425.9h0M388.7 453.8h0M402.9 405h0M429.2 430.9h0M390.2 396.6h0M415.1 449.4h0M452.6 459.9h0M362.1 452.3h0M426.7 429h0M371.7 408.6h0M409.2 408.2h0M400.3 417.2h0M400.4 411.8h0M387.2 444.4h0M376 452h0M443.6 452.2h0M364.2 438h0M400.7 430.9h0M428.7 457.8h0M370.7 426h0M416.8 421.8h0M443.7 459.4h0M366.2 444.6h0M370.8 427.3h0M381.7 400.8h0M371.4 391.8h0M389.4 406.1h0M367.7 421.4h0M368.2 447.8h0M447.1 461.2h0M443.3 457.9h0M438.4 454.5h0M400.9 401.4h0M387.8 427.4h0M387.9 436.7h0M365.9 381.2h0M395.2 430.5h0M411 450h0M384.2 442.6h0M387.7 449.7h0M362.8 392.1h0M374.7 423.9h0M408.1 456.8h0M422.2 427.8h0M414.5 418h0M391.8 419.9h0M393.3 451.9h0M399.4 445.1h0M368.5 392.1h0M425.8 443.2h0M366.4 468.1h0M392 427.3h0M383.4 405.7h0M388.3 430.7h0M416.4 464.9h0M467.1 467.5h0M444.5 448.6h0M412.5 446.8h0M418.1 464.5h0M382.2 435.2h0M379 436.9h0M409.2 417h0M403.2 427.8h0M391 448h0M376.3 383.3h0M426.5 429.1h0M381.3 394.6h0M378.4 470.6h0M362.2 412.3h0M439.8 443.6h0M394.7 470.6h0M396.3 418.6h0M366.3 459.4h0M362 426h0M364.5 436.4h0M404.8 457.8h0M407.7 462.4h0M404.3 424.5h0M400.7 427.9h0M369.6 469.2h0M443.8 449.7h0M379.6 409.3h0M405.6 472h0M428.2 460.3h0M369 429.4h0M361.8 464.4h0M435.1 438.8h0M371.8 375h0M435 451.4h0M421.6 460.1h0M368.4 456.2h0M388.9 458.5h0M403.4 440.5h0M365 425.2h0M374.6 419h0M362.5 409.2h0M398.2 413.6h0M400.5 409.3h0M417.8 430.6h0M383.4 472.8h0M402.4 443.6h0M415.9 460.9h0M409.4 438h0M381.9 415.1h0M391.8 433.2h0M404.7 416.8h0M405 455h0M365.2 469.4h0M456.9 463.1h0M366.2 417.7h0M429.1 448.1h0M391.5 437.9h0M392.1 397.6h0M366.6 368.3h0M390.7 456.7h0M407.6 407.8h0M425.3 443.3h0M426.5 447.8h0M413.3 436.5h0M445 447.8h0M452.4 460.1h0M384.7 391.5h0M408.6 417.6h0M415.2 448.1h0M439.5 464.7h0M375.5 434.1h0M375.1 469.3h0M375 449.6h0M379.8 402.7h0M418.9 443.7h0M375 439.7h0M370.4 398h0M432.6 469.9h0M370 392.1h0M396.4 433.2h0M397 460.9h0M379.2 431.6h0M392 435.5h0M469.2 470.2h0M383.7 466.3h0M423.8 469.6h0M405 437.8h0M386 436.7h0M371.2 456.5h0M400.5 451.7h0M366.6 415.9h0M374.8 410.6h0M383.6 430.6h0M417.8 443.9h0M382.8 466.1h0M397.6 436.6h0M386.4 421.9h0M366.9 456.5h0M369.9 409h0M380.2 463.7h0M376.5 379.3h0M373 409.1h0M384.1 473.8h0M415.9 448h0M366.1 396.2h0M424.9 472.5h0M388 473.1h0M371.7 409.2h0M366.2 438.8h0M367.3 440.9h0M370.6 415.1h0M436.1 473.9h0M375.8 400.4h0M432.6 466.7h0M392.1 412.9h0M372.7 465.2h0M418 468.5h0"/>
<path stroke="#fdae61" stroke-width="1" d="M383.3 458.1h0M403.7 412.9h0M409.2 465.4h0M366 422.1h0M416.7 447.6h0M364.5 460.8h0M421.9 459.1h0M370.8 376.8h0M382.3 456.4h0M370.5 451.9h0M422.7 451.6h0M436.2 447.8h0M400.3 448.7h0M413 452.5h0M392.1 420.4h0M427.7 473.8h0M383.3 419.7h0M386.8 441h0M370.4 461.6h0M370.8 369.6h0M397.2 461.6h0M403.3 439.1h0M409.1 439.3h0M407.4 463.7h0M399.6 443.6h0M374.4 382.9h0M370.6 384.4h0M373.7 379.3h0M385.5 456.4h0M375.1 463.3h0M377.1 396.6h0M365.6 367.8h0M400.4 465.4h0M390.1 439.3h0M388.2 467.2h0M387.7 431.5h0M394.4 436.5h0M368.9 374.6h0M361.8 465.8h0M434.5 472.6h0M400.9 430.4h0M367.7 443.2h0M431.1 460.6h0M366.4 464.1h0M456.3 474.3h0M376 429.3h0M439.4 458.1h0M405.1 461.8h0M374.7 380.2h0M399.3 473.9h0M370.3 452.8h0M383.5 420.5h0M429.5 465.4h0M374.7 435.4h0M454.9 456.7h0M393.2 411.9h0M377.3 470.8h0M449.2 469h0M408.9 469.6h0M369.1 438h0M370.8 409.3h0M364.4 400.4h0M392.6 402.8h0M416 469.3h0M377.3 426.6h0M371.5 393.8h0M430.4 447.8h0M372.2 448h0M371.5 430.7h0M417.5 447.9h0M388 408.1h0M400.6 466.7h0M370.4 443.4h0M383.1 446.5h0M388.7 392.1h0M361.6 365h0M421.6 439.6h0M368.8 443.3h0M389.3 404.8h0M465.3 472.7h0M409.1 457.3h0M448.1 467.9h0M449.9 470.4h0M417.6 466.2h0M425.5 459h0M369.2 461h0M392.8 446.7h0M373.2 449.1h0M378.7 447.2h0M370.4 439.2h0M401.4 460.8h0M362.6 456.7h0M364.1 402h0M362.2 421.1h0M403 438h0M401.9 456.6h0M402.7 407.7h0M364.6 452.2h0M378.9 470.9h0M412.6 435.3h0M366.9 374.6h0M436.6 439.3h0M400.6 416.4h0"/>
<path stroke="#d53e4f" stroke-width="1" d="M435.5 470.4h0M409.1 426.3h0M364.1 473.8h0M377.5 413.5h0M416.2 443.3h0M366.3 468.1h0M413.9 422h0M387.8 439.6h0M404.9 427.5h0M374.7 421h0M400.7 414.4h0M411.8 418.7h0M405.3 471h0M435.3 446.7h0M396 443.8h0M376.7 445.3h0M373.4 430.5h0M450.7 472.4h0M441.4 474.2h0M396.5 437.4h0M375.1 437h0M387.9 393.3h0M429.5 447.9h0M406.1 413.9h0M384.9 404.8h0M400.5 448.6h0M376 452h0M391.9 432.2h0M362.7 379h0M408.5 416.4h0M459.2 467.5h0M416.1 467.2h0M378.8 401h0M448 461.1h0M405.2 409.2h0M385.4 434.8h0M363.7 452.3h0M379.1 437h0M379 421.6h0M365.5 443.6h0M398.8 456.7h0M417.6 474.4h0M394.2 404.9h0M383.4 414.2h0M364.6 469.5h0M388.4 426.3h0M400.9 426.4h0M366.2 422.5h0M452 452.1h0M464.4 465.2h0M391.7 399.4h0M390.2 465.1h0M383.7 390.3h0M407.2 435h0M364.8 385.1h0M386.3 439.2h0M370.5 417.4h0M383.5 469.4h0M383.8 423.3h0M403.8 456.2h0M394.2 449h0M386 412.1h0M378.1 399.6h0M378.8 409.1h0M414.3 426.2h0M396 397.6h0M383.2 467.3h0M408.3 422h0M379.6 388.6h0M413.8 439.3h0M370.3 425.7h0M403.3 469.4h0M367.7 421.8h0M362.2 465.1h0M392.1 416.1h0M454.3 465h0M367.1 426.2h0M372.3 408.3h0M380.9 426.1h0M363.6 367.8h0M452.5 466.1h0M413.6 419.2h0M370.7 400.5h0M415.6 430.7h0M391.9 449.8h0M405.3 440.8h0M378.8 439.3h0M383.6 385.6h0M405.8 416h0M396.5 400.2h0M390.5 465.1h0M400.6 445.2h0M391.1 456.8h0M388.9 418.5h0M371.9 418h0M397.6 425h0M370.6 424.9h0M409.5 426.4h0M369.6 441h0M408.3 413.4h0M405.9 410h0M398.3 405.8h0M377 441.2h0M430.8 451.9h0M388 452.5h0M384 417.8h0M375.7 412h0M366.4 403h0M383.7 384.1h0M417.6 465.4h0M373.8 383.2h0M366.4 463.5h0M441.2 473.7h0M443.9 455.2h0M422.1 434.3h0M382.2 408.4h0M380.2 439.8h0M396.2 469.3h0M370.3 396.1h0M370.3 417.1h0M424.5 439.3h0M384.1 392.6h0M385.1 402.7h0M385.8 401.4h0M389.4 412.6h0M380.2 407.7h0M385 408.3h0M392.4 399.4h0M376.7 397.7h0M388.4 399.7h0M397.3 397.9h0M394.5 401.9h0M396.5 405.4h0M381.9 412.3h0M382.7 417.3h0M381.5 401.2h0M374 421.3h0M390.2 403.5h0M395.7 405.8h0M377.4 407.1h0M384.7 398.7h0M386.2 402h0M383.4 407.6h0M392.4 400.7h0M387.3 406.3h0M386.8 390.7h0M377.4 391.9h0M386.8 405.8h0M381.5 393.4h0M386.6 404.1h0M385.3 390.2h0M391.3 393.6h0M385.3 405.4h0M383.8 400.1h0M385.9 409.6h0M386.6 402.5h0M381.4 400.4h0M382.4 402.6h0M381.8 399.7h0M388.8 390.2h0M390.2 396h0M382.9 405.8h0M378.5 388h0M386.3 407.8h0M380.4 404.1h0M393.8 410.3h0M388.1 406.7h0M383.3 383.8h0M377.3 397.7h0M395.2 399.6h0M384.2 397.4h0M383.2 404.9h0M386.8 393.3h0M383.1 399.7h0M386.8 391.8h0M387.5 403.6h0M388.4 409.6h0M393.7 398.5h0M386.2 387.6h0M376.2 395.9h0M389 407.1h0M382.9 403.7h0M375.1 402.1h0M377.4 404.7h0M392 397.9h0M386.1 399.3h0M387.4 391.6h0M379.4 394.8h0M384.2 386.4h0M386.2 392.2h0M386.3 400.4h0M383.1 398.2h0M383.2 396.5h0M385.7 398h0M387.7 397.1h0M386.4 386.9h0M383.3 388.6h0M389.6 407h0M381.1 394.4h0M383 394h0"/>
<path stroke="#e6a0a0" stroke-width="1" d="M369 456.6h0M411.5 456.5h0M407.7 434.7h0M447.7 470.4h0M370.3 385.4h0M382.5 461h0M370.5 412h0M444.8 463.2h0M401.5 439h0M370.9 430.4h0M405.6 443.8h0M378 403.3h0M443.6 468.8h0M404.9 456.6h0M397.9 456.6h0M377.7 387.7h0M439.1 469.7h0M376.5 412.9h0M423.8 434.9h0M420.2 463.2h0M417.1 439.2h0M366.3 379.4h0M429.8 460.6h0M384.5 432.5h0M464.4 469.6h0M370.7 451h0M445.6 449.4h0M363.1 401.9h0M408.7 420.5h0M409.1 417.5h0M425 434.9h0M367.5 473.1h0M373 453h0M374.8 429.8h0M388.7 443.8h0M392.8 430.5h0M370.1 371.6h0M412.2 454.4h0M390.9 409.6h0M394.6 447.3h0M413.9 426.4h0M417.6 447.7h0M371.4 456.6h0M372 413h0M396.2 427.4h0M371.4 435.1h0M417.7 464h0M417.4 439.4h0M447.8 472.8h0M426.2 464.2h0M432.4 469.4h0M460.2 462.3h0M375.1 439.2h0M363.1 413.4h0M434.7 448.2h0M432 465.5h0M383.4 391.2h0M383.4 432.5h0M372.2 460.8h0M375.7 429.6h0M379.7 409h0M409.4 417.9h0M398 465.3h0M460.9 467.7h0M425.7 464.9h0M361.6 389.3h0M379.1 439.8h0M418 467h0M384.7 458.5h0M381 408.6h0M361.9 427.9h0M452 450.9h0M384.7 391.3h0M383.4 460.1h0M443.4 458.3h0M379.9 390.6h0M370.8 408.1h0M386.1 400.4h0M430.8 447.4h0M379.2 402.5h0M412.5 422h0M369.4 436.2h0M370.4 410h0M401.4 443.8h0M427.4 439h0M465.3 464.5h0M405.1 434.7h0M387.7 438.4h0M454.6 469.4h0M403.2 408.6h0M453.9 473.2h0M419.5 439.2h0M387.7 443.1h0M386.1 431.3h0M363 379.1h0M385.8 431.2h0M418.7 426.5h0M414.6 473.6h0M407.1 473.2h0M378.8 451.5h0M375 455.7h0M370 473.9h0M375 376.4h0M362 396.5h0M375.8 460.5h0M387.5 415.6h0M393.5 409.1h0M471.1 471.8h0M435 440.8h0M435.7 450.8h0M436.5 469.4h0M458.6 468.2h0M421 469.6h0M395.6 405h0M395.6 406.3h0M403.9 430.6h0M394 407.2h0M431.3 439.5h0M413.5 446.5h0M424.8 471.7h0M417 417.7h0M386.5 452.3h0M427.4 463.1h0M388.2 413.8h0M456.6 467.1h0M400.8 407.8h0M399.6 421.1h0M409.2 466.6h0M366.2 426.4h0M439.5 450.8h0M409 474.4h0M443.5 472.5h0M467 471.6h0M373.7 435.1h0M408.9 427.6h0M361.8 382.4h0M427.3 460.8h0M414.6 425.1h0M407 435h0M432 473.4h0M366.3 441.9h0M364.9 391.9h0M413.5 445.7h0M382.6 431.1h0M392 440h0M443.4 459.7h0M404.2 413h0M370.6 461.6h0M369.4 471.9h0M392.8 469.4h0M400.7 447.3h0M391.6 443.3h0M385.7 441h0M452.3 461.7h0M401.9 439.5h0M438.4 448.1h0M396.3 440.1h0M364.4 396.4h0M423.4 426.1h0M363.3 443.1h0M382.6 473.5h0M365.9 451.7h0M437.2 472.1h0M363.2 384.8h0M414.5 456.9h0M362.5 396.5h0M383.1 424.5h0M381.9 413.4h0M397.1 443.4h0M403.4 465h0M426.2 457.8h0M424.2 427.4h0M391.8 459.2h0M399.8 409.2h0M370.5 419.2h0M409.1 434.8h0M421.8 449.4h0M452 466.8h0M365.3 433.8h0M363.2 409.2h0M431.9 447.1h0M370.8 378.2h0M377.7 379.2h0M434.8 437h0M415.5 432.4h0M374.9 415.2h0M409.2 413.3h0M383.6 404.5h0M398.9 457.8h0M396 411.6h0M404.1 469.2h0M374.6 433.2h0M384.2 441.5h0M395 435.8h0M447.9 448.2h0M466 468.8h0M366.8 368.8h0M383.1 458h0M437 464.4h0M363.5 413.6h0M362.4 402.8h0M433.2 463.2h0M370.2 445.6h0M395.8 426.3h0M379.7 448h0M461.9 473.4h0M427.7 456.7h0M392.9 422h0M383.7 465.3h0M400.4 431.6h0M371.3 376.1h0M412.7 426.5h0M383 461h0M422.1 426.6h0M429.8 467.1h0M373.2 430.6h0M382.1 443.8h0M423.6 431.2h0M417.3 447.7h0M402.6 456.5h0M381.8 443.9h0M362.6 471.9h0M456.7 471.2h0M400.3 417.6h0M379.2 388h0M433.4 465.2h0M404.7 474.2h0M405.9 415.2h0M428.4 464.3h0M400.4 443h0M387.5 439.6h0M366.8 375h0M378.5 438.3h0M417.9 448.4h0M396.5 421h0M395.7 456.7h0M410.4 429.1h0M366.4 448.1h0M361.9 414.3h0M396.4 450.6h0M443.5 452.9h0M454.6 456.3h0M369.1 446.2h0M383.2 410.6h0M400.5 404.5h0M441.3 456.5h0M380.9 413.4h0M370.3 409.3h0M430.7 432.5h0M421.3 435.5h0M362.8 426h0M422.2 438.6h0M412.5 437.9h0M368.1 421.9h0M431.1 465h0M390.2 436.9h0M443.9 473.6h0M390.9 448.4h0M465.2 471.1h0M417.9 471.8h0M435.2 469.5h0M430.8 444.7h0M375.4 447.7h0M361.9 419.7h0M388.8 430.9h0M438.5 452.1h0M382.2 410h0M404.6 413.2h0M435.1 442.2h0M418.8 418.9h0M388 454h0M394.1 469.1h0M451.5 467.4h0M366 387.8h0M379.1 469.4h0M366.4 463.1h0M383.5 409.2h0M413.6 427.3h0M374.7 385.6h0M386.7 413.6h0M416.6 459h0M443.5 450.8h0M414 441.5h0M389.7 392h0M371.4 443.5h0M389.6 437.9h0M388.6 403h0M417.7 432h0M366.7 443.3h0M406.2 412.7h0M387.1 435.2h0M404 473.8h0M370.5 436.1h0M407.2 420.3h0M363.6 409.3h0M456.6 463.8h0M410.1 438.4h0M413.7 413.3h0M380.6 422.1h0M414 447.5h0M364.1 423.9h0M400.8 448.3h0M408.9 443.8h0M413.5 433.9h0M431.4 452.2h0M368.1 387.8h0M363.4 384.8h0M368.6 471.1h0M369.5 405.6h0M392.1 447.9h0M385.3 445.9h0M368.5 403.5h0M380.2 387.9h0M426.5 439.6h0M443.7 464.2h0M409.4 420.5h0M447.9 450h0M399.7 458.2h0M376.9 390.3h0M419.3 459.6h0M363.1 409h0M368.8 402.3h0M419 469.6h0M378.8 400.5h0M367.8 400.1h0M366.4 456.3h0M470.1 471.8h0M400.6 426.4h0M406.5 451.3h0M416.4 430.7h0M428.5 461.1h0M369.8 373.9h0M364.5 435.2h0M374.6 461.5h0M417.7 425h0M414.1 473.1h0M392.8 435h0M391.9 392.2h0M396.1 411.2h0M398.3 421h0M378.9 444.8h0M363.9 460.7h0M379.2 459.7h0M410 455.6h0M435.2 471.9h0M379.9 447.3h0M369.7 374.3h0M417.6 460.8h0M447.8 459h0M371.3 373.8h0M379.8 456.6h0M415.4 465h0M418.1 461.4h0M363.6 396.1h0M368.2 370.2h0M379.4 388.7h0M410.2 474.2h0M384.7 392.3h0M430.8 433.6h0M410.8 422.3h0M388 413.4h0M374.2 416.2h0M368 417.6h0M384.1 400.3h0M385.3 400.6h0M391.9 403.5h0M382.4 389.2h0M386.1 397.4h0M386 392.9h0M393.7 394.3h0M380.8 393.3h0M388.5 406h0M388.2 403.8h0M377.3 397.2h0M380.5 393.9h0M392.2 402h0M390.9 396.7h0M390.8 406.3h0M388.4 400.3h0M386.1 390.3h0M386.2 396.3h0M397.4 405.5h0M385.1 396.1h0M394.9 395.2h0M389.5 411.1h0M384.2 406.3h0M388.5 401.2h0M386 394h0M393 393.7h0M394.4 402.6h0M387.9 403.8h0M382.1 398.9h0M383 396.3h0M392.3 395.4h0M385.9 405.6h0M389.3 397.4h0M382.2 407.6h0M384.6 396.1h0M383.8 406.8h0M381 393.8h0M386.1 389.8h0M384.4 418.8h0M387.4 397.3h0M385.5 403.3h0M386.4 399h0M380.7 401.1h0M389.4 392h0M382.7 398.8h0M389.1 398.3h0M379.7 409.1h0M375.9 398.1h0M393.3 399h0M379.6 399.7h0M394.7 400.8h0M388 402.9h0M378.6 404.7h0M383.3 400.6h0M386.5 388.8h0M385.6 388.6h0M390.8 401.8h0M387.8 400h0M380.7 395.8h0M384.1 400.9h0M386 397h0M387 396.8h0M385.8 400.1h0M381.4 402.1h0M387.5 400.8h0M381.7 397.6h0M380.8 405.5h0M382.8 411.6h0M391.3 395.1h0M379.7 393.2h0M376 406.5h0M385.9 390.9h0M393.2 398.3h0M386.2 402h0M389.8 405.1h0M387.2 400.1h0"/>
<path stroke="#f46d43" stroke-width="1" d="M366 419.6h0M385.9 473.6h0M379.7 430.6h0M413.2 465.8h0M373 459.3h0M379.1 396.2h0M418.5 430.7h0M378.4 383.7h0M377 427.1h0M383.6 426h0M382.7 385.2h0M391.9 470.1h0M400.4 416.4h0M419.9 422.2h0M378.8 448.1h0M396.1 458.4h0M397.5 409.3h0M363.3 404.3h0M447.7 469.2h0M399 469.3h0M388.5 421.9h0M430.9 465h0M387.6 462h0M375.3 395.2h0M420.3 443.7h0M439.6 461.4h0M402.6 441.3h0M366.1 442.1h0M452.2 455h0M387.9 470.1h0M451.9 458.1h0M363.6 404.8h0M454.2 456.3h0M408.4 425h0M383.7 473.6h0M368.8 456.4h0M417.9 420h0M438.4 472.6h0M422 436.9h0M452 465.6h0M370.5 436.9h0M411 439.4h0M409.2 416.6h0M364.6 469.5h0M403.2 443.7h0M435.9 469.5h0M368.6 417.4h0M404.8 465.7h0M366.5 424.5h0M399.5 447.6h0M439.1 465.1h0M429.6 457.1h0M383.1 387.8h0M422.2 467.6h0M395.8 414.8h0M433.5 440.6h0M440.4 469.4h0M434.7 462.6h0M377.3 396.2h0M400.3 411.9h0M401.8 415h0M394 396.4h0M408 469.5h0M366.4 415.8h0M469 473.3h0M389.2 450.4h0M377.2 443.4h0M392.1 419.3h0M412.4 417.5h0M384.8 410.7h0M396.4 402.3h0M387.7 404.2h0M364.3 406.5h0M438.7 440h0M469.2 473.8h0M425 468.8h0M391.8 428h0M362.2 402.9h0M381.8 391.6h0M400.7 457.8h0M433.1 454.6h0M364.8 420.9h0M418 420.8h0M375.3 379.2h0M381.6 445.6h0M404.7 445.1h0M398 422.3h0M367.6 413.6h0M415.1 434.9h0M401.3 404.8h0M413 474h0M390.2 417.9h0M380.2 460.9h0M445.1 469.5h0M371.7 378.6h0M443.9 449h0M409 434.6h0M442.5 447.7h0M361.7 365.9h0M369.5 469.4h0M457.8 471.7h0M365.7 420.6h0M385.1 417.5h0M447 465.3h0M423.8 459h0M417.8 434.5h0M424.6 465h0M387.6 453.7h0M367 392.3h0M420.2 426.4h0M376.8 422.9h0M413.3 415.4h0M363.9 416.7h0M382.3 474.4h0M362.2 442.7h0M363.8 408.9h0M418.3 440.2h0M449.1 462.6h0M465.3 466.6h0M407.4 422.4h0M404.7 474.3h0M380.6 439.1h0M383.4 407.5h0M390 465.1h0M387.7 400.5h0M400.9 458.8h0M386.6 452.2h0M366.3 394.3h0M381.5 473.7h0M396.1 453.3h0M378.9 395.3h0M435.7 445.4h0M434.9 471.7h0M386.9 404.8h0M388.1 395.9h0M384 407.6h0M388.4 405.1h0M390.3 390.3h0M374.8 394.4h0M393.4 394.3h0M379.1 407h0M386.9 406.4h0M390.5 399.2h0M382.3 403.9h0M382.2 387.9h0M374.9 398.6h0M379.1 407.3h0M391.8 403.7h0M384 402.3h0M386.1 406.4h0M387.5 393.7h0M392.9 407.7h0M386.1 388.9h0M380.3 402.3h0M382.4 400.2h0M398.8 405.1h0M380.2 391.7h0M378.2 397.2h0M384.8 410.4h0M389.1 407h0M396.5 413h0M379.1 403.9h0M387 404.8h0M391.8 397.1h0M383.5 393.4h0M384.2 387.4h0M381 399.4h0M394.2 405h0M384.1 404h0M384.4 386.6h0M383.9 398.6h0M381 396.6h0M385.6 406.3h0M384 400.6h0M386.7 399.9h0M380.8 398h0M380 398h0M380.1 407.1h0M380.7 400.2h0M388.4 401.8h0M377.7 403.5h0M388.6 398.1h0M380.6 398.3h0M380.4 408.3h0M383.4 399.4h0M375.1 399.7h0M387.4 389.4h0M382.6 402.5h0M383 395.9h0M384.8 402.8h0M387.8 393.3h0M386 396.5h0M385.6 401.6h0M376.5 407.2h0M381.2 394.3h0M383 408.6h0M386.7 394.8h0M382.5 396.2h0M384.5 403h0M383.1 401.1h0M377.7 399.7h0M382.9 404.4h0M392.8 398.8h0M380.9 407.4h0M389 396.2h0M389.2 405.3h0M390.7 400.6h0M389.1 404.9h0M399.2 401.5h0M386.2 408.1h0M385.1 396.8h0M392.1 393.4h0M386 396.3h0M381.4 402.8h0M393.1 396.7h0M384.7 397.2h0M382.9 402.1h0M387.5 388.8h0M373 400.9h0M396.5 404.4h0M387 399.2h0M383 396.8h0M388.7 393.6h0M385.1 396.6h0M381.1 398.2h0M384.1 395h0M391.9 401.2h0M390.6 398.2h0M385.1 394.5h0M386.2 395.5h0M391.2 392.4h0M381.9 397.1h0M384.3 397h0M378 394h0M385.2 407.2h0"/>
<path stroke="#3288bd" stroke-width="1" d="M384.2 410.4h0M390.8 437.4h0M409.1 452.2h0M405.2 452.1h0M400.8 456.2h0M438.4 471.2h0M362 369.5h0M378.9 456.5h0M378.6 396.9h0M406.6 424.1h0M410.9 413.8h0M379.5 442.4h0M379.5 389.4h0M387.7 472.3h0M375.3 397.6h0M379.2 454.2h0M395.4 448h0M383.6 407.8h0M461.2 464.1h0M391.7 436.8h0M458.8 473.6h0M401.2 400.9h0M379.2 433.7h0M428.3 430.4h0M377.3 471.1h0"/>
<path stroke="#9e0142" stroke-width="1" d="M385.9 463.1h0M388.1 445.2h0M423 465h0M398.1 409h0M409.3 441.3h0M451.6 456.2h0M385.9 428.2h0M443.8 462.8h0M409.2 451.8h0M378 385h0M430.8 444.1h0M410.8 435h0M387 473.5h0M396.2 429.3h0M394.5 448h0M409.3 430.2h0M392.5 467.8h0M362.9 426.5h0M370.7 405.9h0M391.1 460.8h0M366 453.2h0M370.3 376.3h0"/>
<path stroke="#66c2a5" stroke-width="1" d="M413.5 449.8h0M379 463.3h0M422 423.6h0M415 440h0M421.9 451.9h0M416.1 417.9h0M409.5 467.1h0M402.6 459.3h0M376.7 430.2h0M368.9 379.2h0M375.8 411.4h0M361.7 453.9h0M390.5 443.5h0M396.5 410.4h0M371.4 387.5h0M363.6 366.3h0M433.2 443.4h0M387.8 431.8h0M388.6 400.8h0M400.5 448.4h0M375.3 391.7h0M443.6 461.1h0M449 451.9h0M379.3 448.7h0"/>
<path stroke="#e88a8a" stroke-width="1" d="M393.5 401.2h0M389.5 389.9h0M387.8 398.4h0M383.9 403.6h0M386.2 403.2h0M389.5 396.2h0M384.1 398.5h0M395.1 395.5h0M388.9 400.2h0M392.1 393.6h0M386.2 400.8h0M376.9 395.9h0M380.2 392h0M380.2 403.5h0M384.6 409.4h0M387.7 396h0M384.8 401.6h0M386.2 411.5h0M381.8 392.3h0M384.3 395.5h0M395.4 396h0M391.5 391.8h0M391.3 392.7h0M398.6 399.3h0M394.1 405.8h0M388 405.3h0M388.9 398.2h0M377.2 392.7h0M382.3 399.2h0M383.2 402.7h0M381.9 406.3h0M388.2 404h0M392.2 411.2h0M383.2 403.1h0M388.5 400.2h0M390.2 402.2h0M385 386.3h0M382.9 397.2h0M385.8 405.3h0M378.5 412.2h0M397.2 399.5h0M385.7 401.6h0M390.5 408.3h0M385.7 392.5h0M388.4 392.1h0M386.2 400.4h0M393.2 402.4h0M389.9 401.8h0M390 401.1h0M385.5 400.9h0M398.9 400.9h0M388.1 405.5h0M390.1 403.4h0M391 416.4h0M388.1 403.2h0M387.3 405h0M379 411.7h0M385.4 399.7h0M381.3 396.8h0M384.6 388.9h0M382.7 386.7h0M379.6 411h0M384.8 394.5h0M384.4 393.5h0M385.2 390.5h0M395.6 411.2h0M385.9 396.2h0M380 396.8h0M388.6 407.8h0M387.1 394.7h0M387.6 398.3h0M382.1 391h0M391.7 395.5h0M386.8 403.8h0M385 391.3h0M392.9 403.2h0M386.6 408.4h0M393.5 403.5h0M388.7 401.3h0M385.2 406.3h0M381.4 401.4h0M385.5 399.5h0M380.4 397.2h0M379.3 409.1h0M391.3 413.1h0M384.8 397.8h0M389.8 406.4h0M382.3 390.4h0M387.8 405.4h0M385.5 393.4h0M387.5 395.7h0M388 408.6h0M385.4 397.1h0"/>
</g></g>
<rect x="364.5" y="235.2" width="1.1" height="0.9" fill="#d53e4f" opacity="0.8"/>
<rect x="366" y="234.8" width="1.1" height="0.9" fill="#66c2a5" opacity="0.8"/>
<rect x="404.5" y="235.3" width="1.1" height="0.9" fill="#d53e4f" opacity="0.8"/>
<rect x="406" y="235.5" width="1.1" height="0.9" fill="#d53e4f" opacity="0.8"/>
<rect x="390" y="213.8" width="1.1" height="0.9" fill="#3288bd" opacity="0.8"/>
<rect x="391.5" y="215" width="1.1" height="0.9" fill="#66c2a5" opacity="0.8"/>
<rect x="388" y="216.5" width="1.1" height="0.9" fill="#d53e4f" opacity="0.8"/>
<rect x="384" y="224" width="1.1" height="0.9" fill="#d53e4f" opacity="0.8"/>
<line x1="357.6" y1="238.4" x2="479.2" y2="238.4" stroke="#2a2a2a" stroke-width="0.9"/>
<line x1="363.2" y1="238.4" x2="363.2" y2="239.4" stroke="#222" stroke-width="0.4"/>
<text x="363.2" y="242.9" font-size="3.7" text-anchor="middle" fill="#3a3a3a">0</text>
<line x1="393.8" y1="238.4" x2="393.8" y2="239.4" stroke="#222" stroke-width="0.4"/>
<text x="393.8" y="242.9" font-size="3.7" text-anchor="middle" fill="#3a3a3a">2</text>
<line x1="424.7" y1="238.4" x2="424.7" y2="239.4" stroke="#222" stroke-width="0.4"/>
<text x="424.7" y="242.9" font-size="3.7" text-anchor="middle" fill="#3a3a3a">4</text>
<line x1="455.4" y1="238.4" x2="455.4" y2="239.4" stroke="#222" stroke-width="0.4"/>
<text x="455.4" y="242.9" font-size="3.7" text-anchor="middle" fill="#3a3a3a">6</text>
<rect x="359.9" y="245" width="117" height="6.8" fill="#e6f1fd"/>
<rect x="366.2" y="245" width="0.5" height="6.8" fill="#8b40a2" opacity="0.5"/>
<rect x="376.3" y="245" width="0.6" height="6.8" fill="#8b40a2" opacity="0.9"/>
<rect x="387.4" y="245" width="0.4" height="6.8" fill="#8b40a2" opacity="0.25"/>
<rect x="391.5" y="245" width="0.4" height="6.8" fill="#8b40a2" opacity="0.4"/>
<rect x="393.4" y="245" width="0.4" height="6.8" fill="#8b40a2" opacity="0.4"/>
<rect x="400.4" y="245" width="0.5" height="6.8" fill="#8b40a2" opacity="0.6"/>
<rect x="402" y="245" width="3.8" height="6.8" fill="#8b40a2"/>
<rect x="407" y="245" width="1" height="6.8" fill="#8b40a2"/>
<rect x="409" y="245" width="0.4" height="6.8" fill="#8b40a2" opacity="0.3"/>
<rect x="411.9" y="245" width="1.2" height="6.8" fill="#8b40a2"/>
<rect x="414.5" y="245" width="3.6" height="6.8" fill="#8b40a2"/>
<rect x="418.9" y="245" width="0.5" height="6.8" fill="#8b40a2" opacity="0.6"/>
<rect x="420.7" y="245" width="0.4" height="6.8" fill="#8b40a2" opacity="0.3"/>
<rect x="439.1" y="245" width="0.5" height="6.8" fill="#8b40a2" opacity="0.8"/>
<rect x="448.4" y="245" width="0.5" height="6.8" fill="#8b40a2" opacity="0.7"/>
<rect x="455.4" y="245" width="0.4" height="6.8" fill="#8b40a2" opacity="0.25"/>
<rect x="463.3" y="245" width="0.5" height="6.8" fill="#8b40a2" opacity="0.75"/>
<rect x="474.2" y="245" width="0.4" height="6.8" fill="#8b40a2" opacity="0.25"/>
<rect x="476.1" y="245" width="0.8" height="6.8" fill="#8b40a2"/>
<rect x="362" y="245" width="0.3" height="6.8" fill="#8b40a2" opacity="0.2"/>
<rect x="369" y="245" width="0.3" height="6.8" fill="#8b40a2" opacity="0.2"/>
<rect x="372" y="245" width="0.3" height="6.8" fill="#8b40a2" opacity="0.25"/>
<rect x="380" y="245" width="0.3" height="6.8" fill="#8b40a2" opacity="0.2"/>
<rect x="384" y="245" width="0.3" height="6.8" fill="#8b40a2" opacity="0.2"/>
<rect x="388" y="245" width="0.3" height="6.8" fill="#8b40a2" opacity="0.25"/>
<rect x="398" y="245" width="0.3" height="6.8" fill="#8b40a2" opacity="0.3"/>
<rect x="423" y="245" width="0.3" height="6.8" fill="#8b40a2" opacity="0.25"/>
<rect x="428" y="245" width="0.3" height="6.8" fill="#8b40a2" opacity="0.2"/>
<rect x="432" y="245" width="0.3" height="6.8" fill="#8b40a2" opacity="0.2"/>
<rect x="444" y="245" width="0.3" height="6.8" fill="#8b40a2" opacity="0.25"/>
<rect x="453" y="245" width="0.3" height="6.8" fill="#8b40a2" opacity="0.2"/>
<rect x="458" y="245" width="0.3" height="6.8" fill="#8b40a2" opacity="0.3"/>
<rect x="468" y="245" width="0.3" height="6.8" fill="#8b40a2" opacity="0.2"/>
<rect x="472" y="245" width="0.3" height="6.8" fill="#8b40a2" opacity="0.25"/>
<text x="479" y="250.7" font-size="7.35">Gene</text>
<rect x="359.9" y="255.6" width="117" height="6.8" fill="#e6f1fd"/>
<text x="479" y="261.3" font-size="7.35">BdoSat1</text>
<rect x="359.9" y="266.2" width="117" height="6.8" fill="#e6f1fd"/>
<text x="479" y="271.9" font-size="7.35">BdoSat2</text>
<rect x="359.9" y="276.8" width="117" height="6.8" fill="#e6f1fd"/>
<text x="479" y="282.5" font-size="7.35">BdoSat3</text>
<rect x="359.9" y="287.2" width="117" height="6.8" fill="#e6f1fd"/>
<rect x="361" y="287.2" width="1" height="6.8" fill="#8b40a2"/>
<rect x="363.7" y="287.2" width="2.1" height="6.8" fill="#8b40a2"/>
<rect x="371" y="287.2" width="0.4" height="6.8" fill="#8b40a2" opacity="0.25"/>
<rect x="404" y="287.2" width="1" height="6.8" fill="#8b40a2"/>
<rect x="406.7" y="287.2" width="0.6" height="6.8" fill="#8b40a2"/>
<rect x="410.6" y="287.2" width="0.6" height="6.8" fill="#8b40a2"/>
<rect x="414" y="287.2" width="0.6" height="6.8" fill="#8b40a2"/>
<rect x="422.5" y="287.2" width="0.4" height="6.8" fill="#8b40a2" opacity="0.2"/>
<rect x="437" y="287.2" width="0.4" height="6.8" fill="#8b40a2" opacity="0.25"/>
<rect x="476.1" y="287.2" width="0.8" height="6.8" fill="#8b40a2"/>
<rect x="367.5" y="287.2" width="0.3" height="6.8" fill="#8b40a2" opacity="0.3"/>
<rect x="374" y="287.2" width="0.3" height="6.8" fill="#8b40a2" opacity="0.2"/>
<rect x="409" y="287.2" width="0.3" height="6.8" fill="#8b40a2" opacity="0.3"/>
<rect x="416" y="287.2" width="0.3" height="6.8" fill="#8b40a2" opacity="0.3"/>
<text x="479" y="292.9" font-size="7.35">RT</text>
<rect x="403.2" y="245" width="0.35" height="6.8" fill="#fff" opacity="0.25"/>
<rect x="404.5" y="245" width="0.35" height="6.8" fill="#fff" opacity="0.25"/>
<rect x="415.8" y="245" width="0.35" height="6.8" fill="#fff" opacity="0.25"/>
<rect x="417" y="245" width="0.35" height="6.8" fill="#fff" opacity="0.25"/>
<text x="528" y="168.1" font-size="22.5">c</text>
<text x="554.9" y="166.3" font-size="7.2" font-weight="bold" fill="#555" textLength="49.4" lengthAdjust="spacingAndGlyphs">Tree scale: 0.1</text>
<line x1="611" y1="163.7" x2="638.7" y2="163.7" stroke="#333" stroke-width="1"/>
<line x1="611.2" y1="162.3" x2="611.2" y2="165.1" stroke="#444" stroke-width="0.7"/>
<line x1="638.5" y1="162.3" x2="638.5" y2="165.1" stroke="#444" stroke-width="0.7"/>
<line x1="624.8" y1="163" x2="624.8" y2="164.4" stroke="#444" stroke-width="0.5"/>
<line x1="525.8" y1="209.7" x2="554.9" y2="209.7" stroke="#000" stroke-width="1.5" stroke-linecap="square"/>
<line x1="554.9" y1="190.9" x2="554.9" y2="229" stroke="#000" stroke-width="1.5" stroke-linecap="square"/>
<line x1="554.9" y1="190.9" x2="583.8" y2="190.9" stroke="#000" stroke-width="1.5" stroke-linecap="square"/>
<line x1="583.8" y1="182" x2="583.8" y2="199.4" stroke="#000" stroke-width="1.5" stroke-linecap="square"/>
<line x1="583.8" y1="182" x2="616.5" y2="182" stroke="#000" stroke-width="1.5" stroke-linecap="square"/>
<line x1="583.8" y1="199.4" x2="590" y2="199.4" stroke="#000" stroke-width="1.5" stroke-linecap="square"/>
<line x1="554.9" y1="229" x2="584.5" y2="229" stroke="#000" stroke-width="1.5" stroke-linecap="square"/>
<line x1="584.5" y1="216.6" x2="584.5" y2="250.7" stroke="#000" stroke-width="1.5" stroke-linecap="square"/>
<line x1="584.5" y1="216.6" x2="618.4" y2="216.6" stroke="#000" stroke-width="1.5" stroke-linecap="square"/>
<line x1="584.5" y1="233.6" x2="610.5" y2="233.6" stroke="#000" stroke-width="1.5" stroke-linecap="square"/>
<line x1="584.5" y1="250.7" x2="598.6" y2="250.7" stroke="#000" stroke-width="1.5" stroke-linecap="square"/>
<line x1="592" y1="199.4" x2="596" y2="199.4" stroke="#bbb" stroke-width="0.5" opacity="0.6"/>
<line x1="609" y1="199.4" x2="615" y2="199.4" stroke="#bbb" stroke-width="0.6"/>
<line x1="611.5" y1="233.6" x2="615" y2="233.6" stroke="#bbb" stroke-width="0.6"/>
<line x1="608.5" y1="250.7" x2="615" y2="250.7" stroke="#bbb" stroke-width="0.6"/>
<text x="621.7" y="185.5" font-size="12.2" textLength="55.4" lengthAdjust="spacingAndGlyphs">BdoSat3A</text>
<text x="621.7" y="202.9" font-size="12.2" textLength="55.2" lengthAdjust="spacingAndGlyphs">BdoSat3B</text>
<text x="621.7" y="220.1" font-size="12.2" textLength="55.4" lengthAdjust="spacingAndGlyphs">BdoSat2A</text>
<text x="621.7" y="237.3" font-size="12.2" textLength="55.2" lengthAdjust="spacingAndGlyphs">BdoSat2B</text>
<text x="621.7" y="254.4" font-size="12.2" textLength="56" lengthAdjust="spacingAndGlyphs">BdoSat2C</text>
<text x="0.2" y="322.7" font-size="22">b</text>
<text x="21.9" y="366.9" font-size="7.2" text-anchor="middle" fill="#222" textLength="36" lengthAdjust="spacingAndGlyphs" transform="rotate(-90 21.9 366.9)">CV value of</text>
<text x="31.8" y="364.2" font-size="7.2" text-anchor="middle" fill="#222" textLength="70.4" lengthAdjust="spacingAndGlyphs" transform="rotate(-90 31.8 364.2)">substitution in unitigs</text>
<text x="87.2" y="326.2" font-size="15.2" textLength="60.8" lengthAdjust="spacingAndGlyphs">BdoSat1</text>
<rect x="50" y="331.8" width="130.4" height="72.2" fill="#ebebeb"/>
<line x1="66.1" y1="331.8" x2="66.1" y2="404" stroke="#fff" stroke-width="0.45" opacity="0.85"/>
<line x1="85.9" y1="331.8" x2="85.9" y2="404" stroke="#fff" stroke-width="0.45" opacity="0.85"/>
<line x1="105.7" y1="331.8" x2="105.7" y2="404" stroke="#fff" stroke-width="0.45" opacity="0.85"/>
<line x1="125.5" y1="331.8" x2="125.5" y2="404" stroke="#fff" stroke-width="0.45" opacity="0.85"/>
<line x1="145.3" y1="331.8" x2="145.3" y2="404" stroke="#fff" stroke-width="0.45" opacity="0.85"/>
<line x1="165.1" y1="331.8" x2="165.1" y2="404" stroke="#fff" stroke-width="0.45" opacity="0.85"/>
<line x1="50" y1="352.4" x2="180.4" y2="352.4" stroke="#fff" stroke-width="0.45" opacity="0.85"/>
<line x1="50" y1="371.8" x2="180.4" y2="371.8" stroke="#fff" stroke-width="0.45" opacity="0.85"/>
<line x1="50" y1="391.3" x2="180.4" y2="391.3" stroke="#fff" stroke-width="0.45" opacity="0.85"/>
<line x1="50" y1="333" x2="180.4" y2="333" stroke="#fff" stroke-width="0.45" opacity="0.85"/>
<line x1="56.2" y1="331.8" x2="56.2" y2="404" stroke="#fff" stroke-width="0.85"/>
<line x1="76" y1="331.8" x2="76" y2="404" stroke="#fff" stroke-width="0.85"/>
<line x1="95.8" y1="331.8" x2="95.8" y2="404" stroke="#fff" stroke-width="0.85"/>
<line x1="115.6" y1="331.8" x2="115.6" y2="404" stroke="#fff" stroke-width="0.85"/>
<line x1="135.4" y1="331.8" x2="135.4" y2="404" stroke="#fff" stroke-width="0.85"/>
<line x1="155.2" y1="331.8" x2="155.2" y2="404" stroke="#fff" stroke-width="0.85"/>
<line x1="175" y1="331.8" x2="175" y2="404" stroke="#fff" stroke-width="0.85"/>
<line x1="50" y1="342.7" x2="180.4" y2="342.7" stroke="#fff" stroke-width="0.85"/>
<line x1="50" y1="362.1" x2="180.4" y2="362.1" stroke="#fff" stroke-width="0.85"/>
<line x1="50" y1="381.6" x2="180.4" y2="381.6" stroke="#fff" stroke-width="0.85"/>
<line x1="50" y1="401" x2="180.4" y2="401" stroke="#fff" stroke-width="0.85"/>
<text x="47.8" y="345.04" font-size="6.5" text-anchor="end" fill="#444">0.6</text>
<line x1="48.2" y1="342.7" x2="50" y2="342.7" stroke="#111" stroke-width="1"/>
<text x="47.8" y="364.44" font-size="6.5" text-anchor="end" fill="#444">0.4</text>
<line x1="48.2" y1="362.1" x2="50" y2="362.1" stroke="#111" stroke-width="1"/>
<text x="47.8" y="383.94" font-size="6.5" text-anchor="end" fill="#444">0.2</text>
<line x1="48.2" y1="381.6" x2="50" y2="381.6" stroke="#111" stroke-width="1"/>
<text x="47.8" y="403.34" font-size="6.5" text-anchor="end" fill="#444">0.0</text>
<line x1="48.2" y1="401" x2="50" y2="401" stroke="#111" stroke-width="1"/>
<text x="56.2" y="411.4" font-size="5.6" text-anchor="middle" fill="#444">70</text>
<line x1="56.2" y1="404" x2="56.2" y2="405.9" stroke="#111" stroke-width="1.1"/>
<line x1="56.2" y1="412.7" x2="56.2" y2="414.9" stroke="#111" stroke-width="1.1"/>
<text x="76" y="411.4" font-size="5.6" text-anchor="middle" fill="#444">75</text>
<line x1="76" y1="404" x2="76" y2="405.9" stroke="#111" stroke-width="1.1"/>
<line x1="76" y1="412.7" x2="76" y2="414.9" stroke="#111" stroke-width="1.1"/>
<text x="95.8" y="411.4" font-size="5.6" text-anchor="middle" fill="#444">80</text>
<line x1="95.8" y1="404" x2="95.8" y2="405.9" stroke="#111" stroke-width="1.1"/>
<line x1="95.8" y1="412.7" x2="95.8" y2="414.9" stroke="#111" stroke-width="1.1"/>
<text x="115.6" y="411.4" font-size="5.6" text-anchor="middle" fill="#444">85</text>
<line x1="115.6" y1="404" x2="115.6" y2="405.9" stroke="#111" stroke-width="1.1"/>
<line x1="115.6" y1="412.7" x2="115.6" y2="414.9" stroke="#111" stroke-width="1.1"/>
<text x="135.4" y="411.4" font-size="5.6" text-anchor="middle" fill="#444">90</text>
<line x1="135.4" y1="404" x2="135.4" y2="405.9" stroke="#111" stroke-width="1.1"/>
<line x1="135.4" y1="412.7" x2="135.4" y2="414.9" stroke="#111" stroke-width="1.1"/>
<text x="155.2" y="411.4" font-size="5.6" text-anchor="middle" fill="#444">95</text>
<line x1="155.2" y1="404" x2="155.2" y2="405.9" stroke="#111" stroke-width="1.1"/>
<line x1="155.2" y1="412.7" x2="155.2" y2="414.9" stroke="#111" stroke-width="1.1"/>
<text x="175" y="411.4" font-size="5.6" text-anchor="middle" fill="#444">100</text>
<line x1="175" y1="404" x2="175" y2="405.9" stroke="#111" stroke-width="1.1"/>
<line x1="175" y1="412.7" x2="175" y2="414.9" stroke="#111" stroke-width="1.1"/>
<g stroke-linecap="square" opacity="0.95">
<path stroke="#b83227" stroke-width="0.75" d="M162 355.6h0M148.5 382.9h0M161.9 352.2h0M154.1 363.9h0M166.5 340.9h0M159.3 354.5h0M155.1 366h0M160.1 357.1h0M161.3 352.5h0M153.1 368.4h0M162.5 351.5h0M156.7 361.9h0M153.9 367.8h0M148.4 379.1h0M149.1 375.5h0M154.2 363.3h0M159.5 352.6h0M156.4 358.3h0M162.3 345.8h0M151.9 367.8h0M160.2 346.4h0M161.2 353.8h0M156.9 363.7h0M152.2 377.5h0M153.6 364.2h0M159.8 353.7h0M156.3 351.6h0M157.4 356.3h0M161.7 349.6h0M162 345.1h0M162.9 344.9h0M158.5 357.2h0M162.4 349.2h0M156 352.8h0M158 348.6h0M162.7 353.3h0M156.1 359.2h0M152.9 367h0M154.5 365h0M152.7 372.7h0M161.9 344.9h0M159 358.3h0M162.2 342h0M152.7 370h0M159 358.5h0M159.5 358.7h0M156.2 358.2h0M158.4 348.5h0M157.8 359.3h0M157.9 361.5h0M151.4 368.5h0M157.5 356.2h0M157 360.7h0M152.9 358.7h0M164.2 341.6h0M160.2 352.1h0M157.1 361.7h0M158.3 348.3h0M157.9 357.3h0M163.2 337h0M156.4 359.2h0M158.4 352.9h0M149.6 367.6h0M152.3 369.5h0M157.3 356.4h0M149.5 371.3h0M159.3 349.1h0M161.9 343.4h0M165.3 349.8h0M164 341.6h0M163.4 344.6h0M163 340.7h0M162.2 345.7h0M163.4 341.8h0M162.2 345h0M164.7 346h0M159.4 345.6h0M163.7 340.8h0M162.3 350.9h0M159.7 344.6h0M162.9 340.7h0M162.3 345.5h0M163.8 347.2h0M162.1 343.5h0M162.9 343.9h0M159.4 344.5h0M165.6 344.3h0M161.9 343h0M164.5 339.3h0M163.3 345.7h0M138.1 390.2h0M139.5 387.8h0M139.7 384.1h0M139.4 387.1h0M139.4 383.7h0M137.9 385.9h0M141.7 387.5h0M139.6 387.1h0M137.6 388.5h0M138.2 389h0M139.5 384.8h0M139.8 385.1h0M138.9 386h0M138.2 385.9h0"/>
<path stroke="#9c1a1a" stroke-width="0.75" d="M156.4 366.1h0M157.4 363.4h0M154.8 370.2h0M151.9 375.9h0M159.4 366h0M152.5 363.2h0M158.9 357.1h0M147.8 373.6h0M160 354.1h0M154.7 372.7h0M156.6 361.5h0M153 377.7h0M157 365h0M152.1 375.2h0M153.9 363.3h0M155.6 364h0M157.9 348.7h0M153.3 370h0M160.4 359.2h0M151.5 370.8h0M154.1 366.3h0M162.2 341.8h0M152.4 368.2h0M161.4 353.9h0M160.6 351.6h0M158.9 352.7h0M157.2 351.7h0M154.5 364.9h0M150.8 378.2h0M149.9 377.6h0M158 354.3h0M159.7 351.3h0M156.2 353.3h0M155.9 367.5h0M159 350.1h0M155.5 360.8h0M154.5 373.5h0M158.6 353.1h0M157.6 351.5h0M160.3 354h0M158.2 357.4h0M164.8 343.2h0M154.2 355.5h0M156.5 364.9h0M155.9 363.8h0M162 347.3h0M162.6 336.5h0M147.9 374.5h0M153 361.9h0M157.4 352.8h0M153.6 362.6h0M164.3 339.1h0M163.6 345.2h0M155.1 354.8h0M163.8 339.8h0M156.7 354.1h0M154.2 368.2h0M156 357.8h0M158.8 358.8h0M158.6 344.8h0M152.7 367.9h0M155.3 371.2h0M153 370.9h0M163.1 340.8h0M160.9 345.4h0M156 353.3h0M160 355.2h0M161.9 345.8h0M161.8 347.2h0M164.5 340h0M163.9 334.3h0M164.8 343.2h0M160 356.1h0M162.3 341.9h0M163 349.2h0M162.3 345.3h0M163.7 341.4h0M165.4 343h0M159.5 347.6h0M162.2 349.4h0M163.3 336h0M168.6 341.1h0M160.5 343.2h0M163.3 342.7h0M162.1 341.8h0M159.2 346.6h0M162.9 344.4h0M163.3 344.3h0M164.2 344.5h0M163.6 339.7h0M164.4 344.7h0M161.9 339.8h0M163.5 346.6h0M138.5 388.2h0M138.8 387.4h0M139.9 387.8h0M139.9 387.8h0M139.3 388.5h0M137.4 388.3h0M138.6 388h0M138.1 389.7h0M139.6 386.7h0M140.4 388h0M139.4 386.4h0M139.4 390.7h0M141.6 387h0M140.6 387.8h0"/>
<path stroke="#c8402a" stroke-width="0.75" d="M152.6 369.1h0M155.5 357.9h0M165.3 341.5h0M152.9 365.8h0M160.7 348.6h0M155.1 360.2h0M160.3 346.4h0M153.3 370.3h0M149 372h0M144.4 387.2h0M161.1 360.2h0M159 359.3h0M155.7 356.9h0M153.1 360.7h0M156.6 360.5h0M160.4 344h0M164.6 345.6h0M162 344.6h0M160.5 358.9h0M153.1 362.7h0M167.7 338.4h0M154.3 362.1h0M155.9 368.3h0M155.9 356.9h0M154.8 368.6h0M152.1 376h0M154.6 361.6h0M156.6 345h0M154.6 363.9h0M158.6 351.6h0M152.1 362.5h0M162.5 345.3h0M151.4 362.6h0M155.8 357.1h0M149.7 368.1h0M160 358.1h0M157.1 348.1h0M153.3 366.4h0M154.7 365h0M155.5 357.9h0M150.9 371.8h0M154.4 363.8h0M150.7 369h0M160 343.2h0M151.9 375.7h0M158.6 353.7h0M159.1 344.7h0M157.5 357.5h0M154.2 367h0M150.9 383.9h0M152.4 374.1h0M159 346.5h0M156 361.6h0M152.7 363.3h0M151.6 378.2h0M160 355.9h0M163.2 353.4h0M155.6 353.3h0M158.3 351.6h0M161.1 341.4h0M162 345.9h0M154.9 354.4h0M156.1 356.4h0M156.3 355.6h0M146.6 387.7h0M159 357.3h0M158 362h0M160.6 348.9h0M152.1 364.6h0M156.8 364.5h0M155.3 360.3h0M160.8 352.7h0M158.3 356.7h0M162.9 350.9h0M161.7 352.1h0M157.9 357.1h0M159.9 353.3h0M158.4 353.8h0M159.3 355.7h0M161.8 352.4h0M160.9 352.1h0M152.3 375.7h0M159.7 352.2h0M152.2 366.3h0M157.3 356.9h0M165.2 341.7h0M163.4 348.1h0M160 343h0M167.1 339.8h0M164.9 339.3h0M166 343.5h0M161 348.8h0M163 346h0M164 345.3h0M164.6 343h0M160.2 343.7h0M164.3 345.9h0M163.2 345.7h0M162.5 346.3h0M163.1 346.9h0M160.6 342.9h0M164.8 342.1h0M162.6 349h0M161.8 343h0M160.9 352.4h0M162.2 345.8h0M160.3 347.3h0M160.2 345.1h0M163.6 342.2h0M161.4 345.7h0M165.4 341.5h0M160.3 342.2h0M166.4 342.3h0M164.5 348.4h0M138.2 386.8h0M140.4 387.9h0M138.8 387.5h0M141.1 387.6h0M138.9 387.5h0M139.3 388.9h0M139.8 389.7h0M139.3 386.1h0M139.2 386.3h0M140.9 386.5h0M139.6 387.7h0M138.5 385.9h0M140.1 385.6h0"/>
<path stroke="#d6552a" stroke-width="0.75" d="M157.4 358.4h0M149.7 375.4h0M157.5 351.2h0M162.9 348.2h0M161.2 346.3h0M151.3 365.3h0M167.4 334.3h0M151.9 371.7h0M158.3 363.5h0M152.5 364.9h0M154.8 368.4h0M153.5 372.5h0M159.4 362.2h0M161 358.8h0M149.2 376.3h0M156.1 370.5h0M147.6 382.9h0M165 337.1h0M160.8 355.5h0M157.3 351.2h0M163.7 352h0M158.3 362.1h0M154.7 367h0M157.2 357.1h0M152.6 371.7h0M158.6 349.8h0M158.9 350.9h0M156.9 357.6h0M159.2 355.1h0M155.7 364h0M156.5 356.2h0M147.4 380.8h0M158.8 352.8h0M155 360.4h0M156.6 360.3h0M158.3 365.7h0M155.2 368.6h0M155.8 369.7h0M155.5 363.5h0M149.9 367.1h0M152.3 369.6h0M159 356.9h0M149.5 377h0M155.9 366h0M157.4 357.5h0M153.5 365h0M161 355.2h0M158.3 349.3h0M151.9 366.4h0M147.4 375.8h0M158.4 358.4h0M156.4 353.5h0M161.4 350.9h0M159.9 345.9h0M158 352.7h0M152.6 368.5h0M158.8 361.6h0M158.6 355.6h0M154.3 358.6h0M154.6 356.6h0M161.1 355.9h0M158.9 347.2h0M158.6 352.9h0M153.9 370.1h0M159.3 349.6h0M157.1 367.7h0M158.8 351.1h0M155.1 359.9h0M163.7 334.7h0M154.9 367.7h0M153.8 360.3h0M154.7 370h0M164.2 345.2h0M158.4 344.8h0M161.6 350.2h0M161 349.2h0M164 341.9h0M162 343.1h0M162.6 342.6h0M160.4 347.6h0M164.3 341.9h0M162.6 335.3h0M164.5 345.4h0M161.1 342.4h0M162.9 355.8h0M160.4 344.3h0M164.5 342.5h0M165 342.4h0M164.1 345h0M167.5 336.9h0M160.2 340.9h0M159.6 346.9h0M162 345.5h0M160.8 343.7h0M161.9 350.9h0M163.7 346.7h0M163 347.5h0M163.9 346h0M162 345.1h0M162.9 343.5h0M159.8 346.8h0M162.5 347.9h0M165.1 342.5h0M164.9 343.4h0M160.2 343.1h0M137.6 387.4h0M138.8 386.5h0M140.7 387.1h0M140 388.2h0M141.5 385.4h0M136.1 384.8h0M139 384.9h0M139 388.6h0M137.2 385.8h0M140.6 389.4h0M139.6 386.2h0M139.5 387.1h0M139.9 387.2h0M141 384.8h0M141.5 388.9h0M139.8 390.1h0M140 388.1h0M137.9 386h0M139.7 385.4h0M138.6 387.7h0M139 384.1h0M138.8 385.2h0"/>
<path stroke="#b2182b" stroke-width="0.75" d="M150.1 377.2h0M157.3 344.8h0M159.4 348.2h0M157.3 358.6h0M157 357.7h0M151.7 372h0M158.6 357.7h0M153.8 367.5h0M158.2 354.5h0M156.9 358.1h0M158.3 357.2h0M155.9 359.7h0M156.5 358.6h0M151.8 372.4h0M147.6 384.5h0M156.7 368.2h0M161.6 347.1h0M158.7 364.3h0M160.7 343.2h0M152.8 373.8h0M163.9 346.4h0M158.8 352.3h0M157.9 356.7h0M160.4 357.6h0M148.8 378.7h0M148.3 388.7h0M160.4 340.1h0M158.2 349.3h0M149.2 388.3h0M157.9 360.9h0M153.6 368h0M164.3 335.7h0M153.9 369.6h0M157.3 361h0M151.2 376.3h0M161.5 352.9h0M149.2 376.6h0M151.6 374.3h0M157.5 365h0M156.3 360.5h0M155.2 366.3h0M159.7 355.5h0M155.8 369h0M157.7 349.5h0M149 361.1h0M152.5 367h0M161.5 350.8h0M160.2 358.4h0M153.7 364.7h0M156.9 359.8h0M161.9 352.7h0M155.9 362.6h0M156.2 365.4h0M143.4 397.9h0M163 342.1h0M160 346.2h0M162.1 352.7h0M158.4 367.8h0M156.5 366.5h0M152 376.7h0M156.4 366.6h0M153.5 376.4h0M156.3 349.2h0M150.3 373.1h0M149.8 377.7h0M158.4 359.4h0M158.2 355.9h0M154.5 359h0M152.7 375.9h0M153.8 367.4h0M154.6 361.9h0M157.4 360.6h0M158.4 352h0M164.2 344.2h0M165.3 339.2h0M161.6 346h0M161.9 346.5h0M164.4 345.2h0M160.6 342.4h0M169.6 339.1h0M161.7 344.8h0M162.2 340.9h0M163.9 347.5h0M164.9 344.6h0M163.9 348.7h0M162.9 341.9h0M161 348.3h0M161.9 342h0M158.5 352.8h0M161.9 339.4h0M160.8 345.7h0M161.9 345.7h0M163.2 343.2h0M161.9 347.5h0M163.9 342.3h0M160.5 342.6h0M163.7 342.4h0M163.1 343.3h0M162.6 347.2h0M160.3 344.6h0M163.4 342h0M161.7 346.5h0M164.6 342.3h0M137.8 386.4h0M138.8 386.8h0M139.9 387.2h0M138.9 386.3h0M139.1 385.8h0M138.8 384.8h0M137.8 388.2h0M139.4 389.3h0M139.4 388.7h0M141.7 390.4h0M138.4 390h0M139.9 388h0M137 386.6h0M140.8 386.6h0M137.7 383.6h0M141.4 388.8h0M139.2 387.4h0M138.7 391.8h0"/>
<path stroke="#b22222" stroke-width="0.75" d="M155 361.7h0M162 341.7h0M146.3 380.6h0M160.6 348.8h0M161.1 354.5h0M154.5 360.4h0M152.3 373.1h0M155.2 368.6h0M159.4 353.9h0M161.7 337.9h0M158.8 350.5h0M158.8 342.9h0M159.8 348.2h0M153.8 368.4h0M158.6 339.9h0M157.5 356.8h0M157.4 357.6h0M163 343.5h0M157.1 350.7h0M152.4 368.7h0M153.5 371.5h0M146.8 373.7h0M158.7 344.6h0M159.3 355.2h0M158.2 364.4h0M149.5 364.1h0M153.1 365.4h0M154.7 363.2h0M159 347.2h0M158.7 355.1h0M159.8 350.2h0M158 348.4h0M150.1 383.2h0M152.8 371.2h0M156.1 353.6h0M153.1 371h0M151.2 363.2h0M164.3 342.6h0M151.7 368.1h0M162.9 341h0M157.9 354.9h0M155.2 362.1h0M154.6 369.4h0M159.2 355.9h0M161.2 355.5h0M167.1 343.1h0M149.1 376.6h0M155 378.1h0M157.5 358.6h0M153.4 362.7h0M161.8 344h0M163.2 344.7h0M157.7 349.8h0M155.6 360.5h0M159 350.1h0M160.2 352.3h0M158.6 351.7h0M165.6 341.2h0M159.1 354.2h0M153.1 369.4h0M157.3 356h0M159.6 357.3h0M157 357.3h0M151.1 383.2h0M159.2 347.7h0M150.5 375.5h0M156.3 360.9h0M156.8 350h0M161.1 349.5h0M160.1 347.3h0M156.3 358.9h0M159.9 353.5h0M155.4 353h0M160.5 346.8h0M163.6 339.2h0M152.6 361.1h0M152.3 363.2h0M154.6 368.6h0M153.9 365.5h0M157.9 357h0M155.6 378.1h0M159.2 354.3h0M151.1 370.9h0M158.8 349.6h0M163 348.5h0M156 363h0M153.7 358.6h0M151.7 372.2h0M160.9 345.7h0M160.7 347.6h0M164.9 341.5h0M160.5 353.1h0M159.7 339.6h0M163 350.3h0M162.7 344.6h0M163.7 345.9h0M163.7 346.1h0M159.4 350.3h0M163.6 345.3h0M163.4 351h0M166.6 340.3h0M159.7 348.5h0M161.8 344.5h0M164.5 345.2h0M164.5 342.1h0M160.1 351.4h0M163.8 339.7h0M161.8 349h0M166.2 344.4h0M161.6 341.1h0M160.4 347.3h0M161.7 349h0M139.5 386.2h0M138.6 386.8h0M140.8 386.4h0M139 386.9h0M141 388.8h0M138.7 386h0M139.1 387.5h0M137.8 385.6h0M139.7 389h0M141.1 389h0M142.2 387.4h0M139.7 389.3h0M141 388.4h0M139 387.7h0"/>
<path stroke="#a81e22" stroke-width="0.75" d="M157.5 357.7h0M163.2 343.6h0M159.3 356.9h0M154.4 366h0M163.8 343.1h0M153.4 367.5h0M158.2 346.3h0M158.4 349.5h0M156.4 360.1h0M156.4 364h0M153.8 364.6h0M160.6 341.4h0M163.5 339.5h0M156.2 365.2h0M160.1 349.3h0M158.8 357.1h0M158.6 357.8h0M159.1 347.3h0M158.5 349.1h0M156.7 360h0M154.2 372.4h0M149.7 368.3h0M150.5 379.4h0M161.7 354.5h0M150.8 375.1h0M152.2 362.6h0M159.6 364.6h0M155.3 356.8h0M155.3 362.5h0M163.7 348.9h0M154 359.9h0M156.4 356.7h0M154 362.4h0M153.2 372.6h0M151.6 368.3h0M160.9 346.9h0M163.3 350.8h0M151.3 369.9h0M153.4 374.3h0M157 360.5h0M151 375.2h0M156.1 360.9h0M161.8 351.8h0M149.1 373.2h0M161.9 342.4h0M151.4 369.6h0M160.7 348.9h0M158.2 359.6h0M155.4 368.1h0M161.2 353.4h0M155.3 361.8h0M156.5 360.8h0M148.8 373.4h0M149.6 372.8h0M157.5 353.7h0M152.7 369.3h0M155.7 359.6h0M149.9 378.1h0M155.6 353.5h0M157.4 350.3h0M156.8 361h0M154.7 362h0M158.3 351h0M152.6 362.1h0M152.4 368.9h0M160.2 354.8h0M158.2 349.2h0M154.8 362.2h0M158 355.1h0M151.9 371.6h0M153 364.4h0M154.7 365h0M154.7 367.3h0M154.4 365.8h0M162 349.7h0M157.2 365.3h0M157.7 368.3h0M157.1 357.2h0M160.5 353.6h0M160.1 339.6h0M152.8 369h0M155.3 367.3h0M160.6 354.7h0M157.1 358.7h0M159 351.9h0M162.8 343.1h0M159.3 359.8h0M159 355.7h0M148.1 377.2h0M159.5 352.6h0M161.5 352.2h0M160.9 346.5h0M152.4 365.5h0M158.4 366.7h0M158 357.4h0M153.3 369.8h0M150.7 375.4h0M160.5 361.8h0M159.6 356.6h0M152.8 371.3h0M164.5 341.5h0M160.3 347.3h0M161.3 350h0M163.6 342.7h0M160.8 351.8h0M163 346.1h0M161.4 335h0M165.9 344h0M161.6 345.2h0M164.6 345.2h0M161.6 344.2h0M162.4 351h0M163.4 342.7h0M160.7 337.4h0M163 341h0M160.5 353.1h0M161.7 344.3h0M164 341.5h0M164.2 342.6h0M164.1 345.8h0M164.2 343.5h0M159.7 348.6h0M162.9 348h0M163.3 343.3h0M162.5 347.9h0M162.3 347.2h0M161.1 347.8h0M162.3 340.4h0M163.4 347.6h0M161.9 342.6h0M162.6 343.7h0M161.1 344.5h0M159.2 348.8h0M163.2 341.7h0M140.2 389.1h0M138.1 387h0M137.4 386.2h0M140 384.2h0M140 389.3h0M142.3 388.5h0M141.5 386.8h0M138.9 388.9h0M140.9 386.5h0M138.5 388.9h0M138.7 389.2h0M140.6 389.6h0M138.9 386.6h0M138.2 387.4h0M140.9 388.4h0"/>
<path stroke="#b9252a" stroke-width="0.75" d="M161.8 363.9h0M158.8 345.5h0M156.7 355h0M156 364h0M154.1 364.3h0M154.5 364h0M154.2 359.8h0M153.7 375.6h0M153.4 363h0M160.4 349.8h0M159.5 350.7h0M156.3 366.8h0M157.8 361.6h0M159.5 362.1h0M154.3 372.3h0M153.6 369h0M148.1 373.5h0M154.2 363.1h0M158.7 347.9h0M161.8 344.1h0M158.1 353.2h0M158.3 358.8h0M160.2 354.1h0M156.7 359.7h0M150.8 376.8h0M149.7 374.8h0M150 364.3h0M155 357.8h0M158.7 357.3h0M154.4 359.6h0M151.1 374.9h0M156.6 364.3h0M160.6 351.9h0M159.5 343.4h0M147.9 375.7h0M157.7 358.6h0M153.4 368.7h0M152.5 365.8h0M160 357.1h0M155.4 352.3h0M148.4 363.6h0M151.6 374.3h0M160.1 346.4h0M155.6 367.1h0M166.5 331.9h0M162.1 350.2h0M163.1 353.2h0M152 366.9h0M169.5 342.5h0M155.7 365.1h0M156.2 359.2h0M150.6 376.4h0M155.4 364.6h0M167 338.3h0M154.8 362.8h0M157.8 362.7h0M151.3 364.9h0M161 356.3h0M148.3 377.1h0M157.1 352.8h0M158.9 356.1h0M154.6 361.9h0M154.1 362.4h0M151.8 364h0M158.5 354.5h0M161.4 342.7h0M152.2 366.8h0M155.1 369.2h0M152.6 367.8h0M154.3 368h0M164 347.5h0M157 354.7h0M159.9 354.3h0M157.1 362.6h0M159.9 351h0M158.8 354.8h0M151.7 371.4h0M159.4 360h0M150.4 367.7h0M151.3 376.7h0M163.6 350.6h0M160.4 349.6h0M163.4 348.9h0M161.3 340h0M162.1 341.2h0M164.6 343.1h0M162.5 341h0M159.9 347.2h0M162.9 341.6h0M163 343.9h0M161.1 346.1h0M160.6 342.2h0M163.3 339h0M163 339h0M159.3 342.5h0M163.6 348.6h0M162.9 343.9h0M160.8 344.3h0M164 344.4h0M139.3 390.1h0M140.6 386.9h0M139.8 387.6h0M137.6 386.8h0M139.8 385.9h0M136.6 384.6h0M139 387h0M141.6 387.3h0M139.4 385.5h0M139.8 387.9h0M141.3 389.5h0M138.6 389h0M141.4 387.1h0M139.5 389.8h0M139.1 388.5h0M137.1 386.8h0M138.6 387.3h0M139.3 387.2h0"/>
<path stroke="#a61c1c" stroke-width="0.75" d="M150.5 367h0M155.7 362.3h0M159.7 350.7h0M161.9 346.5h0M158.6 348.7h0M157.7 357.7h0M161.5 341.9h0M150.4 372.4h0M158.6 360.4h0M151.7 366.6h0M156.5 357.6h0M158.5 359.5h0M158.6 345.9h0M154.8 371.1h0M153.7 361.8h0M160.3 346.8h0M153.4 367.3h0M160 359.4h0M157.2 354.8h0M160.4 346.2h0M154.7 363.8h0M149.6 381h0M158.1 356.8h0M156.8 366.3h0M156.5 374.4h0M157.4 358.9h0M154.1 364.2h0M156.6 363.3h0M152.1 365.8h0M156.2 358h0M163 345.5h0M151 370.1h0M153.6 372.2h0M160.3 352.2h0M163.4 352.4h0M152.1 377h0M154.3 367.8h0M147 388.2h0M156 360.6h0M159.6 343.7h0M152.9 365.4h0M150.7 379h0M147.9 372.8h0M158.5 348.1h0M157.6 353.1h0M166.4 333h0M155.8 366.6h0M158.2 351.4h0M156.4 364.3h0M156.5 354.4h0M150.4 373.2h0M157.9 353.8h0M155.1 365.1h0M161.4 349.6h0M158.1 355.5h0M154.2 362.2h0M156 361.4h0M154.7 363.4h0M160 353.9h0M155.1 360.3h0M156.1 364.4h0M158.5 358.1h0M151.5 367.1h0M161.8 346.3h0M158.3 358.4h0M149.5 382.4h0M161.4 350.5h0M163.6 345h0M164.2 345.1h0M165.2 346.3h0M162.3 344.4h0M165.3 343.5h0M160.2 345.4h0M161.1 345.1h0M161.5 345.2h0M163.1 342h0M166.7 341.2h0M162.7 348.7h0M159.4 341.3h0M164.8 337.6h0M163.4 345.8h0M164.3 344.9h0M160.1 347.5h0M163 346.2h0M162.8 344.2h0M161.1 345.1h0M162.7 340.2h0M158.9 346.6h0M165.7 338.3h0M163 337.9h0M139.3 390.6h0M136.7 384.8h0M138.6 388.7h0M139.6 386.2h0M140.4 390h0M139.1 385.9h0M137.9 386.6h0M140.2 385.2h0M140.3 389.4h0M139.9 385.7h0M138.9 389.5h0M141.7 388h0M139.1 385.7h0M138.4 384.8h0M139 388.3h0M138.1 390h0M137.1 384.7h0M139.2 387h0M137.7 388.5h0M140.1 386.7h0M139.3 390.8h0M140.3 386.4h0"/>
<path stroke="#d6c040" stroke-width="0.7" d="M135.4 387.2h0M136.4 387.4h0M134.1 384.4h0M134 384.5h0M135.9 384h0M137.8 382.9h0M134.9 387.2h0M134 387h0"/>
<path stroke="#70b060" stroke-width="0.7" d="M136.7 383.7h0M138.3 382.6h0M137 386.2h0M135.8 384.7h0M138.8 386.4h0M139.7 386.3h0M135.3 384.9h0M136.8 381.4h0M138.1 386h0M138.1 382.2h0M137.1 381.8h0M135.2 385.8h0"/>
<path stroke="#e8a030" stroke-width="0.7" d="M136 383.9h0M136.3 386.4h0M138 385h0M138.5 383.7h0M136.6 383.8h0M136.9 387.6h0M136.8 386.4h0"/>
<path stroke="#e0662a" stroke-width="0.7" d="M136.1 383.6h0M136.9 383h0M134.7 384.3h0M137.9 386.1h0M136.5 386.5h0M138.4 383.2h0M137.5 385.9h0M135.3 383.9h0M137.7 384.4h0M136.2 386.4h0M135.6 385.1h0M136.8 385.5h0M136.8 384.6h0"/>
<path stroke="#c9c9c9" stroke-width="0.5" d="M150.8 353.5h0M153.8 373.9h0M154.2 358.4h0M147.5 364.3h0M155.9 346.8h0M145.5 370h0M171 336.7h0M146.2 371.8h0M149.6 361.2h0M141.1 357h0M150.3 366.8h0M148 359.5h0M153 372.7h0M154.9 369.2h0M138.1 379.6h0"/>
<path stroke="#8fb0d0" stroke-width="0.5" d="M149.1 375h0M150.3 364.9h0M156.5 366.9h0M141 375.2h0M130.1 380.4h0M145.1 373.4h0M136.3 385.5h0M155.8 356.6h0M145 369.6h0"/>
<path stroke="#e0662a" stroke-width="0.5" d="M138.6 374h0M147 369.8h0M155.8 356.3h0M147.8 365.8h0M143.7 367.6h0M155.2 366.8h0M157.7 363.8h0M151.8 371.3h0M144.6 370.8h0M154.7 368.6h0M158.6 366.7h0M154.1 368.7h0M140.4 369.1h0M148.6 364.7h0M136.3 352.6h0M139.5 376.6h0"/>
</g>
<rect x="50" y="414.9" width="130.4" height="85.6" fill="#ebebeb"/>
<line x1="66.1" y1="414.9" x2="66.1" y2="500.5" stroke="#fff" stroke-width="0.45" opacity="0.85"/>
<line x1="85.9" y1="414.9" x2="85.9" y2="500.5" stroke="#fff" stroke-width="0.45" opacity="0.85"/>
<line x1="105.7" y1="414.9" x2="105.7" y2="500.5" stroke="#fff" stroke-width="0.45" opacity="0.85"/>
<line x1="125.5" y1="414.9" x2="125.5" y2="500.5" stroke="#fff" stroke-width="0.45" opacity="0.85"/>
<line x1="145.3" y1="414.9" x2="145.3" y2="500.5" stroke="#fff" stroke-width="0.45" opacity="0.85"/>
<line x1="165.1" y1="414.9" x2="165.1" y2="500.5" stroke="#fff" stroke-width="0.45" opacity="0.85"/>
<line x1="56.2" y1="414.9" x2="56.2" y2="500.5" stroke="#fff" stroke-width="0.85"/>
<line x1="76" y1="414.9" x2="76" y2="500.5" stroke="#fff" stroke-width="0.85"/>
<line x1="95.8" y1="414.9" x2="95.8" y2="500.5" stroke="#fff" stroke-width="0.85"/>
<line x1="115.6" y1="414.9" x2="115.6" y2="500.5" stroke="#fff" stroke-width="0.85"/>
<line x1="135.4" y1="414.9" x2="135.4" y2="500.5" stroke="#fff" stroke-width="0.85"/>
<line x1="155.2" y1="414.9" x2="155.2" y2="500.5" stroke="#fff" stroke-width="0.85"/>
<line x1="175" y1="414.9" x2="175" y2="500.5" stroke="#fff" stroke-width="0.85"/>
<line x1="50" y1="422.1" x2="180.4" y2="422.1" stroke="#fff" stroke-width="0.85"/>
<line x1="50" y1="434" x2="180.4" y2="434" stroke="#fff" stroke-width="0.85"/>
<line x1="50" y1="445.9" x2="180.4" y2="445.9" stroke="#fff" stroke-width="0.85"/>
<line x1="50" y1="457.8" x2="180.4" y2="457.8" stroke="#fff" stroke-width="0.85"/>
<line x1="50" y1="469.8" x2="180.4" y2="469.8" stroke="#fff" stroke-width="0.85"/>
<line x1="50" y1="481.7" x2="180.4" y2="481.7" stroke="#fff" stroke-width="0.85"/>
<line x1="50" y1="493.6" x2="180.4" y2="493.6" stroke="#fff" stroke-width="0.85"/>
<text x="47.8" y="424.3" font-size="6.6" text-anchor="end" fill="#333">chrY</text>
<line x1="48.2" y1="422.1" x2="50" y2="422.1" stroke="#111" stroke-width="1"/>
<text x="47.8" y="436.2" font-size="6.6" text-anchor="end" fill="#333">chrX</text>
<line x1="48.2" y1="434" x2="50" y2="434" stroke="#111" stroke-width="1"/>
<text x="47.8" y="448.1" font-size="6.6" text-anchor="end" fill="#333">chr6</text>
<line x1="48.2" y1="445.9" x2="50" y2="445.9" stroke="#111" stroke-width="1"/>
<text x="47.8" y="460" font-size="6.6" text-anchor="end" fill="#333">chr5</text>
<line x1="48.2" y1="457.8" x2="50" y2="457.8" stroke="#111" stroke-width="1"/>
<text x="47.8" y="472" font-size="6.6" text-anchor="end" fill="#333">chr4</text>
<line x1="48.2" y1="469.8" x2="50" y2="469.8" stroke="#111" stroke-width="1"/>
<text x="47.8" y="483.9" font-size="6.6" text-anchor="end" fill="#333">chr3</text>
<line x1="48.2" y1="481.7" x2="50" y2="481.7" stroke="#111" stroke-width="1"/>
<text x="47.8" y="495.8" font-size="6.6" text-anchor="end" fill="#333">chr2</text>
<line x1="48.2" y1="493.6" x2="50" y2="493.6" stroke="#111" stroke-width="1"/>
<path d="M121.54 445.8L131.44 445.5L137.38 444.4L141.34 443L144.51 442.9L149.26 444L155.2 444.4L159.16 443.7L163.91 442.8L167.08 443.2L171.04 444.9L175 445.75L175 446.05L171.04 446.9L167.08 448.6L163.91 449L159.16 448.1L155.2 447.4L149.26 447.8L144.51 448.9L141.34 448.8L137.38 447.4L131.44 446.3L121.54 446z" fill="#f1b03c"/>
<path d="M111.64 457.75L123.52 457.4L135.4 456.8L147.28 456L157.18 455.4L163.12 454.2L166.29 454L169.06 455.6L172.23 456.9L175 457.65L175 457.95L172.23 458.7L169.06 460L166.29 461.6L163.12 461.4L157.18 460.2L147.28 459.6L135.4 458.8L123.52 458.2L111.64 457.85z" fill="#9bcb3c"/>
<path d="M131.44 469.75L139.36 469.2L147.28 468.4L157.18 468L163.12 466.9L167.08 466.9L170.25 468.4L173.42 469.5L173.42 470.1L170.25 471.2L167.08 472.7L163.12 472.7L157.18 471.6L147.28 471.2L139.36 470.4L131.44 469.85z" fill="#4fb89c"/>
<path d="M115.6 481.65L123.52 481.2L135.4 480.4L145.3 479.5L149.26 479.5L155.2 480.1L161.14 479.1L164.7 477.9L167.87 478.5L171.04 480.4L175 481.55L175 481.85L171.04 483L167.87 484.9L164.7 485.5L161.14 484.3L155.2 483.3L149.26 483.9L145.3 483.9L135.4 483L123.52 482.2L115.6 481.75z" fill="#4a7ecb"/>
<path d="M103.72 493.55L131.44 493.35L137.38 492.4L141.34 491L147.28 490.1L155.2 489.7L163.12 489.4L168.27 489.7L171.04 491.6L175 493.2L175 494L171.04 495.6L168.27 497.5L163.12 497.8L155.2 497.5L147.28 497.1L141.34 496.2L137.38 494.8L131.44 493.85L103.72 493.65z" fill="#2a1244"/>
<text x="54" y="510.3" font-size="6.7" textLength="117" lengthAdjust="spacingAndGlyphs">Identity to consensus of monomers</text>
<text x="243.9" y="326.2" font-size="15.2" textLength="62.6" lengthAdjust="spacingAndGlyphs">BdoSat2</text>
<rect x="212.8" y="331.8" width="120.2" height="72.2" fill="#ebebeb"/>
<line x1="227.18" y1="331.8" x2="227.18" y2="404" stroke="#fff" stroke-width="0.45" opacity="0.85"/>
<line x1="245.53" y1="331.8" x2="245.53" y2="404" stroke="#fff" stroke-width="0.45" opacity="0.85"/>
<line x1="263.88" y1="331.8" x2="263.88" y2="404" stroke="#fff" stroke-width="0.45" opacity="0.85"/>
<line x1="282.23" y1="331.8" x2="282.23" y2="404" stroke="#fff" stroke-width="0.45" opacity="0.85"/>
<line x1="300.57" y1="331.8" x2="300.57" y2="404" stroke="#fff" stroke-width="0.45" opacity="0.85"/>
<line x1="318.93" y1="331.8" x2="318.93" y2="404" stroke="#fff" stroke-width="0.45" opacity="0.85"/>
<line x1="212.8" y1="342.5" x2="333" y2="342.5" stroke="#fff" stroke-width="0.45" opacity="0.85"/>
<line x1="212.8" y1="355.7" x2="333" y2="355.7" stroke="#fff" stroke-width="0.45" opacity="0.85"/>
<line x1="212.8" y1="368.7" x2="333" y2="368.7" stroke="#fff" stroke-width="0.45" opacity="0.85"/>
<line x1="212.8" y1="381.9" x2="333" y2="381.9" stroke="#fff" stroke-width="0.45" opacity="0.85"/>
<line x1="212.8" y1="394.9" x2="333" y2="394.9" stroke="#fff" stroke-width="0.45" opacity="0.85"/>
<line x1="218" y1="331.8" x2="218" y2="404" stroke="#fff" stroke-width="0.85"/>
<line x1="236.35" y1="331.8" x2="236.35" y2="404" stroke="#fff" stroke-width="0.85"/>
<line x1="254.7" y1="331.8" x2="254.7" y2="404" stroke="#fff" stroke-width="0.85"/>
<line x1="273.05" y1="331.8" x2="273.05" y2="404" stroke="#fff" stroke-width="0.85"/>
<line x1="291.4" y1="331.8" x2="291.4" y2="404" stroke="#fff" stroke-width="0.85"/>
<line x1="309.75" y1="331.8" x2="309.75" y2="404" stroke="#fff" stroke-width="0.85"/>
<line x1="328.1" y1="331.8" x2="328.1" y2="404" stroke="#fff" stroke-width="0.85"/>
<line x1="212.8" y1="335.9" x2="333" y2="335.9" stroke="#fff" stroke-width="0.85"/>
<line x1="212.8" y1="349.1" x2="333" y2="349.1" stroke="#fff" stroke-width="0.85"/>
<line x1="212.8" y1="362.1" x2="333" y2="362.1" stroke="#fff" stroke-width="0.85"/>
<line x1="212.8" y1="375.3" x2="333" y2="375.3" stroke="#fff" stroke-width="0.85"/>
<line x1="212.8" y1="388.3" x2="333" y2="388.3" stroke="#fff" stroke-width="0.85"/>
<line x1="212.8" y1="401.5" x2="333" y2="401.5" stroke="#fff" stroke-width="0.85"/>
<text x="210.6" y="337.99" font-size="5.8" text-anchor="end" fill="#444">0.5</text>
<line x1="211" y1="335.9" x2="212.8" y2="335.9" stroke="#111" stroke-width="1"/>
<text x="210.6" y="351.19" font-size="5.8" text-anchor="end" fill="#444">0.4</text>
<line x1="211" y1="349.1" x2="212.8" y2="349.1" stroke="#111" stroke-width="1"/>
<text x="210.6" y="364.19" font-size="5.8" text-anchor="end" fill="#444">0.3</text>
<line x1="211" y1="362.1" x2="212.8" y2="362.1" stroke="#111" stroke-width="1"/>
<text x="210.6" y="377.39" font-size="5.8" text-anchor="end" fill="#444">0.2</text>
<line x1="211" y1="375.3" x2="212.8" y2="375.3" stroke="#111" stroke-width="1"/>
<text x="210.6" y="390.39" font-size="5.8" text-anchor="end" fill="#444">0.1</text>
<line x1="211" y1="388.3" x2="212.8" y2="388.3" stroke="#111" stroke-width="1"/>
<text x="210.6" y="403.59" font-size="5.8" text-anchor="end" fill="#444">0.0</text>
<line x1="211" y1="401.5" x2="212.8" y2="401.5" stroke="#111" stroke-width="1"/>
<text x="218" y="411.4" font-size="5.6" text-anchor="middle" fill="#444">70</text>
<line x1="218" y1="404" x2="218" y2="405.9" stroke="#111" stroke-width="1.1"/>
<line x1="218" y1="412.7" x2="218" y2="414.9" stroke="#111" stroke-width="1.1"/>
<text x="236.35" y="411.4" font-size="5.6" text-anchor="middle" fill="#444">75</text>
<line x1="236.35" y1="404" x2="236.35" y2="405.9" stroke="#111" stroke-width="1.1"/>
<line x1="236.35" y1="412.7" x2="236.35" y2="414.9" stroke="#111" stroke-width="1.1"/>
<text x="254.7" y="411.4" font-size="5.6" text-anchor="middle" fill="#444">80</text>
<line x1="254.7" y1="404" x2="254.7" y2="405.9" stroke="#111" stroke-width="1.1"/>
<line x1="254.7" y1="412.7" x2="254.7" y2="414.9" stroke="#111" stroke-width="1.1"/>
<text x="273.05" y="411.4" font-size="5.6" text-anchor="middle" fill="#444">85</text>
<line x1="273.05" y1="404" x2="273.05" y2="405.9" stroke="#111" stroke-width="1.1"/>
<line x1="273.05" y1="412.7" x2="273.05" y2="414.9" stroke="#111" stroke-width="1.1"/>
<text x="291.4" y="411.4" font-size="5.6" text-anchor="middle" fill="#444">90</text>
<line x1="291.4" y1="404" x2="291.4" y2="405.9" stroke="#111" stroke-width="1.1"/>
<line x1="291.4" y1="412.7" x2="291.4" y2="414.9" stroke="#111" stroke-width="1.1"/>
<text x="309.75" y="411.4" font-size="5.6" text-anchor="middle" fill="#444">95</text>
<line x1="309.75" y1="404" x2="309.75" y2="405.9" stroke="#111" stroke-width="1.1"/>
<line x1="309.75" y1="412.7" x2="309.75" y2="414.9" stroke="#111" stroke-width="1.1"/>
<text x="328.1" y="411.4" font-size="5.6" text-anchor="middle" fill="#444">100</text>
<line x1="328.1" y1="404" x2="328.1" y2="405.9" stroke="#111" stroke-width="1.1"/>
<line x1="328.1" y1="412.7" x2="328.1" y2="414.9" stroke="#111" stroke-width="1.1"/>
<g stroke-linecap="square" opacity="0.95">
<path stroke="#d9531e" stroke-width="0.65" d="M310.6 350.8h0M305.2 368.2h0M300.3 372.4h0M303.6 365.1h0M306 362h0M308.9 359.2h0M304.9 357.2h0M301.5 373.7h0M298.6 374.4h0M305.2 361.2h0M303.8 360.5h0M306.8 364.3h0M306.7 348.8h0M308.4 357.2h0M302.7 359.3h0M304.3 370.9h0M304.2 356.3h0M306.8 360.1h0M306.9 363.4h0M306.4 363.3h0M306.9 366.4h0M308 361.5h0M306.4 364.5h0M304.1 357.5h0M306.8 354.3h0M303.2 370.8h0M302.7 360.8h0M308.5 364.4h0M305.1 365.6h0M303.4 366.8h0M304.1 363.8h0M302.8 377.7h0M304.3 361.1h0M305.4 367.6h0M305 368.5h0M306.6 354.1h0M300.4 378.4h0M307.8 360.8h0M308.1 370.2h0M304.4 361.8h0M304.1 365.4h0M302.1 373.7h0M307.9 357.6h0M304.3 369.9h0M303.8 367.3h0M310.7 361.7h0M304.4 360.4h0M307.6 365.8h0M305.8 368.8h0M306.1 347.3h0M308.5 353.8h0M306.8 361.5h0M306.4 373h0M308.8 354.5h0M308.2 363.6h0M305 362.2h0M306.1 356.8h0M303.3 371.3h0M304.6 362.1h0M301.5 373.4h0M306 367.6h0M269.4 386.6h0M273.3 385.7h0M273.1 385.7h0M274.8 384h0M273.3 386.9h0M272.4 387h0M275 384.6h0M270.8 386.5h0M275 385.7h0M269.2 387h0"/>
<path stroke="#c0392b" stroke-width="0.65" d="M307 364h0M301 377.1h0M309.1 353.2h0M304.4 367.7h0M309.2 358.7h0M303.2 359.8h0M304.4 361.4h0M305.3 366.6h0M302.6 375.2h0M303.7 381.3h0M305.8 355.3h0M306.7 371.6h0M305.1 372.6h0M306.9 356.1h0M305.7 366.2h0M303.6 371.1h0M300.4 374.2h0M303.8 369.6h0M301.6 374.7h0M308.4 355h0M300.1 372.2h0M300.9 370.7h0M305.8 368.2h0M306.9 360.8h0M306.2 369.7h0M302.3 350h0M303.3 361.6h0M301.1 359.8h0M304.1 367.2h0M303.8 364.6h0M308.4 362h0M305.2 365.8h0M303.4 361.3h0M303.7 368.6h0M301.6 374.9h0M310.7 359.5h0M306.8 368.1h0M307.7 355.7h0M307.3 367.6h0M302.9 371.7h0M305.6 353.5h0M305.8 369h0M304.2 361.4h0M306.9 357.7h0M307.5 343h0M304 361.5h0M309.2 367.6h0M305.4 366.9h0M309.1 352.5h0M307.1 350.2h0M302 371.1h0M300.4 371.7h0M303.3 365.8h0M301.4 379h0M303.8 368.8h0M305.9 358.8h0M302.2 361.4h0M307.4 359.9h0M305.5 371.8h0M306.1 363.5h0M302.4 369.7h0M310.1 366.6h0M305.3 351.4h0M305.2 359.1h0M301 368.6h0M306.7 368.9h0M271.4 385.3h0M273.3 385.5h0M272.1 386.7h0M271.7 386.4h0M272.7 385.2h0M270.6 388.5h0M270.8 386.6h0"/>
<path stroke="#d6452a" stroke-width="0.65" d="M304.9 355.6h0M304.2 361.9h0M304.6 371.8h0M302.7 367.5h0M309.2 352.4h0M304.6 361.9h0M300.8 375.8h0M304.7 359.9h0M306.1 357.9h0M305 354.3h0M303.1 370.2h0M306.8 352.9h0M307.8 353.5h0M307.1 355.2h0M303.5 362h0M304 367.3h0M306.7 347.7h0M304.9 362.3h0M306 360h0M306 359.8h0M306.9 358.6h0M308 354.6h0M309.4 350.1h0M306.5 357.3h0M306.3 362.4h0M299.6 385.6h0M305 369.1h0M299.8 366.7h0M306.7 356.9h0M305 371.5h0M307.5 366.9h0M305.7 363.3h0M305.6 361.1h0M302.4 368h0M304.9 371h0M306.7 363h0M305.8 360.7h0M305.3 372.3h0M272.9 386.2h0M275 383.9h0M275.7 382.5h0M274.2 385.8h0M270.2 386.5h0M274.2 381.8h0M274 384.8h0M277.8 378.8h0M272.5 387.1h0M276.3 382.7h0M269.8 388.2h0"/>
<path stroke="#f0a030" stroke-width="0.65" d="M304 364.3h0M301.7 380.5h0M307.2 372.1h0M305 372.5h0M305.2 360.5h0M308.2 359.8h0M303.5 378.3h0M307.6 352.6h0M309 372.2h0M302.4 375.4h0M302.6 368.1h0M305.1 373.9h0M303.7 365.7h0M307 369.8h0M305.6 374.1h0M309.3 350.7h0M303.8 360.3h0M306.6 356.1h0M304.1 362.9h0M308.7 354.6h0M307.1 365.3h0M304.9 362.8h0M304.2 359.1h0M302.4 368h0M302.7 367.6h0M303.4 351.1h0M303.7 367.2h0M308.9 354.7h0M305.1 355.4h0M304.2 365.4h0M303.6 359h0M304.3 370.2h0M306.2 366.7h0M303.8 366.1h0M306 365h0M305.4 369.1h0M304.2 369.3h0M305.3 364.2h0M306.6 361.2h0M305.5 363.9h0M304.6 347.9h0M308.1 361.1h0M307.1 362.2h0M307.4 361.1h0M305.9 366.2h0M306 351.8h0M302.8 362.9h0M274.9 383.2h0M270.2 387.4h0M272.8 384.6h0M271.5 385h0M270.1 390.2h0M277.5 383.7h0"/>
<path stroke="#c43c22" stroke-width="0.65" d="M302.5 360.3h0M305.8 366.2h0M296.8 377h0M303 375.6h0M303.1 381.7h0M303.1 355.4h0M305.1 370.5h0M304.9 358.2h0M305.7 358.5h0M306.5 363.4h0M307.5 364.2h0M304.5 358.7h0M302.3 379.6h0M304 366.2h0M300.8 369.4h0M308 356.8h0M302.7 363.7h0M306.4 355.3h0M301.9 361.3h0M305.7 368.5h0M302.2 364.1h0M302.4 373.5h0M305.2 365.9h0M305.6 360.9h0M306.9 349.1h0M301.5 383.5h0M303.8 364.3h0M301.9 371.8h0M305.1 365.6h0M305 360.3h0M302.8 360.7h0M309 354.2h0M304.4 373h0M302.1 373.6h0M308.7 350.7h0M304.5 361.4h0M301.4 365.6h0M307.7 362.1h0M301.4 376.1h0M305.6 363.8h0M307.5 351.7h0M308.2 353.4h0M304.4 370.8h0M302.4 365.8h0M307.5 361.5h0M301.9 368.2h0M304.3 354.1h0M304.4 363.5h0M306.2 359.9h0M305.6 361h0M303.4 368.1h0M303.3 371.1h0M304.5 366.2h0M303.9 372.1h0M306 356.1h0M303.5 369.3h0M303 367.1h0M306.6 361.8h0M303.2 370.7h0M303.4 367.5h0M304.5 367.9h0M303.6 364.3h0M303.8 368.5h0M304.2 369.8h0M303.9 363.8h0M305.3 364.7h0M303.7 361.6h0M306.3 358.7h0M304.9 366.1h0M306 365.3h0M304.9 369.3h0M304.8 365h0M304.3 369.4h0M303.9 360.5h0M305.5 360.8h0M273.6 385.2h0M271.6 389.2h0M275.6 381.6h0M273 386.2h0M269.7 388.5h0M271.6 387.4h0"/>
<path stroke="#b83227" stroke-width="0.65" d="M307.9 356.9h0M305.7 357.6h0M307.2 369h0M303.9 360.7h0M307.5 354.3h0M301.2 369.7h0M306.9 361h0M305.5 361.5h0M305 363.1h0M305.8 353.4h0M305 377.1h0M304.1 372.6h0M308.7 358.5h0M305.1 371.9h0M300.6 375h0M307.8 362h0M303.9 367.3h0M305 377.3h0M304.2 368.8h0M303 377.3h0M306.1 360.1h0M306.3 354.9h0M304.8 372h0M302.5 361.6h0M305.3 361.2h0M305.8 356.6h0M305.2 368h0M305.6 361.2h0M303.8 370.8h0M301.7 363.4h0M303.6 364.8h0M305.1 369h0M305.8 355.8h0M301 379h0M301.8 365.8h0M304.2 373.1h0M304.5 366.8h0M307.1 370.5h0M307.4 352.9h0M305.2 360.7h0M308.6 357h0M306.2 357.5h0M306.4 365.2h0M304.3 371.3h0M306.5 357.9h0M305.7 367.7h0M304.4 362.3h0M305.8 346.7h0M308.1 354.3h0M307 360.6h0M303.8 364.2h0M303.3 355.8h0M305.6 360.8h0M305.8 368h0M305 364.6h0M304.3 369h0M304.3 362.7h0M304.5 367.6h0M304.4 370.5h0M302.4 370.2h0M303.4 371.7h0M305 366.4h0M306.7 364.5h0M306.3 364.4h0M306.9 362.5h0M306.7 367.8h0M303.9 367.4h0M305.3 366.3h0M305.3 364.7h0M303.9 366h0M301.3 368.1h0M301.9 371h0M304 362.7h0M306.7 362h0M306.4 367.3h0M304.2 359.8h0M305.4 356.8h0M305 363.6h0M303 364.5h0M302.1 368.2h0M306.3 364h0M271.7 386.8h0M271.7 386.5h0M272.1 386.4h0M269.8 387.2h0M271.3 387.4h0M274.6 384.2h0"/>
<path stroke="#cf4a1f" stroke-width="0.65" d="M304.7 351.8h0M307.6 356.6h0M308.2 351.8h0M305.6 364.7h0M303.9 365.9h0M302.3 361.5h0M302.8 374.9h0M306.9 363.3h0M304 354h0M306.8 359.8h0M301.8 370.8h0M306.1 362.8h0M299.6 368.1h0M303.4 357.7h0M305.7 368.7h0M307.2 356.2h0M301.7 376.5h0M301.7 369.9h0M304.6 368h0M302.8 362.5h0M304.7 366.8h0M305.8 367.8h0M301.2 368.6h0M306.2 371.2h0M306.1 364.9h0M307.2 358.6h0M304.8 362.2h0M308.4 365.1h0M305.4 354h0M302.9 370.9h0M300 377.2h0M309.3 366.3h0M307.1 371h0M307.5 354.6h0M306.3 371.6h0M303.7 364.7h0M304.4 369.7h0M305.5 353.5h0M304.8 362.6h0M304 360.1h0M306.9 366.6h0M304.8 364.1h0M303.8 368.1h0M303 364.2h0M302.7 370.7h0M308.4 368.7h0M271.4 386.9h0M271.8 387h0M271 386.1h0"/>
<path stroke="#e8842c" stroke-width="0.65" d="M304.8 357.9h0M303.5 364.2h0M304.4 352.3h0M304.1 361.9h0M306.4 365.5h0M307.2 362.5h0M304.7 366.1h0M304.5 358.7h0M305.7 365.3h0M306 363.6h0M303 366.5h0M303.9 375.2h0M307.1 353.7h0M306.5 365.3h0M305.5 351.7h0M302.9 372.8h0M303.8 362.6h0M307.4 357.2h0M306.3 364.1h0M305.2 369.5h0M305.1 373h0M309.9 359.9h0M308.1 359.1h0M302.1 363.3h0M301.6 367.8h0M304.8 356.7h0M301.6 362.9h0M303.6 361.3h0M306.3 366.2h0M303 368.8h0M302.1 364.8h0M308.1 357.5h0M309.8 350.4h0M307.9 365.2h0M305.3 361.3h0M306.6 361.1h0M305.7 371.1h0M303.8 369.3h0M308.9 358h0M308.7 363.3h0M306 367.4h0M305.5 360.1h0M306.3 353.9h0M310.1 369.1h0M301.6 365.7h0M301.8 374.8h0M307.1 365.8h0M304.6 354.5h0M305.3 368.3h0M308.1 356.8h0M304.5 374.2h0M303.2 361.6h0M303.9 366.7h0M303.9 371.7h0M306.5 348h0M307.6 371.6h0M310.1 355.8h0M306.4 366.1h0M301.9 373.9h0M305.2 351.5h0M306.7 362.9h0M301.2 360.7h0M304.6 363.4h0M305 362.5h0M272.4 385.7h0M271.9 386.5h0M274.1 383.7h0M276.7 382.8h0"/>
<path stroke="#d04a20" stroke-width="0.65" d="M302.7 365.6h0M303 368.2h0M306.3 362.1h0M308.4 352.7h0M300 371.2h0M300.5 375h0M305.2 360h0M305.2 367.1h0M304.1 368h0M301.6 372.2h0M303.9 368.7h0M304.4 378.8h0M307 353.5h0M309.6 358.9h0M303.6 366.5h0M304.5 374.6h0M307.2 360.8h0M304.1 370.9h0M303.1 376.3h0M303.2 371.8h0M307.2 355.1h0M307.4 359.1h0M301.6 373.7h0M305.6 354.6h0M305.4 362.6h0M305.6 364.9h0M308.1 357.8h0M304.7 359.3h0M307.5 365.5h0M301 378.6h0M307.5 360.3h0M309.8 353.8h0M302 367.4h0M303.6 358.1h0M309.1 351.9h0M306.8 361.1h0M305.1 359.4h0M305.6 356.2h0M308.9 363.4h0M306.7 369.4h0M307.5 355.4h0M305.2 365.4h0M306 371.5h0M305.3 356.9h0M308.9 363.3h0M303.9 366.2h0M301.6 382.5h0M306.6 360.4h0M305.4 358.5h0M302 371.3h0M307 360.6h0M303.2 349.2h0M303.8 373.7h0M273.9 384.4h0M271.2 386.3h0M268 389.6h0M271.5 384.1h0M273 385.4h0M271.7 384.4h0M272.7 385.3h0"/>
<path stroke="#e0662a" stroke-width="0.65" d="M304.8 362.6h0M308.2 355.7h0M308.1 364.1h0M304.3 367.2h0M307.9 355.9h0M305.3 357.9h0M305.1 370.6h0M301.6 364.6h0M306.6 366.5h0M302.6 371.2h0M303.4 375.9h0M301.3 362.7h0M303.8 350.8h0M303.9 361.3h0M304.2 380.6h0M307 358.5h0M302 367.8h0M306.3 364.3h0M306.4 363.2h0M303.9 373.4h0M303.3 371.6h0M302.3 371.5h0M305.8 366h0M306.8 355.3h0M302 372h0M303.5 363.4h0M302.9 372.1h0M301.9 358.3h0M304.2 354h0M301.1 378.7h0M303.9 364h0M305.4 363h0M306.8 366.8h0M306.3 361.4h0M303.1 361.5h0M305.4 356.9h0M307.1 356.3h0M307.4 359h0M309.7 350.8h0M307.2 354.7h0M302.5 372.5h0M306.1 357.6h0M305.4 372.9h0M306.5 358.8h0M303.1 367.7h0M273.5 386.1h0M264.1 389.4h0M274.4 384.1h0M271.2 387.1h0M270.2 389h0M267.4 391.5h0M274.6 382.1h0M267.1 389.7h0"/>
<path stroke="#a61c1c" stroke-width="0.65" d="M305.3 363.1h0M303.9 364.5h0M304.8 371.7h0M302.1 370.1h0M302.8 370.2h0M305.2 354.8h0M307.3 364.5h0M306.5 365.3h0M306 359h0M305.4 367h0M306.6 362.3h0M306.4 371h0M304.5 361.3h0M306.1 366.1h0M305.7 361.7h0M304.6 362.1h0M304.4 366.6h0M301.4 360.5h0M304.1 371.2h0M305.4 361.2h0M306.4 362.5h0M304.3 370.6h0M303.9 370.8h0M307.7 359.7h0M305.7 360h0M303.5 365.5h0M307.6 363.7h0M305.7 363.3h0M306.9 361.1h0M304.5 360.6h0M306.8 360.4h0M302.3 374.8h0M305.3 357.5h0M306 357.7h0M306.6 363.4h0M304.1 358.8h0"/>
<path stroke="#c8402a" stroke-width="0.65" d="M307.1 363h0M303.4 368.8h0M305.7 365.9h0M303.8 361.4h0M304.3 359.1h0M305.4 361h0M305.6 363.6h0M304.4 362.2h0M304.3 360.8h0M304.3 363.9h0M305.2 371.9h0M304.4 363.7h0M307.4 351.7h0M305.8 364.7h0M306.7 356.9h0M304.4 369.1h0M304.1 364.5h0M304 356.8h0M307.1 359.6h0M305 363.6h0M305 362.6h0M302.4 365.2h0M303.3 364.5h0M304.7 366.4h0M304.9 365.7h0M304.8 365.4h0M303.5 365.5h0M306.8 356.4h0M303.9 365.3h0M306.7 365h0M305 354.3h0M304.2 363.7h0M301.7 372.9h0"/>
<path stroke="#b2182b" stroke-width="0.65" d="M304.4 366.9h0M305.8 366.8h0M303.3 366.1h0M305 358.4h0M304.2 373.9h0M305.2 358.5h0M305.7 369.8h0M307.3 361.2h0M305.1 364h0M304.4 376.2h0M306 371h0M306.3 360.4h0M302.7 370.4h0M304.7 366.3h0M303.1 368.7h0M303.4 376h0M304.3 361.3h0M308.5 356.5h0M304.6 363.9h0M304.8 366.9h0M304.6 363.3h0M307.4 351.2h0M307.2 361.5h0M304 371.4h0M304.8 366.1h0M307.3 359.1h0M304.9 366.5h0M307.3 356.4h0M302.8 373h0M305 369.6h0M305.9 362.1h0M306 362.5h0M305.7 359.9h0M305.6 358.1h0M304.4 361.7h0M304.7 359.8h0"/>
<path stroke="#b9252a" stroke-width="0.65" d="M303.9 368.8h0M309 358.9h0M304.9 369h0M303.6 365.4h0M304 368.8h0M305 360.8h0M305.2 365.8h0M306.1 369.5h0M304.2 365.1h0M304.3 369h0M304.7 360.3h0M306.6 366.4h0M304.3 364.3h0M305.1 371h0M306.4 363.8h0M303.6 372h0M306.2 363.4h0M303.5 363.6h0M304.7 367.1h0M304.3 378.7h0M306.4 359.2h0M304.2 373.3h0M302.3 367.9h0M305.7 358.1h0"/>
<path stroke="#b22222" stroke-width="0.65" d="M303.2 366.8h0M305.9 367.7h0M303 365.6h0M304.3 370.3h0M304.6 369.7h0M303.5 367.7h0M305.7 365.4h0M302.6 372.9h0M307.2 361.6h0M304.9 366.7h0M304.7 364h0M305.5 363.5h0M304.2 370.4h0M306.1 364.6h0M306.2 360.1h0M305.4 370h0M304.3 362.5h0M307.8 355.3h0M306.2 364.3h0M305.3 360.1h0M303.7 366.2h0M306.6 355.3h0M305 367.5h0M307 356.8h0M304.2 366.4h0M305.2 366h0M304.7 359.1h0M307.2 359h0M305.1 372.9h0M305.6 360.8h0M302.9 370.8h0M305.8 360.4h0M305.2 360.1h0M304.2 370.3h0M304.5 363.2h0"/>
<path stroke="#d04a20" stroke-width="0.6" d="M302.4 353.4h0M305.8 350h0M310.1 347.7h0M305.3 350.2h0M306.8 340.4h0"/>
<path stroke="#e0662a" stroke-width="0.6" d="M305.1 343.5h0M302.7 345.7h0M307.4 344.1h0M306.9 345.6h0M307.1 354.5h0M289.1 374.2h0M270.7 382.6h0M278.6 368h0M272.3 377.7h0M277.7 376.8h0M301 366.4h0"/>
<path stroke="#c0392b" stroke-width="0.6" d="M312.4 332.8h0M309.8 338.1h0M305.2 348.4h0"/>
<path stroke="#cf4a1f" stroke-width="0.6" d="M310.7 337.3h0M306.8 345.6h0M308.2 350h0M306.1 346.5h0M310.4 342.3h0M309.4 346.2h0"/>
<path stroke="#d6452a" stroke-width="0.6" d="M307.7 341.1h0M307.2 343h0M309.1 338.8h0"/>
<path stroke="#c43c22" stroke-width="0.6" d="M308.5 346.2h0M309 353.8h0M306.3 352.1h0M309.5 341.4h0M306.4 345.8h0M304.2 345h0M307.2 342.6h0"/>
<path stroke="#d9531e" stroke-width="0.6" d="M308.3 342.1h0M307 335.9h0M311.7 355.4h0"/>
<path stroke="#f0a030" stroke-width="0.6" d="M304.2 355.7h0M309.2 341.4h0M310.3 346.1h0M306.9 347.5h0M309.2 353.3h0"/>
<path stroke="#e8842c" stroke-width="0.6" d="M306.4 339.1h0M307.3 346.6h0"/>
<path stroke="#b83227" stroke-width="0.6" d="M305.9 342.7h0M306.7 343.9h0M309.5 349.2h0M305.9 344.8h0M309 356.2h0M306.9 350.3h0"/>
<path stroke="#f0a030" stroke-width="0.7" d="M286.7 387.8h0M288.4 387.4h0M286 382.8h0M287.2 388.3h0M285.7 385.8h0M289.5 385.2h0M286.7 383.7h0M287 384.9h0M286.4 387.7h0M288.6 383.7h0M286.4 386.9h0M286.9 386.3h0M284.8 385.9h0M287.4 382.9h0M286 384.1h0M287.1 384.2h0M288.8 388h0M284.7 385.8h0M285.1 384.9h0M288.2 383.8h0M283.9 385.7h0M286.6 387.3h0M286.3 383.8h0M286.7 382.3h0M286.2 392.3h0M285 383h0M284.6 382.2h0M287.8 385.8h0M286.6 382.4h0"/>
<path stroke="#cf4a1f" stroke-width="0.7" d="M287 386.6h0M285.9 383.5h0M284 389.3h0M285.4 382.4h0M285.1 386.6h0M286 376.6h0M286.8 386.3h0M285.4 388h0M285.8 387.2h0M286.4 380.9h0M285.4 383.6h0M283.8 384.4h0M285.6 383.4h0M287.5 383.3h0M284.9 383.6h0M285.2 382.7h0M286.2 380.7h0M284.3 392h0M284.8 385.2h0M287.2 385h0M286.5 386.8h0M286.9 386.1h0M287.6 380.5h0M285.6 387.7h0M286.8 383.5h0"/>
<path stroke="#c43c22" stroke-width="0.7" d="M287.1 386.1h0M286.1 384.6h0M287.2 386.6h0M287.6 379.6h0M286.5 386.5h0M287.8 382.1h0M286.7 380.4h0M286.3 386.2h0M287.5 381.9h0M288 383.6h0M287 382.3h0M286.4 384.4h0M285.9 382.9h0M286.5 381h0M286.1 383.7h0M286.7 385h0"/>
<path stroke="#d6452a" stroke-width="0.7" d="M285.4 384.9h0M287.9 378.9h0M285.4 382.9h0M287 384.9h0M285.3 385.8h0M285.5 381.4h0M285.3 386h0M288.2 384.9h0M287.4 389.3h0M285.3 389h0M284.3 381.8h0M285.3 385.4h0M286.9 390.1h0M285.7 388.7h0M286.9 389.6h0M286.2 381h0M287.3 381.3h0M290.2 384.6h0M283.6 389.7h0M287.5 383.9h0M287.7 381.8h0M286.5 386.9h0M289 380.4h0M287.7 381.3h0"/>
<path stroke="#d9531e" stroke-width="0.7" d="M283.7 383.4h0M284.8 384.4h0M285.5 383.1h0M285.6 383.3h0M286.4 376.9h0M286.9 387.4h0M286.7 386.8h0M286.5 380.2h0M288.7 384.7h0M286.3 381.7h0M285.6 385.6h0M288.1 383.6h0M287.4 385.5h0M286.6 387.5h0M285.9 388.4h0M286.5 384.1h0M288.1 385.7h0M284.1 383.8h0M285.9 380.4h0"/>
<path stroke="#e0662a" stroke-width="0.7" d="M285.4 381.8h0M286.9 388.7h0M284.7 384.7h0M285.8 386.4h0M284.9 383.3h0M286.5 383.5h0M287.4 383.6h0M287.4 384.3h0M287 383.4h0M285.9 386h0M285.6 387.8h0M285.8 387.9h0M286.4 384.9h0M286 384h0M285.9 387.5h0M288.1 383.4h0M284.4 381.6h0M285.6 383.5h0M287.4 385.1h0M285.1 386.4h0"/>
<path stroke="#c0392b" stroke-width="0.7" d="M287.2 384.2h0M286.4 387.1h0M286.4 377.7h0M287.1 385.3h0M286.6 386.4h0M285.5 381.6h0M286.6 383.5h0M285.6 385.4h0M285.9 384.6h0M286.1 379h0M288.5 386.1h0M283.7 387.7h0M284.9 385.2h0M287.3 385h0M286.5 386.8h0M287.3 384.7h0M285.7 389.3h0M287 390h0M286.9 384.5h0M285.8 388.6h0M286.4 385h0M284.2 386.4h0M286.2 380.7h0M287 381.1h0M283.9 382.7h0"/>
<path stroke="#e8842c" stroke-width="0.7" d="M286 385.5h0M285.2 386.5h0M284.6 387.7h0M285.3 384.4h0M284.7 386.4h0M284 385.5h0M287 381.5h0M286.6 385.5h0M285.7 383.8h0M287.4 381.6h0M286.6 386.6h0M287.1 383.2h0M287.1 381.7h0M286.8 386.6h0M285.4 381.7h0M286.5 381.4h0M286.5 382.8h0M283.8 388.7h0M284 384.5h0M286.4 383.7h0M287.1 387.3h0M285 383.7h0M285.7 382.5h0M285.6 382.1h0M284.2 387.2h0M287.4 382.4h0M284.5 383.2h0M284.2 382.7h0M287.6 383.6h0"/>
<path stroke="#d04a20" stroke-width="0.7" d="M287.1 383h0M288.6 376.7h0M287 386.1h0M288.3 383.2h0M284.6 390.8h0M286 387h0M287.2 383.3h0M285.4 386.7h0M288.1 387.6h0M284.5 382.1h0M286.6 388.5h0M285.1 384.5h0M287.3 385h0M287.2 381.8h0M286.4 385.1h0M284.3 384.3h0M286.1 380.5h0M285.4 386h0"/>
<path stroke="#b83227" stroke-width="0.7" d="M283.6 384.7h0M287.1 385.2h0M287.4 384.1h0M286 389.8h0M287.3 382.9h0M285.1 384.5h0M285.4 383.9h0M287.8 378.5h0M286.2 387.9h0M287.4 382.5h0M285.2 382.2h0M286.5 383.8h0M289.3 383.8h0M285.6 386.7h0M288 385.2h0"/>
<path stroke="#e8a050" stroke-width="0.65" d="M275.1 385.7h0M273.5 383.7h0M273.4 385.8h0M275.5 382.4h0M273.6 384.4h0M274.1 384.4h0M269.9 386.9h0M269.4 389h0"/>
<path stroke="#f0b060" stroke-width="0.65" d="M268.6 388.1h0M274.1 384.7h0M272.3 386.6h0M275.4 383.4h0M273.4 385.3h0M272.1 385.9h0M272.6 384.8h0M275.3 383.9h0M274.9 383.4h0M273.5 385.5h0M272.2 382.8h0M274.1 385.4h0M270.1 388.6h0M271 385.6h0"/>
<path stroke="#8fb0d0" stroke-width="0.6" d="M288.6 364.7h0M297 378.7h0M295.3 378.5h0M280.6 361.6h0M273.4 362.2h0M216.9 402.1h0M226.8 400.6h0"/>
<path stroke="#6080c0" stroke-width="0.6" d="M278.8 374.7h0M279.6 376.8h0M283 382.6h0M292.8 381.3h0M278.8 367.9h0"/>
<path stroke="#70b060" stroke-width="0.6" d="M278.2 385.6h0M275.2 374.1h0M294.4 368.2h0M294.4 382.9h0M287.8 376h0M276 377.9h0M287.6 366.7h0M295.4 380.2h0M297.8 372.8h0"/>
<path stroke="#9090d0" stroke-width="0.6" d="M234.4 401.7h0M232.8 400.6h0M225.7 401h0M222.3 403.2h0"/>
<path stroke="#e8a030" stroke-width="0.6" d="M230.5 403.5h0M223 399.9h0"/>
</g>
<rect x="212.8" y="414.9" width="120.2" height="85.6" fill="#ebebeb"/>
<line x1="227.18" y1="414.9" x2="227.18" y2="500.5" stroke="#fff" stroke-width="0.45" opacity="0.85"/>
<line x1="245.53" y1="414.9" x2="245.53" y2="500.5" stroke="#fff" stroke-width="0.45" opacity="0.85"/>
<line x1="263.88" y1="414.9" x2="263.88" y2="500.5" stroke="#fff" stroke-width="0.45" opacity="0.85"/>
<line x1="282.23" y1="414.9" x2="282.23" y2="500.5" stroke="#fff" stroke-width="0.45" opacity="0.85"/>
<line x1="300.57" y1="414.9" x2="300.57" y2="500.5" stroke="#fff" stroke-width="0.45" opacity="0.85"/>
<line x1="318.93" y1="414.9" x2="318.93" y2="500.5" stroke="#fff" stroke-width="0.45" opacity="0.85"/>
<line x1="218" y1="414.9" x2="218" y2="500.5" stroke="#fff" stroke-width="0.85"/>
<line x1="236.35" y1="414.9" x2="236.35" y2="500.5" stroke="#fff" stroke-width="0.85"/>
<line x1="254.7" y1="414.9" x2="254.7" y2="500.5" stroke="#fff" stroke-width="0.85"/>
<line x1="273.05" y1="414.9" x2="273.05" y2="500.5" stroke="#fff" stroke-width="0.85"/>
<line x1="291.4" y1="414.9" x2="291.4" y2="500.5" stroke="#fff" stroke-width="0.85"/>
<line x1="309.75" y1="414.9" x2="309.75" y2="500.5" stroke="#fff" stroke-width="0.85"/>
<line x1="328.1" y1="414.9" x2="328.1" y2="500.5" stroke="#fff" stroke-width="0.85"/>
<line x1="212.8" y1="422.1" x2="333" y2="422.1" stroke="#fff" stroke-width="0.85"/>
<line x1="212.8" y1="434" x2="333" y2="434" stroke="#fff" stroke-width="0.85"/>
<line x1="212.8" y1="445.9" x2="333" y2="445.9" stroke="#fff" stroke-width="0.85"/>
<line x1="212.8" y1="457.8" x2="333" y2="457.8" stroke="#fff" stroke-width="0.85"/>
<line x1="212.8" y1="469.8" x2="333" y2="469.8" stroke="#fff" stroke-width="0.85"/>
<line x1="212.8" y1="481.7" x2="333" y2="481.7" stroke="#fff" stroke-width="0.85"/>
<line x1="212.8" y1="493.6" x2="333" y2="493.6" stroke="#fff" stroke-width="0.85"/>
<text x="210.6" y="424.3" font-size="6.6" text-anchor="end" fill="#333">chrY</text>
<line x1="211" y1="422.1" x2="212.8" y2="422.1" stroke="#111" stroke-width="1"/>
<text x="210.6" y="436.2" font-size="6.6" text-anchor="end" fill="#333">chrX</text>
<line x1="211" y1="434" x2="212.8" y2="434" stroke="#111" stroke-width="1"/>
<text x="210.6" y="448.1" font-size="6.6" text-anchor="end" fill="#333">chr6</text>
<line x1="211" y1="445.9" x2="212.8" y2="445.9" stroke="#111" stroke-width="1"/>
<text x="210.6" y="460" font-size="6.6" text-anchor="end" fill="#333">chr5</text>
<line x1="211" y1="457.8" x2="212.8" y2="457.8" stroke="#111" stroke-width="1"/>
<text x="210.6" y="472" font-size="6.6" text-anchor="end" fill="#333">chr4</text>
<line x1="211" y1="469.8" x2="212.8" y2="469.8" stroke="#111" stroke-width="1"/>
<text x="210.6" y="483.9" font-size="6.6" text-anchor="end" fill="#333">chr3</text>
<line x1="211" y1="481.7" x2="212.8" y2="481.7" stroke="#111" stroke-width="1"/>
<text x="210.6" y="495.8" font-size="6.6" text-anchor="end" fill="#333">chr2</text>
<line x1="211" y1="493.6" x2="212.8" y2="493.6" stroke="#111" stroke-width="1"/>
<path d="M254.7 445.85L284.06 445.65L295.07 445.4L299.84 444.4L305.35 443.9L309.75 444.2L314.52 445.1L320.76 445.7L326.26 445.85L326.26 445.95L320.76 446.1L314.52 446.7L309.75 447.6L305.35 447.9L299.84 447.4L295.07 446.4L284.06 446.15L254.7 445.95z" fill="#f1b03c"/>
<path d="M278.56 457.75L279.26 457.76L279.97 457.67L280.67 457.72L281.38 457.6L282.08 457.69L282.79 457.52L283.5 457.65L284.2 457.45L284.91 457.62L285.61 457.37L286.32 457.58L287.02 457.3L287.73 457.55L288.46 457.14L289.2 457.44L289.93 456.9L290.67 457.33L291.4 456.67L292.13 457.22L292.87 456.43L293.6 457.11L294.34 456.19L295.07 457L295.76 455.86L296.45 456.8L297.13 455.42L297.82 456.6L298.51 454.99L299.2 456.4L299.89 454.56L300.57 456.2L301.26 454.19L301.94 456.06L302.62 453.88L303.3 455.91L303.98 453.57L304.66 455.77L305.35 453.26L306.08 455.77L306.81 453.55L307.55 455.9L308.28 453.84L309.02 456.03L309.75 454.13L310.44 456.2L311.13 454.56L311.81 456.4L312.5 454.99L313.19 456.6L313.88 455.42L314.57 456.8L315.25 455.86L315.94 456.98L316.63 456.18L317.32 457.12L318.01 456.5L318.7 457.28L319.38 456.83L320.07 457.43L320.76 457.15L321.49 457.55L322.23 457.37L322.96 457.65L323.7 457.58L324.43 457.7L324.43 457.9L323.7 458.02L322.96 457.95L322.23 458.23L321.49 458.05L320.76 458.45L320.07 458.18L319.38 458.77L318.7 458.32L318.01 459.1L317.32 458.48L316.63 459.42L315.94 458.62L315.25 459.74L314.57 458.8L313.88 460.18L313.19 459L312.5 460.61L311.81 459.2L311.13 461.04L310.44 459.4L309.75 461.47L309.02 459.57L308.28 461.76L307.55 459.7L306.81 462.05L306.08 459.83L305.35 462.34L304.66 459.83L303.98 462.03L303.3 459.69L302.62 461.72L301.94 459.54L301.26 461.41L300.57 459.4L299.89 461.04L299.2 459.2L298.51 460.61L297.82 459L297.13 460.18L296.45 458.8L295.76 459.74L295.07 458.6L294.34 459.41L293.6 458.49L292.87 459.17L292.13 458.38L291.4 458.93L290.67 458.27L289.93 458.7L289.2 458.16L288.46 458.46L287.73 458.05L287.02 458.3L286.32 458.02L285.61 458.23L284.91 457.98L284.2 458.15L283.5 457.95L282.79 458.08L282.08 457.91L281.38 458L280.67 457.88L279.97 457.93L279.26 457.84L278.56 457.85z" fill="#9bcb3c"/>
<path d="M236.35 469.75L254.7 469.55L273.05 469.35L285.89 469L291.4 469.2L300.57 469.55L302.41 469.75L302.41 469.85L300.57 470.05L291.4 470.4L285.89 470.6L273.05 470.25L254.7 470.05L236.35 469.85z" fill="#6cc4ae"/>
<path d="M274.88 481.65L280.39 481L285.89 480.6L291.4 480.9L296.17 481.6L296.17 481.8L291.4 482.5L285.89 482.8L280.39 482.4L274.88 481.75z" fill="#4a7ecb"/>
<path d="M243.69 493.55L267.55 493.48L271.21 493.25L291.4 493.15L317.09 493.2L325.53 493.5L325.53 493.7L317.09 494L291.4 494.05L271.21 493.95L267.55 493.72L243.69 493.65z" fill="#4b3a66"/>
<text x="215.2" y="510.3" font-size="6.7" textLength="117" lengthAdjust="spacingAndGlyphs">Identity to consensus of monomers</text>
<text x="398.6" y="326.2" font-size="15.2" textLength="62.1" lengthAdjust="spacingAndGlyphs">BdoSat3</text>
<rect x="364" y="331.8" width="127.8" height="72.2" fill="#ebebeb"/>
<line x1="379.38" y1="331.8" x2="379.38" y2="404" stroke="#fff" stroke-width="0.45" opacity="0.85"/>
<line x1="398.72" y1="331.8" x2="398.72" y2="404" stroke="#fff" stroke-width="0.45" opacity="0.85"/>
<line x1="418.07" y1="331.8" x2="418.07" y2="404" stroke="#fff" stroke-width="0.45" opacity="0.85"/>
<line x1="437.43" y1="331.8" x2="437.43" y2="404" stroke="#fff" stroke-width="0.45" opacity="0.85"/>
<line x1="456.77" y1="331.8" x2="456.77" y2="404" stroke="#fff" stroke-width="0.45" opacity="0.85"/>
<line x1="476.12" y1="331.8" x2="476.12" y2="404" stroke="#fff" stroke-width="0.45" opacity="0.85"/>
<line x1="364" y1="342.5" x2="491.8" y2="342.5" stroke="#fff" stroke-width="0.45" opacity="0.85"/>
<line x1="364" y1="355.7" x2="491.8" y2="355.7" stroke="#fff" stroke-width="0.45" opacity="0.85"/>
<line x1="364" y1="368.7" x2="491.8" y2="368.7" stroke="#fff" stroke-width="0.45" opacity="0.85"/>
<line x1="364" y1="381.9" x2="491.8" y2="381.9" stroke="#fff" stroke-width="0.45" opacity="0.85"/>
<line x1="364" y1="394.9" x2="491.8" y2="394.9" stroke="#fff" stroke-width="0.45" opacity="0.85"/>
<line x1="369.7" y1="331.8" x2="369.7" y2="404" stroke="#fff" stroke-width="0.85"/>
<line x1="389.05" y1="331.8" x2="389.05" y2="404" stroke="#fff" stroke-width="0.85"/>
<line x1="408.4" y1="331.8" x2="408.4" y2="404" stroke="#fff" stroke-width="0.85"/>
<line x1="427.75" y1="331.8" x2="427.75" y2="404" stroke="#fff" stroke-width="0.85"/>
<line x1="447.1" y1="331.8" x2="447.1" y2="404" stroke="#fff" stroke-width="0.85"/>
<line x1="466.45" y1="331.8" x2="466.45" y2="404" stroke="#fff" stroke-width="0.85"/>
<line x1="485.8" y1="331.8" x2="485.8" y2="404" stroke="#fff" stroke-width="0.85"/>
<line x1="364" y1="335.9" x2="491.8" y2="335.9" stroke="#fff" stroke-width="0.85"/>
<line x1="364" y1="349.1" x2="491.8" y2="349.1" stroke="#fff" stroke-width="0.85"/>
<line x1="364" y1="362.1" x2="491.8" y2="362.1" stroke="#fff" stroke-width="0.85"/>
<line x1="364" y1="375.3" x2="491.8" y2="375.3" stroke="#fff" stroke-width="0.85"/>
<line x1="364" y1="388.3" x2="491.8" y2="388.3" stroke="#fff" stroke-width="0.85"/>
<line x1="364" y1="401.5" x2="491.8" y2="401.5" stroke="#fff" stroke-width="0.85"/>
<text x="361.8" y="336.98" font-size="3" text-anchor="end" fill="#444">0.5</text>
<line x1="362.2" y1="335.9" x2="364" y2="335.9" stroke="#111" stroke-width="1"/>
<text x="361.8" y="350.18" font-size="3" text-anchor="end" fill="#444">0.4</text>
<line x1="362.2" y1="349.1" x2="364" y2="349.1" stroke="#111" stroke-width="1"/>
<text x="361.8" y="363.18" font-size="3" text-anchor="end" fill="#444">0.3</text>
<line x1="362.2" y1="362.1" x2="364" y2="362.1" stroke="#111" stroke-width="1"/>
<text x="361.8" y="376.38" font-size="3" text-anchor="end" fill="#444">0.2</text>
<line x1="362.2" y1="375.3" x2="364" y2="375.3" stroke="#111" stroke-width="1"/>
<text x="361.8" y="389.38" font-size="3" text-anchor="end" fill="#444">0.1</text>
<line x1="362.2" y1="388.3" x2="364" y2="388.3" stroke="#111" stroke-width="1"/>
<text x="361.8" y="402.58" font-size="3" text-anchor="end" fill="#444">0.0</text>
<line x1="362.2" y1="401.5" x2="364" y2="401.5" stroke="#111" stroke-width="1"/>
<text x="369.7" y="411.4" font-size="5.6" text-anchor="middle" fill="#444">70</text>
<line x1="369.7" y1="404" x2="369.7" y2="405.9" stroke="#111" stroke-width="1.1"/>
<line x1="369.7" y1="412.7" x2="369.7" y2="414.9" stroke="#111" stroke-width="1.1"/>
<text x="389.05" y="411.4" font-size="5.6" text-anchor="middle" fill="#444">75</text>
<line x1="389.05" y1="404" x2="389.05" y2="405.9" stroke="#111" stroke-width="1.1"/>
<line x1="389.05" y1="412.7" x2="389.05" y2="414.9" stroke="#111" stroke-width="1.1"/>
<text x="408.4" y="411.4" font-size="5.6" text-anchor="middle" fill="#444">80</text>
<line x1="408.4" y1="404" x2="408.4" y2="405.9" stroke="#111" stroke-width="1.1"/>
<line x1="408.4" y1="412.7" x2="408.4" y2="414.9" stroke="#111" stroke-width="1.1"/>
<text x="427.75" y="411.4" font-size="5.6" text-anchor="middle" fill="#444">85</text>
<line x1="427.75" y1="404" x2="427.75" y2="405.9" stroke="#111" stroke-width="1.1"/>
<line x1="427.75" y1="412.7" x2="427.75" y2="414.9" stroke="#111" stroke-width="1.1"/>
<text x="447.1" y="411.4" font-size="5.6" text-anchor="middle" fill="#444">90</text>
<line x1="447.1" y1="404" x2="447.1" y2="405.9" stroke="#111" stroke-width="1.1"/>
<line x1="447.1" y1="412.7" x2="447.1" y2="414.9" stroke="#111" stroke-width="1.1"/>
<text x="466.45" y="411.4" font-size="5.6" text-anchor="middle" fill="#444">95</text>
<line x1="466.45" y1="404" x2="466.45" y2="405.9" stroke="#111" stroke-width="1.1"/>
<line x1="466.45" y1="412.7" x2="466.45" y2="414.9" stroke="#111" stroke-width="1.1"/>
<text x="485.8" y="411.4" font-size="5.6" text-anchor="middle" fill="#444">100</text>
<line x1="485.8" y1="404" x2="485.8" y2="405.9" stroke="#111" stroke-width="1.1"/>
<line x1="485.8" y1="412.7" x2="485.8" y2="414.9" stroke="#111" stroke-width="1.1"/>
<g stroke-linecap="square" opacity="0.95">
<path stroke="#cf4a1f" stroke-width="0.65" d="M466 365.5h0M464.7 351.2h0M467.8 352.9h0M467.4 336.2h0M467.9 360.2h0M462.6 367.1h0M463 366.5h0M466.4 360.3h0M465.5 355.9h0M468.6 348.6h0M462 367.9h0M465.2 364h0M468.7 354.6h0M466.5 355.5h0M465.7 366.8h0M465.5 359.9h0M470.1 357.3h0M468.2 356.5h0M465 349.4h0M466.4 352.1h0M467.4 362.3h0M465.8 363h0M464.5 367.1h0M467.4 358.6h0M462.6 368.4h0M464.8 368.8h0M468.8 347h0M465.4 365.6h0M470.3 346.6h0M467.9 354.6h0M462.3 378.8h0M465.9 362.9h0M467 354.4h0M468.4 358h0M464 363.7h0M467.1 357.2h0M463.7 362.4h0M462.9 358.9h0M467.7 359.2h0M466.7 359.5h0M468.5 353.6h0M469.9 354.1h0M467 352.4h0M465.8 363h0M468.7 363.5h0M466.1 360.5h0M469.7 348.5h0M467.8 345.1h0M465.2 347.3h0M462 369.6h0M467.9 347.9h0M462.9 372.6h0M465.4 348.2h0M465.8 359.3h0M465.9 362.4h0M466.4 370.3h0M467.6 350.3h0M466.8 358.6h0M465.1 362.9h0M463.6 361h0M464.3 365.5h0M465.2 344.5h0"/>
<path stroke="#d04a20" stroke-width="0.65" d="M468 349.6h0M462.1 371.8h0M464.1 368.6h0M470.5 344.8h0M469 358.2h0M464.1 372.8h0M468.4 356.8h0M465.9 358.3h0M463.9 369.5h0M464 352.8h0M465.6 362.6h0M465.4 354.8h0M466.1 358.6h0M465.6 362.2h0M464.8 355.5h0M467.6 346.5h0M466.3 349.9h0M467.2 350.7h0M463 368.5h0M465.1 346.5h0M464.8 363.2h0M463.5 356.1h0M462.6 366.9h0M468.2 343h0M465.4 357.9h0M467.2 359.1h0M466.5 352.7h0M464.8 357.6h0M464 359.3h0M467.6 359.9h0M463.9 361.5h0M467.4 348.7h0M467.8 353.1h0M463.9 370.9h0M465.7 366.3h0M465.7 367.3h0M467.3 358.7h0M467.4 357.7h0M464.2 359.3h0M464.8 360.2h0M466.3 357.1h0M465.9 347.6h0M467.3 356.4h0M469.2 346.3h0M465.8 361.3h0M469.5 353.3h0"/>
<path stroke="#b83227" stroke-width="0.65" d="M466.1 357.7h0M465.7 362.9h0M464.4 357.7h0M465.2 358.5h0M462.8 369.2h0M466.2 352.2h0M467.1 361.5h0M468.1 349.1h0M464.3 359.2h0M466 354.1h0M463.6 354.6h0M464.9 354.5h0M466.9 356.7h0M464.5 364.6h0M465.3 359.1h0M467.7 360.5h0M465.2 370.5h0M467.2 339.2h0M463.8 361.9h0M468.7 346.6h0M464.8 364.9h0M466.5 364h0M464.4 362.6h0M468 350.8h0M466.9 366.2h0M468.9 352.1h0M464.1 365h0M466.2 358.5h0M460.1 378.2h0M468.3 355.6h0M469.2 358.1h0M467.8 354.4h0M465.4 362.3h0M465.2 354.4h0M464.5 358.4h0M468.2 351.4h0M468.5 351.5h0M465.4 356.1h0M466.4 350.6h0M466.1 357.7h0M464.2 365.1h0M466.2 359.8h0M465.6 352.5h0M465.8 353.4h0M467 355.3h0M466.3 350.7h0M462.7 361.6h0M465.2 350.4h0M464.5 358.5h0M466.2 353.3h0M467.7 359.2h0M469.3 350.8h0M464.6 371.8h0M465.6 342.4h0M463 361h0M464.7 352.1h0M465.4 358.5h0M463.8 367.5h0M463.2 364.5h0M465.5 358.5h0M465.9 363.4h0M463.8 362.6h0M466.2 354.9h0M466.1 361h0M466.4 355.3h0M467.1 353h0M464.2 357.1h0M464.5 362.2h0M466.5 352.4h0M467.5 356.9h0M463.5 360h0M466.4 351.9h0M465.1 357.9h0M464.7 360.8h0M465.2 357.3h0M465.9 353.8h0M466.4 353.4h0M465.3 365.4h0M465.7 358.8h0M464.5 354.8h0M465.6 360.8h0M465.4 350.9h0M468.7 353.2h0M464 361.4h0M465.6 352.9h0M466.2 350.4h0M465.7 358.7h0M467 357.8h0M465.1 361.2h0M465.7 358.5h0M466.4 360.1h0M463.2 366.1h0M465.2 362.1h0M468.2 359.6h0"/>
<path stroke="#f0a030" stroke-width="0.65" d="M463.1 361.8h0M468.7 363.6h0M462.3 367.3h0M464.7 346.4h0M470.3 344.6h0M462.6 374h0M466.8 351.7h0M463.8 365.5h0M470 342.6h0M462.8 357.8h0M465.4 357.5h0M465.5 356.3h0M467.4 348.2h0M464.2 362.3h0M462.5 368h0M460.4 363.9h0M459.9 370.9h0M469 337.1h0M467.6 352.6h0M466.5 354.9h0M465.9 349.8h0M464.7 364.3h0M464.6 365.2h0M466.4 360.6h0M464.8 358.3h0M470 339h0M465.6 356.5h0M465.8 348.9h0M467.4 357.4h0M462.1 363.6h0M467.4 363.8h0M467.3 347.3h0M462.4 367.7h0M468.2 350.5h0M467.3 360.2h0M466.1 347.5h0M465.8 361.4h0M466.7 361.7h0M467.6 352.1h0M465.2 358.6h0M464.9 353.3h0M466.7 367h0M471.6 351.2h0M470.2 349.5h0M465.6 353.7h0M466.5 356.4h0M469.8 353.8h0M466.7 350.9h0M469.4 359.9h0M466.2 355.3h0M467 362.3h0M464.4 361.4h0M467.9 348.2h0M464.9 352.2h0M463.4 361.4h0M464.8 359.2h0M467.6 348.4h0M460.4 361.9h0M468.8 355.5h0M469 357.9h0M466.1 361h0M467 345.5h0M464.8 367.9h0M466.1 359.8h0M465.1 351.5h0M467.9 355.3h0M467.9 349.9h0M465.9 356.3h0M465.7 355.3h0M464.7 359.4h0M465.6 361.1h0M465.2 361.4h0M466.5 356.2h0"/>
<path stroke="#f0b040" stroke-width="0.65" d="M465 357h0M464.1 361.9h0M470 333.5h0M468.3 358.1h0M467.6 359.3h0M468.8 352.5h0M466.6 356.6h0M467.9 354.3h0M464.2 369.9h0M466.5 361.2h0M468.2 354.2h0M466.7 360.9h0M465.9 357h0M463.9 348h0M464.5 350.9h0M468.2 354.4h0M464.9 369.3h0M465.9 341.4h0M463.3 360.2h0M467.8 365.8h0M467 359.7h0M463.5 358.3h0M467.5 361.2h0M461.8 353.7h0M464.5 347.6h0M462.8 365.3h0M469.6 349.9h0M465.9 361.6h0M466.8 367.3h0M463.6 361.3h0M466.5 356.9h0M466.2 354.5h0M467.5 349.3h0M463.5 346.7h0M467.5 358.3h0M463.4 357.1h0M465.1 367h0M464.2 363.1h0M463.7 362h0M466.5 360.1h0M468.3 354.1h0M465.5 355.8h0M464.2 366.5h0M466.7 359.3h0M463 367.9h0M465.3 364.2h0M465 363.9h0M464.3 361.7h0M464.7 363.8h0M462.9 364.7h0M463.4 358.6h0M465.4 366.1h0M464.2 363.4h0M465.7 350.6h0M468.6 357.5h0M468.5 352.6h0M466.4 355.6h0M466.4 356.2h0M466.6 359.1h0M466.6 356.3h0M464.9 360h0M464.7 367h0M467 353.1h0M469.1 350.7h0"/>
<path stroke="#e0662a" stroke-width="0.65" d="M465.6 348.9h0M466.7 355.8h0M463.8 365.4h0M464.9 363.7h0M469.5 336.7h0M465.5 358.2h0M466 360.8h0M464.5 361h0M465.3 352.9h0M466.7 356.7h0M465.6 355.5h0M466.7 353h0M472.6 346.6h0M463.5 354.1h0M464.9 366.1h0M463.7 367.7h0M469.6 345.6h0M462 370h0M463.2 373.5h0M468.7 358.9h0M467.3 354.7h0M463.9 366.8h0M464.4 356.8h0M468 355.6h0M464.7 365.6h0M467.1 365.7h0M469.8 363.9h0M469.4 355.8h0M462.2 358.4h0M467.3 367.7h0M464.4 367.2h0M464.6 366.4h0M467.3 347.2h0M468.5 361.5h0M465.8 375.9h0M460.3 370.5h0M471.4 339.7h0M466.4 364.5h0M465.8 358h0M462.7 368.3h0M469.1 349.4h0M468.5 347.5h0M466.5 362.7h0M463 363h0M464.5 360.8h0M463.7 376.5h0M466.9 358.5h0M465.6 353.5h0M463.7 367.2h0M464.9 365.7h0M468.2 369.3h0M464.9 359.1h0"/>
<path stroke="#d9531e" stroke-width="0.65" d="M468.8 365h0M466 363.3h0M468.7 354h0M465.9 359.6h0M468.4 356.3h0M464.8 357.8h0M463.1 362.9h0M468.5 353.1h0M463.6 366.2h0M468.2 344.2h0M466.4 358.4h0M464.8 361.7h0M466 360.9h0M461.9 364.3h0M464.6 355.3h0M463.5 373.6h0M462.3 360.1h0M467.2 349.9h0M467.1 364.3h0M467.2 352.1h0M464.9 360.6h0M469.5 355.9h0M464.7 360.6h0M464.4 366.1h0M464.7 362.6h0M465 359.8h0M464.2 364.6h0M465.6 358h0M467.1 356.2h0M464.1 361h0M462.9 365.9h0M468.2 349.4h0M471.1 348.4h0M465.5 359.9h0M466.1 358.3h0M465.1 364.2h0M467.4 346.7h0M465.5 366.7h0M465.1 356.8h0M465 358.1h0M466.8 351h0M463.8 360.3h0M466.8 353.6h0M465.5 368.5h0M465.7 359.7h0M464 364.4h0M464.8 366.4h0M466.7 365.9h0M465 365.4h0M468.1 342.6h0M462.3 368.7h0"/>
<path stroke="#d6452a" stroke-width="0.65" d="M465.6 359.9h0M463 367.7h0M467.2 347.6h0M464.7 362.3h0M471.4 340.5h0M468 350.6h0M467.1 359.1h0M462.8 366.6h0M463.8 359.6h0M467.3 355.2h0M467.6 346h0M463.4 358.5h0M467.2 351.3h0M467.1 358.6h0M469.3 359.1h0M463.8 362.7h0M464.5 359.1h0M463.9 374.9h0M466.8 354.8h0M465.2 359.8h0M468.3 348h0M466.3 356.2h0M463.8 353h0M464.4 362h0M463.1 373.6h0M466.5 350.1h0M465.5 363.5h0M465.2 369.3h0M467.1 363.3h0M460.8 381h0M466.7 358.1h0M468.5 342.8h0M462 371.9h0M461.2 370h0M466.5 352.9h0M462.5 368.6h0M464.8 363.7h0M465.6 354h0M464.6 362.5h0M467.7 344.8h0M464.8 363h0M467.5 362.6h0M463.5 362.1h0M466.2 364.8h0M465.7 365.5h0M466.1 360.2h0M467.9 359.3h0M466.3 350.1h0M470.3 353h0M467.3 368.5h0M462.9 373.6h0M466.7 356.3h0M465.1 356.3h0"/>
<path stroke="#c0392b" stroke-width="0.65" d="M465.4 350.5h0M466.5 354.4h0M461.8 371.5h0M467.6 363.9h0M468.8 347h0M462.9 353.7h0M462.1 359.6h0M463.7 363.5h0M468.7 344.6h0M464.6 353.2h0M463.6 354.5h0M466.8 362.6h0M465.5 355.7h0M464.7 354.7h0M466.6 348.5h0M470.3 344.8h0M463.8 373.9h0M462.2 372.5h0M465.9 351.3h0M467.2 347.9h0M464.5 375.3h0M466.2 356.1h0M466.4 356.5h0M464.9 358.1h0M467 362.1h0M468.7 362.5h0M467.3 365.7h0M464.8 370.5h0M464.4 373h0M464.1 372.9h0M463.5 361.3h0M467.6 353.2h0M463.8 372h0M464.8 359.2h0M464.9 365.3h0M465.4 353.5h0M464.3 370.6h0M463.1 357.7h0M466.6 354.5h0M465.3 361.9h0M462.2 366.8h0M462.6 355.7h0M471.8 362.6h0M465.2 364.5h0M466.2 359.7h0M463.3 369.1h0M466.9 346h0M466.2 350.3h0M464.7 360.8h0"/>
<path stroke="#c43c22" stroke-width="0.65" d="M463.7 368.5h0M470.3 335.9h0M464 355.2h0M470.5 358h0M465.3 355.9h0M465.7 341.7h0M466 355.7h0M469.9 361.1h0M465.8 366.8h0M466.4 354.6h0M467.8 351.3h0M468.6 351.6h0M460.7 367.7h0M467.9 343.2h0M464.8 361.1h0M464.1 361.5h0M464.4 362.1h0M468.8 352.8h0M464.4 365.7h0M465.6 357.3h0M467.4 348.4h0M466.4 348.2h0M467.6 359.8h0M461.7 366.4h0M471.1 351.3h0M463.6 359.9h0M469.1 350.2h0M466 360h0M461.8 372.2h0M464.6 364.8h0M468.3 355h0M467.5 364.9h0M465.8 351.6h0M465.1 360.3h0M465.2 355.2h0M467.3 348.9h0M466.1 360.1h0M467.8 350.4h0M466.9 363.2h0M466.1 358.9h0M467 354.1h0M462.1 363.9h0M464.4 372.9h0M467.6 350.4h0M463.7 363.5h0M462.3 361.8h0M469.8 341.2h0M462.2 360.3h0M467.4 362.4h0M464.5 367.5h0M464.7 357.5h0M463.7 362.4h0M466 355.8h0M465 361.9h0M465.1 365.4h0M465.4 362.5h0M466.5 356.3h0M465.5 361.3h0M464.6 357h0M463.6 368h0M466.1 353.6h0M466.9 362.6h0M466.4 358.3h0M465.8 360.8h0M463.1 367.5h0M466.2 357.9h0M465.5 361.2h0M466.8 356.7h0M467.9 357.2h0M467.3 354.4h0M466.6 357.5h0M467.1 354.9h0M466.1 357.4h0M466.3 358.9h0M465.7 359.2h0M467.8 348.7h0M466.1 358.6h0M463.9 368.4h0M464.6 369.3h0M466.4 363.9h0M465.1 363.2h0M464.2 360.1h0"/>
<path stroke="#e8842c" stroke-width="0.65" d="M465.4 367.9h0M466.5 367.9h0M468.9 348.2h0M469 356.1h0M467.6 349.4h0M465.9 356.1h0M468.1 352.3h0M465.9 361.9h0M464.2 362.3h0M470 345.7h0M463.5 366h0M467.3 349.4h0M467.3 360.3h0M468.3 354.4h0M465.9 364.1h0M464.3 366.3h0M468.6 356.4h0M466.5 373h0M465.8 363.7h0M464.4 361.8h0M457.9 378.9h0M466.4 351.5h0M471.9 344.2h0M466.4 363.3h0M462.3 363.4h0M460.8 368.1h0M464.4 354.4h0M468.1 344.9h0M464 356.4h0M463.1 366.7h0M468.9 348.2h0M467.3 362.7h0M466.1 354.1h0M465.7 343.9h0M468.3 358.9h0M462.3 374.8h0M466.1 361.9h0M464.7 361.9h0M464 361.8h0M467.3 356.8h0M465.3 364.8h0M466.9 345h0"/>
<path stroke="#b2182b" stroke-width="0.65" d="M465.2 357.7h0M465.3 365.6h0M465.1 354.8h0M464.8 362.1h0M468 354.8h0M465.5 359.6h0M464.6 363.4h0M466.5 363.2h0M464.9 364.2h0M466.6 358.7h0M465.7 367.5h0M465.5 356.2h0M465.9 357.4h0M464.4 358h0M465.7 356.8h0M465 366.1h0M465.6 363.4h0M466.8 352.4h0M466.7 356.7h0M466.4 358.2h0M466 363.8h0M464 358.9h0M466.4 353.7h0M465.5 355.6h0M466.3 352.6h0M464.3 364.1h0M465.7 360.4h0M464.6 365.4h0M466.2 356h0M465.5 361.1h0M466.1 351.2h0"/>
<path stroke="#c8402a" stroke-width="0.65" d="M465.7 357.5h0M464.3 359h0M466.8 357.9h0M465.6 358.9h0M464.5 358.1h0M464.3 372.9h0M465.8 354.8h0M464.5 364.3h0M467.3 354.7h0M467.6 353.6h0M464.5 365.6h0M464 369.7h0M465.1 363.8h0M465.1 355.4h0M466.5 355.4h0M467.3 348.5h0M465.8 359.8h0M466.7 354.4h0M465.9 364.4h0M465.2 355h0M464.1 360.4h0M465.9 359.9h0M465.4 356.8h0M465.5 358h0M464 362.4h0M464.4 362.5h0M464.2 364.3h0M468.1 358.3h0"/>
<path stroke="#b22222" stroke-width="0.65" d="M467 356.6h0M466 364.1h0M465.5 358.9h0M463.7 371.1h0M466.1 357.7h0M466.4 360.5h0M467.1 347.4h0M465.3 360.4h0M467.1 350.7h0M466.3 356.3h0M465 358.7h0M464.8 369.3h0M465.5 356.7h0M465.2 363.5h0M466.8 357.9h0M466.1 360.2h0M464.4 362.4h0M463.6 368.3h0M465.7 362.8h0M464.8 360.2h0M466.6 361.4h0M464.3 362.1h0M466.5 351.5h0M465 365.9h0M465.6 356.3h0M464.8 359.9h0M465.8 360.8h0M465.2 357.8h0M466.5 358.9h0"/>
<path stroke="#a61c1c" stroke-width="0.65" d="M466.6 356h0M463.7 357.8h0M465.7 353.8h0M466.8 353.2h0M464.1 364.2h0M465.7 357.2h0M466.7 358.2h0M467.3 352.2h0M464.2 366.6h0M465.6 354.9h0M464.2 367.8h0M468.7 356.5h0M467.1 350.7h0M466.3 352.8h0M464.6 364h0M466.6 352.3h0M464.1 360h0M465.2 355.2h0M465.1 360.8h0M466.4 352.7h0M464.9 365.7h0M463.8 364.7h0M467.5 357.1h0M463.9 364.6h0M465.5 354.4h0M463.9 366.1h0M467.4 353.9h0M464.3 366.5h0M466.1 355h0M465 352h0M467.4 355.1h0M466.2 363h0M467.7 354.2h0M466.9 357.1h0"/>
<path stroke="#b9252a" stroke-width="0.65" d="M465.3 356.3h0M464.5 363.3h0M467.3 351.8h0M462.6 369.3h0M465.5 361.3h0M465.1 362.2h0M465.4 360.8h0M464.2 363.2h0M465.1 357h0M462.6 368.2h0M466.1 364.3h0M464 365.2h0M466.2 357.3h0M465.8 358.2h0M465.7 358.2h0M464.5 354.7h0M463.4 368.5h0M466.6 358.5h0M467.8 356.4h0M465.2 358.3h0M464.3 355.3h0M466.8 351.4h0M465.2 361h0M463.2 371.4h0M467 351h0M468.3 357.2h0M465 366.7h0M466.2 354.8h0M464 361.1h0M465.4 352.6h0"/>
<path stroke="#d04a20" stroke-width="0.7" d="M436.6 384.4h0M434.4 389.8h0M436.1 378.2h0M434.9 381.9h0M433.7 380.1h0M434.5 382.7h0M435.5 381.8h0M437.5 379.7h0M433.9 383.8h0M435.4 380h0M434.9 384.1h0M436.6 382.4h0M435.6 374.7h0M434.4 375.9h0M434.9 381.4h0M438.2 378.1h0M436.3 379.5h0"/>
<path stroke="#b83227" stroke-width="0.7" d="M436.8 379h0M436.8 376.8h0M434.5 377.6h0M434.4 386.8h0M436.2 380.3h0M435.1 377.2h0M434.7 380.9h0M436.9 380.5h0M436 378.4h0M436.3 376.7h0M436.8 375.5h0M437.7 374.6h0M435.9 376.7h0M436.4 377.9h0M434.7 384.6h0M437 378.6h0M437 378.6h0"/>
<path stroke="#cf4a1f" stroke-width="0.7" d="M435.6 382.6h0M434 381.6h0M436 378.2h0M434.7 382h0M435.9 384.3h0M435.5 378h0M436.3 382.3h0M437.3 383h0M435.8 377.4h0M434.2 381h0M435 379.6h0M433.7 382.9h0M435.8 383.3h0M438.9 383.3h0M434.9 379.4h0M436.9 374.1h0"/>
<path stroke="#e0662a" stroke-width="0.7" d="M436.5 376.9h0M436.9 377.5h0M437.1 382.4h0M436.2 383.2h0M436.3 376.1h0M436.6 377.2h0M436.6 377.2h0M433.9 383h0M436.2 378.9h0M433.2 383.1h0M436.8 376.7h0M435.9 386.2h0M435.6 380.6h0M434.3 381.5h0M436.1 377.6h0M437.4 381.1h0M435.8 382.7h0M433.9 385h0M438.5 377.1h0"/>
<path stroke="#d9531e" stroke-width="0.7" d="M435.7 379.8h0M437.3 384.3h0M436 377.6h0M434.1 383h0M435.6 378.3h0M438 378.8h0M437.7 377.6h0M437.1 378h0M434.6 378.2h0M435.6 375.7h0M435 374.8h0M437.5 378.1h0M435.1 375.2h0M436 374.6h0M436.9 381.5h0"/>
<path stroke="#e8842c" stroke-width="0.7" d="M436.4 378h0M435.4 382.6h0M435.2 383.2h0M435.2 380h0M434.2 379.7h0M438.4 378.8h0M437.4 377.5h0M436.8 379h0M433.6 382.1h0M435.6 383.1h0M436.9 376.1h0M435 387h0M436.3 379.9h0M435.2 378.7h0M436.4 384.9h0M435.6 383.6h0M436 379.6h0"/>
<path stroke="#c0392b" stroke-width="0.7" d="M435 387.3h0M434.3 378.9h0M437.3 381.5h0M436 381.6h0M436.3 378.5h0M434.5 385.4h0M435.2 384.8h0"/>
<path stroke="#d6452a" stroke-width="0.7" d="M435 380.7h0M433.5 384.5h0M434.9 380.4h0M437.1 381.5h0M435.4 381.3h0M435.5 383.5h0M435.4 382.5h0M433.7 382.1h0M437.4 381.6h0M435 383.2h0M437.4 377h0M435.2 385h0M437.4 383.2h0M435.7 384.7h0M435.2 382.1h0M435.2 378h0"/>
<path stroke="#f0a030" stroke-width="0.7" d="M436.4 379.2h0M432.9 386.2h0M434.2 383.8h0M437 377.8h0M435.9 378.9h0M434.5 380.3h0M434.2 384.7h0M434.4 385.3h0M434.4 386.5h0M436.6 378.5h0M436.3 385.6h0"/>
<path stroke="#c43c22" stroke-width="0.7" d="M435.8 378.8h0M436 383.4h0M434.7 383.1h0M436.1 376h0M435.2 380.5h0M435.6 382.7h0M437.7 377.3h0M435.9 381.7h0M436 376.7h0M433.8 382.7h0M435.7 379h0M436.7 378.5h0M433.9 377.9h0M436.3 376.9h0M436.8 383h0"/>
<path stroke="#f0a040" stroke-width="0.7" d="M438.5 374.7h0M436.3 383.1h0M437.8 376.2h0M435.4 383.2h0M437.5 374.7h0M436.1 380.6h0M435.7 377.3h0M435.5 383.3h0M432.7 388.6h0M435.8 382.8h0"/>
<path stroke="#8fb0d0" stroke-width="0.6" d="M467.5 346.7h0M446.6 366.9h0M459.3 356.5h0"/>
<path stroke="#6080c0" stroke-width="0.6" d="M459.7 345.5h0M469.5 348.1h0M463.2 358.7h0M461.3 349.2h0M437.4 367.6h0M453.7 356.9h0M459.9 349.1h0M467.2 346.8h0"/>
<path stroke="#9ad" stroke-width="0.6" d="M462.1 367.1h0M455.5 365.2h0M455.8 352.9h0M460.5 350.4h0M453.1 361.2h0"/>
<path stroke="#e0662a" stroke-width="0.6" d="M459.3 351.3h0M454.8 358.6h0M452.9 363.9h0M449.6 357.9h0"/>
<path stroke="#c8c8e0" stroke-width="0.7" d="M384.7 398h0M384.6 398.5h0M384 401h0M382.6 399.1h0M385.5 400.8h0M382.6 398.2h0"/>
<path stroke="#b0b8e0" stroke-width="0.7" d="M384 398.4h0M381.7 397.8h0M382.4 400.8h0M382.8 398.1h0M381.2 397h0"/>
<path stroke="#d0d0d0" stroke-width="0.7" d="M384.7 395.5h0M383.5 399.8h0M382.5 401.8h0"/>
</g>
<rect x="364" y="414.9" width="127.8" height="85.6" fill="#ebebeb"/>
<line x1="379.38" y1="414.9" x2="379.38" y2="500.5" stroke="#fff" stroke-width="0.45" opacity="0.85"/>
<line x1="398.72" y1="414.9" x2="398.72" y2="500.5" stroke="#fff" stroke-width="0.45" opacity="0.85"/>
<line x1="418.07" y1="414.9" x2="418.07" y2="500.5" stroke="#fff" stroke-width="0.45" opacity="0.85"/>
<line x1="437.43" y1="414.9" x2="437.43" y2="500.5" stroke="#fff" stroke-width="0.45" opacity="0.85"/>
<line x1="456.77" y1="414.9" x2="456.77" y2="500.5" stroke="#fff" stroke-width="0.45" opacity="0.85"/>
<line x1="476.12" y1="414.9" x2="476.12" y2="500.5" stroke="#fff" stroke-width="0.45" opacity="0.85"/>
<line x1="369.7" y1="414.9" x2="369.7" y2="500.5" stroke="#fff" stroke-width="0.85"/>
<line x1="389.05" y1="414.9" x2="389.05" y2="500.5" stroke="#fff" stroke-width="0.85"/>
<line x1="408.4" y1="414.9" x2="408.4" y2="500.5" stroke="#fff" stroke-width="0.85"/>
<line x1="427.75" y1="414.9" x2="427.75" y2="500.5" stroke="#fff" stroke-width="0.85"/>
<line x1="447.1" y1="414.9" x2="447.1" y2="500.5" stroke="#fff" stroke-width="0.85"/>
<line x1="466.45" y1="414.9" x2="466.45" y2="500.5" stroke="#fff" stroke-width="0.85"/>
<line x1="485.8" y1="414.9" x2="485.8" y2="500.5" stroke="#fff" stroke-width="0.85"/>
<line x1="364" y1="422.1" x2="491.8" y2="422.1" stroke="#fff" stroke-width="0.85"/>
<line x1="364" y1="434" x2="491.8" y2="434" stroke="#fff" stroke-width="0.85"/>
<line x1="364" y1="445.9" x2="491.8" y2="445.9" stroke="#fff" stroke-width="0.85"/>
<line x1="364" y1="457.8" x2="491.8" y2="457.8" stroke="#fff" stroke-width="0.85"/>
<line x1="364" y1="469.8" x2="491.8" y2="469.8" stroke="#fff" stroke-width="0.85"/>
<line x1="364" y1="481.7" x2="491.8" y2="481.7" stroke="#fff" stroke-width="0.85"/>
<line x1="364" y1="493.6" x2="491.8" y2="493.6" stroke="#fff" stroke-width="0.85"/>
<text x="361.8" y="424.3" font-size="6.6" text-anchor="end" fill="#333">chrY</text>
<line x1="362.2" y1="422.1" x2="364" y2="422.1" stroke="#111" stroke-width="1"/>
<text x="361.8" y="436.2" font-size="6.6" text-anchor="end" fill="#333">chrX</text>
<line x1="362.2" y1="434" x2="364" y2="434" stroke="#111" stroke-width="1"/>
<text x="361.8" y="448.1" font-size="6.6" text-anchor="end" fill="#333">chr6</text>
<line x1="362.2" y1="445.9" x2="364" y2="445.9" stroke="#111" stroke-width="1"/>
<text x="361.8" y="460" font-size="6.6" text-anchor="end" fill="#333">chr5</text>
<line x1="362.2" y1="457.8" x2="364" y2="457.8" stroke="#111" stroke-width="1"/>
<text x="361.8" y="472" font-size="6.6" text-anchor="end" fill="#333">chr4</text>
<line x1="362.2" y1="469.8" x2="364" y2="469.8" stroke="#111" stroke-width="1"/>
<text x="361.8" y="483.9" font-size="6.6" text-anchor="end" fill="#333">chr3</text>
<line x1="362.2" y1="481.7" x2="364" y2="481.7" stroke="#111" stroke-width="1"/>
<text x="361.8" y="495.8" font-size="6.6" text-anchor="end" fill="#333">chr2</text>
<line x1="362.2" y1="493.6" x2="364" y2="493.6" stroke="#111" stroke-width="1"/>
<path d="M452.9 422.05L458.71 421.6L466.45 421.35L474.19 421.6L478.06 422.05L478.06 422.15L474.19 422.6L466.45 422.85L458.71 422.6L452.9 422.15z" fill="#a8382a"/>
<path d="M412.27 433.95L412.96 433.97L413.66 433.93L414.35 433.97L415.05 433.92L415.74 433.96L416.44 433.91L417.13 433.96L417.83 433.9L418.52 433.95L419.22 433.89L419.91 433.95L420.61 433.88L421.3 433.94L421.99 433.87L422.69 433.94L423.38 433.86L424.08 433.93L424.77 433.85L425.47 433.93L426.16 433.84L426.86 433.92L427.55 433.82L428.25 433.92L428.94 433.81L429.64 433.91L430.33 433.8L431.02 433.91L431.72 433.79L432.41 433.9L433.11 433.78L433.8 433.9L434.5 433.77L435.19 433.89L435.89 433.76L436.58 433.89L437.28 433.75L437.97 433.88L438.67 433.74L439.36 433.88L440.06 433.71L440.77 433.85L441.47 433.66L442.17 433.83L442.88 433.61L443.58 433.81L444.29 433.56L444.99 433.78L445.69 433.51L446.4 433.76L447.1 433.46L447.83 433.69L448.55 433.19L449.28 433.56L450 432.92L450.73 433.44L451.45 432.65L452.18 433.31L452.9 432.38L453.63 433.16L454.36 431.98L455.08 432.97L455.81 431.57L456.53 432.78L457.26 431.17L457.98 432.59L458.71 430.76L459.41 432.4L460.1 430.35L460.8 432.21L461.5 429.94L462.19 432.02L462.89 429.53L463.59 431.83L464.28 429.12L464.98 431.64L465.68 428.71L466.4 431.64L467.13 429.11L467.85 431.83L468.58 429.52L469.3 432.02L470.03 429.92L470.76 432.21L471.48 430.33L472.14 432.41L472.81 430.82L473.47 432.64L474.13 431.32L474.8 432.87L475.46 431.81L476.12 433.1L476.77 432.25L477.42 433.28L478.06 432.65L478.7 433.47L479.35 433.05L480 433.65L480.72 433.32L481.45 433.73L482.17 433.49L482.9 433.8L483.62 433.65L484.35 433.88L485.07 433.81L485.8 433.9L485.8 434.1L485.07 434.19L484.35 434.12L483.62 434.35L482.9 434.2L482.17 434.51L481.45 434.27L480.72 434.68L480 434.35L479.35 434.95L478.7 434.53L478.06 435.35L477.42 434.72L476.77 435.75L476.12 434.9L475.46 436.19L474.8 435.13L474.13 436.68L473.47 435.36L472.81 437.18L472.14 435.59L471.48 437.67L470.76 435.79L470.03 438.08L469.3 435.98L468.58 438.48L467.85 436.17L467.13 438.89L466.4 436.36L465.68 439.29L464.98 436.36L464.28 438.88L463.59 436.17L462.89 438.47L462.19 435.98L461.5 438.06L460.8 435.79L460.1 437.65L459.41 435.6L458.71 437.24L457.98 435.41L457.26 436.83L456.53 435.22L455.81 436.43L455.08 435.03L454.36 436.02L453.63 434.84L452.9 435.62L452.18 434.69L451.45 435.35L450.73 434.56L450 435.08L449.28 434.44L448.55 434.81L447.83 434.31L447.1 434.54L446.4 434.24L445.69 434.49L444.99 434.22L444.29 434.44L443.58 434.19L442.88 434.39L442.17 434.17L441.47 434.34L440.77 434.15L440.06 434.29L439.36 434.12L438.67 434.26L437.97 434.12L437.28 434.25L436.58 434.11L435.89 434.24L435.19 434.11L434.5 434.23L433.8 434.1L433.11 434.22L432.41 434.1L431.72 434.21L431.02 434.09L430.33 434.2L429.64 434.09L428.94 434.19L428.25 434.08L427.55 434.18L426.86 434.08L426.16 434.16L425.47 434.07L424.77 434.15L424.08 434.07L423.38 434.14L422.69 434.06L421.99 434.13L421.3 434.06L420.61 434.12L419.91 434.05L419.22 434.11L418.52 434.05L417.83 434.1L417.13 434.04L416.44 434.09L415.74 434.04L415.05 434.08L414.35 434.03L413.66 434.07L412.96 434.03L412.27 434.05z" fill="#dc4a14"/>
<path d="M408.4 481.65L427.75 481.45L439.36 481.35L447.1 481.55L478.06 481.6L478.06 481.8L447.1 481.85L439.36 482.05L427.75 481.95L408.4 481.75z" fill="#a9c4e6"/>
<text x="369.4" y="510.3" font-size="6.7" textLength="117" lengthAdjust="spacingAndGlyphs">Identity to consensus of monomers</text>
<text x="498.2" y="337.6" font-size="7.2" fill="#111" textLength="45.2" lengthAdjust="spacingAndGlyphs">% of contings</text>
<linearGradient id="tb" x1="0" x2="0" y1="1" y2="0"><stop offset="0" stop-color="#352a6e"/><stop offset="0.1" stop-color="#3f51a8"/><stop offset="0.19" stop-color="#3b7ac8"/><stop offset="0.25" stop-color="#2ea5d8"/><stop offset="0.35" stop-color="#3aa880"/><stop offset="0.47" stop-color="#6fb044"/><stop offset="0.6" stop-color="#b8c832"/><stop offset="0.67" stop-color="#e8b030"/><stop offset="0.73" stop-color="#f09028"/><stop offset="0.82" stop-color="#e0501c"/><stop offset="0.9" stop-color="#c8281c"/><stop offset="1" stop-color="#7a1418"/></linearGradient>
<rect x="498" y="343.2" width="11.9" height="58.8" fill="url(#tb)"/>
<text x="513.9" y="348" font-size="6" fill="#222">100</text>
<line x1="498" y1="345.9" x2="500.4" y2="345.9" stroke="#fff" stroke-width="0.4" opacity="0.8"/>
<line x1="507.5" y1="345.9" x2="509.9" y2="345.9" stroke="#fff" stroke-width="0.4" opacity="0.8"/>
<text x="513.9" y="362.1" font-size="6" fill="#222">75</text>
<line x1="498" y1="360" x2="500.4" y2="360" stroke="#fff" stroke-width="0.4" opacity="0.8"/>
<line x1="507.5" y1="360" x2="509.9" y2="360" stroke="#fff" stroke-width="0.4" opacity="0.8"/>
<text x="513.9" y="376.4" font-size="6" fill="#222">50</text>
<line x1="498" y1="374.3" x2="500.4" y2="374.3" stroke="#fff" stroke-width="0.4" opacity="0.8"/>
<line x1="507.5" y1="374.3" x2="509.9" y2="374.3" stroke="#fff" stroke-width="0.4" opacity="0.8"/>
<text x="513.9" y="390.7" font-size="6" fill="#222">25</text>
<line x1="498" y1="388.6" x2="500.4" y2="388.6" stroke="#fff" stroke-width="0.4" opacity="0.8"/>
<line x1="507.5" y1="388.6" x2="509.9" y2="388.6" stroke="#fff" stroke-width="0.4" opacity="0.8"/>
<text x="527.2" y="292.4" font-size="22">d</text>
<filter id="mb1" x="-20%" y="-20%" width="140%" height="140%"><feGaussianBlur stdDeviation="1.3"/></filter>
<filter id="mb2" x="-20%" y="-20%" width="140%" height="140%"><feGaussianBlur stdDeviation="0.8"/></filter>
<filter id="mb3" x="-20%" y="-20%" width="140%" height="140%"><feGaussianBlur stdDeviation="0.45"/></filter>
<filter id="gr" x="0" y="0" width="100%" height="100%"><feTurbulence type="fractalNoise" baseFrequency="0.5" numOctaves="2" seed="4" result="n"/><feColorMatrix in="n" type="matrix" values="0 0 0 0 0  0 0 0 0 0  0 0 0 0 0  2.2 0 0 0 -0.85" result="a"/><feComposite in="a" in2="SourceAlpha" operator="in"/></filter>
<filter id="gw" x="0" y="0" width="100%" height="100%"><feTurbulence type="fractalNoise" baseFrequency="0.55" numOctaves="2" seed="9" result="n"/><feColorMatrix in="n" type="matrix" values="0 0 0 0 1  0 0 0 0 1  0 0 0 0 1  0 2.2 0 0 -0.9" result="a"/><feComposite in="a" in2="SourceAlpha" operator="in"/></filter>
<radialGradient id="nuc1"><stop offset="0" stop-color="#c2c2c2"/><stop offset="0.7" stop-color="#b4b4b4"/><stop offset="0.92" stop-color="#8c8c8c"/><stop offset="1" stop-color="#555"/></radialGradient>
<radialGradient id="nuc2"><stop offset="0" stop-color="#e4e4e4"/><stop offset="0.75" stop-color="#d2d2d2"/><stop offset="0.93" stop-color="#a8a8a8"/><stop offset="1" stop-color="#666"/></radialGradient>
<clipPath id="im1"><rect x="584.8" y="289.9" width="100.2" height="106.2"/></clipPath>
<g clip-path="url(#im1)">
<rect x="584.8" y="289.9" width="100.2" height="106.2" fill="#0b0b0b"/>
<g filter="url(#mb1)" fill="none" stroke-linecap="round">
<ellipse cx="621" cy="346" rx="25" ry="20" fill="#303030" stroke="none"/>
<path d="M590.4 323Q596 322 600 329" stroke="#5c5c5c" stroke-width="4.1"/>
<path d="M598.2 326.5Q603 332 605.8 339.8" stroke="#707070" stroke-width="4.5"/>
<path d="M605.8 331.4Q615 326 625.6 330.5" stroke="#808080" stroke-width="5.1"/>
<path d="M624.5 332.9Q634 333 642.4 339.8" stroke="#828282" stroke-width="5.1"/>
<path d="M646.9 329.1Q650.6 336 650.2 344.6" stroke="#8e8e8e" stroke-width="4.3"/>
<path d="M642.6 329Q645.5 335 645.4 341" stroke="#6a6a6a" stroke-width="3.3"/>
<path d="M610.4 339.4Q619 337 628.7 338.3" stroke="#727272" stroke-width="4.5"/>
<path d="M602.8 344.4Q604 355 613.4 364.1" stroke="#828282" stroke-width="5.3"/>
<path d="M613.4 343.5Q613 355 618 365.7" stroke="#7c7c7c" stroke-width="4.9"/>
<path d="M622.6 343.5Q620.5 354 621 364.1" stroke="#7a7a7a" stroke-width="4.7"/>
<path d="M630.2 342Q629 354 630.2 365.7" stroke="#868686" stroke-width="5.1"/>
<path d="M636.3 343.2Q637.5 354 636.3 364.1" stroke="#7c7c7c" stroke-width="4.7"/>
<path d="M640.8 343Q641.5 350 639.3 356.5" stroke="#767676" stroke-width="4.3"/>
<path d="M597 337Q598.5 341 600.5 345" stroke="#686868" stroke-width="3.7"/>
</g>
<g filter="url(#mb2)">
<circle cx="617.7" cy="306" r="19.2" fill="url(#nuc1)"/>
<circle cx="582.8" cy="347" r="19" fill="url(#nuc2)"/>
</g>
<rect x="584.8" y="289.9" width="100.2" height="106.2" fill="#000" filter="url(#gr)" opacity="0.16"/>
<circle cx="617.7" cy="306" r="18" fill="#000" filter="url(#gr)" opacity="0.15"/>
<circle cx="617.7" cy="306" r="17" fill="#000" filter="url(#gw)" opacity="0.3"/>
<g filter="url(#mb3)">
<ellipse cx="618.4" cy="293.6" rx="2.3" ry="1.8" fill="#755410" opacity="0.95"/>
<ellipse cx="615" cy="292.2" rx="1.49" ry="1.17" fill="#755410" opacity="0.95"/>
<ellipse cx="621.3" cy="294.2" rx="1.38" ry="1.08" fill="#755410" opacity="0.95"/>
<ellipse cx="618.4" cy="307.7" rx="1.49" ry="1.17" fill="#755410" opacity="0.95"/>
<ellipse cx="605.1" cy="349.2" rx="1.49" ry="1.17" fill="#755410" opacity="0.95"/>
<ellipse cx="608.1" cy="357.6" rx="1.72" ry="1.35" fill="#755410" opacity="0.95"/>
<ellipse cx="632.9" cy="345.6" rx="1.38" ry="1.08" fill="#755410" opacity="0.95"/>
<ellipse cx="631.4" cy="351.7" rx="1.26" ry="0.99" fill="#755410" opacity="0.95"/>
<ellipse cx="617.5" cy="294.8" rx="1.15" ry="0.9" fill="#12aa12" opacity="0.95"/>
<ellipse cx="616.8" cy="291.3" rx="0.8" ry="0.63" fill="#12aa12" opacity="0.95"/>
<ellipse cx="610.2" cy="300" rx="0.86" ry="0.68" fill="#12aa12" opacity="0.95"/>
<ellipse cx="613.7" cy="302.2" rx="0.86" ry="0.68" fill="#12aa12" opacity="0.95"/>
<ellipse cx="605.5" cy="309.3" rx="0.86" ry="0.68" fill="#12aa12" opacity="0.95"/>
<ellipse cx="613.2" cy="306.3" rx="0.86" ry="0.68" fill="#12aa12" opacity="0.95"/>
<ellipse cx="617.6" cy="309.3" rx="1.03" ry="0.81" fill="#12aa12" opacity="0.95"/>
<ellipse cx="617" cy="312.6" rx="0.86" ry="0.68" fill="#12aa12" opacity="0.95"/>
<ellipse cx="616" cy="321.7" rx="0.86" ry="0.68" fill="#12aa12" opacity="0.95"/>
<ellipse cx="598.7" cy="329.4" rx="0.86" ry="0.68" fill="#12aa12" opacity="0.95"/>
<ellipse cx="600.2" cy="331" rx="0.69" ry="0.54" fill="#12aa12" opacity="0.95"/>
<ellipse cx="602" cy="332.5" rx="0.86" ry="0.68" fill="#12aa12" opacity="0.95"/>
<ellipse cx="597.6" cy="335.2" rx="0.69" ry="0.54" fill="#12aa12" opacity="0.95"/>
<ellipse cx="598.4" cy="336.8" rx="0.86" ry="0.68" fill="#12aa12" opacity="0.95"/>
<ellipse cx="619.5" cy="352" rx="0.86" ry="0.68" fill="#12aa12" opacity="0.95"/>
<ellipse cx="622" cy="353.6" rx="0.69" ry="0.54" fill="#12aa12" opacity="0.95"/>
<ellipse cx="624.4" cy="355.3" rx="0.86" ry="0.68" fill="#12aa12" opacity="0.95"/>
<ellipse cx="634" cy="351.2" rx="0.86" ry="0.68" fill="#12aa12" opacity="0.95"/>
<ellipse cx="636.4" cy="351.8" rx="0.69" ry="0.54" fill="#12aa12" opacity="0.95"/>
<ellipse cx="638.6" cy="352.4" rx="0.86" ry="0.68" fill="#12aa12" opacity="0.95"/>
<ellipse cx="634" cy="345.9" rx="0.63" ry="0.5" fill="#12aa12" opacity="0.95"/>
<ellipse cx="609.6" cy="356.2" rx="0.86" ry="0.68" fill="#12aa12" opacity="0.95"/>
<ellipse cx="606" cy="348.2" rx="0.69" ry="0.54" fill="#12aa12" opacity="0.95"/>
<ellipse cx="585.7" cy="357.3" rx="0.86" ry="0.68" fill="#12aa12" opacity="0.95"/>
<ellipse cx="585.7" cy="361.4" rx="0.86" ry="0.68" fill="#12aa12" opacity="0.95"/>
</g>
<text x="639.9" y="317.3" font-size="4.8" text-anchor="middle" font-weight="bold" fill="#fff">X</text>
<line x1="637.8" y1="318.8" x2="634.9" y2="322.41" stroke="#fff" stroke-width="1.3"/>
<polygon points="632.9,324.9 633.53,321.3 636.28,323.51" fill="#fff"/>
<line x1="641.2" y1="318.8" x2="642.61" y2="322.33" stroke="#fff" stroke-width="1.3"/>
<polygon points="643.8,325.3 640.98,322.98 644.25,321.68" fill="#fff"/>
<line x1="650.7" y1="352.7" x2="647.75" y2="350.7" stroke="#fff" stroke-width="1.3"/>
<polygon points="645.1,348.9 648.74,349.24 646.76,352.15" fill="#fff"/>
<text x="646.9" y="358" font-size="4.8" font-weight="bold" fill="#fff" textLength="11.2" lengthAdjust="spacingAndGlyphs">Chr6</text>
<line x1="601" y1="367.5" x2="601.89" y2="364.47" stroke="#fff" stroke-width="1.3"/>
<polygon points="602.8,361.4 603.58,364.97 600.21,363.97" fill="#fff"/>
<text x="594.9" y="372.5" font-size="4.8" font-weight="bold" fill="#fff" textLength="11.2" lengthAdjust="spacingAndGlyphs">Chr5</text>
<rect x="589.9" y="388.7" width="47.6" height="2.9" fill="#fff"/>
<text x="603.6" y="388" font-size="5.7" fill="#fff" textLength="20.2" lengthAdjust="spacingAndGlyphs">100μm</text>
<circle cx="647.4" cy="382.4" r="1.3" fill="#22cc22"/>
<text x="652.7" y="384.2" font-size="5.1" font-weight="bold" fill="#1fc41f" textLength="25.9" lengthAdjust="spacingAndGlyphs">BdoSat1A</text>
<circle cx="647.4" cy="391.5" r="1.3" fill="#e08a1e"/>
<text x="652.7" y="393.5" font-size="5.1" font-weight="bold" fill="#e08a1e" textLength="25.9" lengthAdjust="spacingAndGlyphs">BdoSat2A</text>
</g>
<clipPath id="im2"><rect x="584.8" y="399.8" width="100.2" height="105.9"/></clipPath>
<g clip-path="url(#im2)">
<rect x="584.8" y="399.8" width="100.2" height="105.9" fill="#141414"/>
<g filter="url(#mb1)">
<rect x="624.9" y="413.3" width="23" height="8.4" rx="4.2" fill="#a6a6a6" transform="rotate(28 636.4 417.5)"/>
<rect x="619" y="425.4" width="24" height="8.4" rx="4.2" fill="#a6a6a6" transform="rotate(16 631 429.6)"/>
<rect x="630.1" y="436.5" width="16" height="7.8" rx="3.9" fill="#a6a6a6" transform="rotate(56 638.1 440.4)"/>
<rect x="644.2" y="435.6" width="22" height="8.8" rx="4.4" fill="#a6a6a6" transform="rotate(-52 655.2 440)"/>
<rect x="596.5" y="443.6" width="17" height="7.8" rx="3.9" fill="#a6a6a6" transform="rotate(-72 605 447.5)"/>
<rect x="614.2" y="443.5" width="21" height="8.8" rx="4.4" fill="#a6a6a6" transform="rotate(-12 624.7 447.9)"/>
<rect x="620.2" y="454.3" width="15" height="8" rx="4" fill="#a6a6a6" transform="rotate(-53 627.7 458.3)"/>
<rect x="639" y="448.8" width="13" height="7.8" rx="3.9" fill="#a6a6a6" transform="rotate(47 645.5 452.7)"/>
<rect x="640.7" y="455" width="26" height="8.4" rx="4.2" fill="#a6a6a6" transform="rotate(-16 653.7 459.2)"/>
<rect x="593.9" y="462.3" width="17" height="8.4" rx="4.2" fill="#a6a6a6" transform="rotate(53 602.4 466.5)"/>
<rect x="630.7" y="468.7" width="19" height="7.8" rx="3.9" fill="#a6a6a6" transform="rotate(3 640.2 472.6)"/>
<rect x="656.2" y="464.8" width="13" height="7.8" rx="3.9" fill="#a6a6a6" transform="rotate(-35 662.7 468.7)"/>
<rect x="613.5" y="477.6" width="16" height="7.4" rx="3.7" fill="#a6a6a6" transform="rotate(2 621.5 481.3)"/>
<rect x="630.05" y="477.3" width="15.5" height="7.4" rx="3.7" fill="#a6a6a6" transform="rotate(-2 637.8 481)"/>
</g>
<g filter="url(#mb3)" opacity="0.3">
<line x1="627.4" y1="417.5" x2="645.4" y2="417.5" stroke="#5a5a5a" stroke-width="0.9" transform="rotate(28 636.4 417.5)"/>
<line x1="621.5" y1="429.6" x2="640.5" y2="429.6" stroke="#5a5a5a" stroke-width="0.9" transform="rotate(16 631 429.6)"/>
<line x1="632.6" y1="440.4" x2="643.6" y2="440.4" stroke="#5a5a5a" stroke-width="0.9" transform="rotate(56 638.1 440.4)"/>
<line x1="646.7" y1="440" x2="663.7" y2="440" stroke="#5a5a5a" stroke-width="0.9" transform="rotate(-52 655.2 440)"/>
<line x1="599" y1="447.5" x2="611" y2="447.5" stroke="#5a5a5a" stroke-width="0.9" transform="rotate(-72 605 447.5)"/>
<line x1="616.7" y1="447.9" x2="632.7" y2="447.9" stroke="#5a5a5a" stroke-width="0.9" transform="rotate(-12 624.7 447.9)"/>
<line x1="622.7" y1="458.3" x2="632.7" y2="458.3" stroke="#5a5a5a" stroke-width="0.9" transform="rotate(-53 627.7 458.3)"/>
<line x1="641.5" y1="452.7" x2="649.5" y2="452.7" stroke="#5a5a5a" stroke-width="0.9" transform="rotate(47 645.5 452.7)"/>
<line x1="643.2" y1="459.2" x2="664.2" y2="459.2" stroke="#5a5a5a" stroke-width="0.9" transform="rotate(-16 653.7 459.2)"/>
<line x1="596.4" y1="466.5" x2="608.4" y2="466.5" stroke="#5a5a5a" stroke-width="0.9" transform="rotate(53 602.4 466.5)"/>
<line x1="633.2" y1="472.6" x2="647.2" y2="472.6" stroke="#5a5a5a" stroke-width="0.9" transform="rotate(3 640.2 472.6)"/>
<line x1="658.7" y1="468.7" x2="666.7" y2="468.7" stroke="#5a5a5a" stroke-width="0.9" transform="rotate(-35 662.7 468.7)"/>
<line x1="616" y1="481.3" x2="627" y2="481.3" stroke="#5a5a5a" stroke-width="0.9" transform="rotate(2 621.5 481.3)"/>
<line x1="632.55" y1="481" x2="643.05" y2="481" stroke="#5a5a5a" stroke-width="0.9" transform="rotate(-2 637.8 481)"/>
</g>
<g filter="url(#mb2)">
<circle cx="659.3" cy="405.6" r="17.3" fill="url(#nuc2)"/>
<circle cx="686" cy="425.5" r="13.4" fill="url(#nuc2)"/>
</g>
<rect x="584.8" y="399.8" width="100.2" height="105.9" fill="#000" filter="url(#gr)" opacity="0.18"/>
<circle cx="659.3" cy="405.6" r="16" fill="#000" filter="url(#gw)" opacity="0.4"/>
<g filter="url(#mb3)">
<ellipse cx="640" cy="471.2" rx="3.45" ry="2.7" fill="#6e5210" opacity="0.95"/>
<ellipse cx="663.1" cy="466.2" rx="3.22" ry="2.52" fill="#6e5210" opacity="0.95"/>
<ellipse cx="640.2" cy="470.8" rx="1.95" ry="1.53" fill="#94701a" opacity="0.95"/>
<ellipse cx="663.2" cy="465.8" rx="1.84" ry="1.44" fill="#94701a" opacity="0.95"/>
<ellipse cx="642.6" cy="421.5" rx="1.15" ry="0.9" fill="#17902a" opacity="0.95"/>
<ellipse cx="642" cy="423" rx="0.8" ry="0.63" fill="#17902a" opacity="0.95"/>
<ellipse cx="634.4" cy="431.5" rx="1.03" ry="0.81" fill="#17902a" opacity="0.95"/>
<ellipse cx="629.2" cy="446.4" rx="1.26" ry="0.99" fill="#17902a" opacity="0.95"/>
<ellipse cx="627.8" cy="445.2" rx="0.69" ry="0.54" fill="#17902a" opacity="0.95"/>
<ellipse cx="630.9" cy="452.8" rx="1.03" ry="0.81" fill="#17902a" opacity="0.95"/>
<ellipse cx="653.7" cy="443.4" rx="0.92" ry="0.72" fill="#17902a" opacity="0.95"/>
<ellipse cx="654.8" cy="444.6" rx="0.57" ry="0.45" fill="#17902a" opacity="0.95"/>
<ellipse cx="641.8" cy="445.2" rx="0.57" ry="0.45" fill="#17902a" opacity="0.95"/>
<ellipse cx="608.3" cy="449.4" rx="0.69" ry="0.54" fill="#17902a" opacity="0.95"/>
<ellipse cx="606.1" cy="466.8" rx="0.69" ry="0.54" fill="#17902a" opacity="0.95"/>
<ellipse cx="651.8" cy="462" rx="1.03" ry="0.81" fill="#17902a" opacity="0.95"/>
<ellipse cx="628.9" cy="481.1" rx="0.8" ry="0.63" fill="#17902a" opacity="0.95"/>
<ellipse cx="651.8" cy="419.6" rx="0.69" ry="0.54" fill="#17902a" opacity="0.95"/>
<ellipse cx="667.6" cy="402.2" rx="0.63" ry="0.5" fill="#17902a" opacity="0.95"/>
<ellipse cx="672.3" cy="402" rx="0.63" ry="0.5" fill="#17902a" opacity="0.95"/>
<ellipse cx="680.1" cy="417.4" rx="0.8" ry="0.63" fill="#17902a" opacity="0.95"/>
<ellipse cx="668.3" cy="410.4" rx="0.4" ry="0.32" fill="#17902a" opacity="0.95"/>
<ellipse cx="645.5" cy="401.7" rx="0.57" ry="0.45" fill="#17902a" opacity="0.95"/>
<ellipse cx="677.1" cy="427.3" rx="0.4" ry="0.32" fill="#17902a" opacity="0.95"/>
</g>
<text x="656.4" y="483.6" font-size="4.6" text-anchor="middle" font-weight="bold" fill="#fff">X</text>
<line x1="653.6" y1="481.6" x2="650.78" y2="479.43" stroke="#fff" stroke-width="1.2"/>
<polygon points="648.4,477.6 651.78,478.12 649.77,480.74" fill="#fff"/>
<line x1="658.8" y1="480.4" x2="661.5" y2="477.12" stroke="#fff" stroke-width="1.2"/>
<polygon points="663.4,474.8 662.77,478.17 660.22,476.07" fill="#fff"/>
<rect x="590.2" y="499.2" width="47.7" height="3.1" fill="#fff"/>
<text x="614.9" y="498.4" font-size="5.7" text-anchor="middle" fill="#fff" textLength="20.2" lengthAdjust="spacingAndGlyphs">100μm</text>
<circle cx="644.9" cy="492.8" r="1.2" fill="#22cc22"/>
<text x="650.5" y="494.6" font-size="5" font-weight="bold" fill="#1fc41f" textLength="26.4" lengthAdjust="spacingAndGlyphs">BdoSat1A</text>
<circle cx="644.9" cy="501.1" r="1.2" fill="#e08a1e"/>
<text x="650.5" y="502.9" font-size="5" font-weight="bold" fill="#e08a1e" textLength="26.4" lengthAdjust="spacingAndGlyphs">BdoSat3A</text>
</g>
</svg></body></html>
